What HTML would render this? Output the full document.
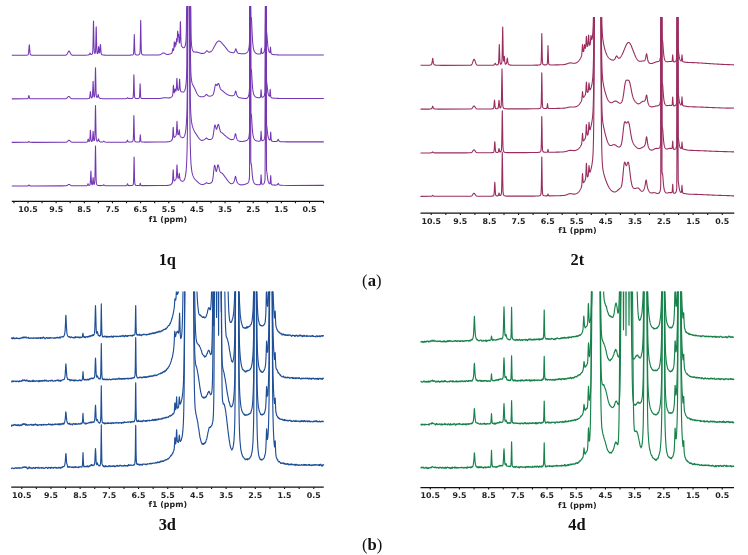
<!DOCTYPE html>
<html><head><meta charset="utf-8"><title>NMR spectra</title>
<style>html,body{margin:0;padding:0;background:#fff;}body{width:748px;height:555px;overflow:hidden;}svg{display:block;filter:blur(0.35px);}</style>
</head><body>
<svg width="748" height="555" viewBox="0 0 748 555">
<defs><clipPath id="c0"><rect x="10.80" y="6.00" width="313.90" height="194.00"/></clipPath><clipPath id="c1"><rect x="419.50" y="17.00" width="315.70" height="195.00"/></clipPath><clipPath id="c2"><rect x="10.30" y="291.50" width="314.40" height="194.50"/></clipPath><clipPath id="c3"><rect x="419.50" y="291.50" width="315.50" height="194.50"/></clipPath></defs>
<g clip-path="url(#c0)" fill="none" stroke="#7436b4" stroke-width="1.05" stroke-linejoin="round">
<path d="M11.80 55.29 24.80 55.24 26.30 55.18 27.05 55.10 27.30 55.05 27.55 54.99 27.80 54.89 28.05 54.71 28.30 54.29 28.55 53.17 28.80 50.67 29.05 46.93 29.30 44.68 29.55 46.93 29.80 50.67 30.05 53.17 30.30 54.29 30.55 54.71 30.80 54.88 31.05 54.98 31.30 55.05 31.80 55.13 32.55 55.19 34.30 55.24 65.55 55.18 65.80 55.13 66.05 55.04 66.30 54.91 66.55 54.73 66.80 54.47 67.05 54.13 67.30 53.71 67.55 53.22 67.80 52.70 68.05 52.18 68.30 51.70 68.55 51.33 68.80 51.10 69.00 51.04 69.05 51.05 69.30 51.17 69.55 51.46 69.80 51.88 70.05 52.38 70.30 52.91 70.55 53.42 70.80 53.88 71.05 54.27 71.30 54.57 71.55 54.80 71.80 54.96 72.05 55.07 72.30 55.14 72.80 55.21 85.80 55.16 87.30 55.09 88.05 55.02 88.30 54.97 88.55 54.91 88.80 54.81 89.05 54.66 89.30 54.41 89.55 53.96 89.80 53.32 90.00 53.03 90.05 53.04 90.30 53.52 90.55 54.05 90.80 54.35 91.05 54.48 91.55 54.47 91.80 54.36 92.05 54.16 92.30 53.81 92.55 53.07 92.80 50.77 93.05 43.27 93.30 28.52 93.50 20.94 93.55 21.50 93.80 34.82 94.05 47.03 94.30 51.77 94.55 53.03 94.80 53.36 95.05 53.31 95.30 52.75 95.55 50.43 95.80 43.05 96.05 30.59 96.20 26.81 96.30 28.62 96.55 40.81 96.80 49.59 97.05 52.68 97.30 53.50 97.55 53.70 97.80 53.41 98.05 52.09 98.30 49.31 98.55 46.71 98.60 46.61 98.80 48.00 99.05 51.07 99.30 52.82 99.55 52.88 99.80 51.30 100.05 48.07 100.30 44.82 100.40 44.42 100.55 45.36 100.80 49.02 101.05 52.13 101.30 53.75 101.55 54.38 101.80 54.64 102.05 54.77 102.30 54.86 102.55 54.92 103.05 55.00 103.80 55.07 105.05 55.13 108.80 55.18 130.05 55.13 131.30 55.07 132.05 55.00 132.30 54.96 132.55 54.89 132.80 54.80 133.05 54.65 133.30 54.39 133.55 53.73 133.80 51.06 134.05 42.73 134.30 34.64 134.55 42.72 134.80 51.04 135.05 53.71 135.30 54.36 135.55 54.62 135.80 54.76 136.05 54.84 136.30 54.90 136.80 54.95 138.30 54.88 138.55 54.82 138.80 54.74 139.05 54.63 139.30 54.44 139.55 54.14 139.80 53.53 140.05 51.65 140.30 43.91 140.55 26.51 140.70 20.34 140.80 23.32 141.05 41.05 141.30 50.81 141.55 53.34 141.80 54.06 142.05 54.41 142.30 54.61 142.55 54.74 142.80 54.83 143.05 54.89 143.55 54.97 144.30 55.04 145.80 55.09 157.80 55.03 158.55 54.97 159.05 54.92 159.55 54.83 159.80 54.78 160.05 54.71 160.30 54.62 160.55 54.52 160.80 54.40 161.05 54.26 161.30 54.11 161.55 53.94 161.80 53.75 162.05 53.57 162.30 53.38 162.55 53.22 162.80 53.08 163.05 52.97 163.30 52.90 163.80 52.91 164.05 52.98 164.30 53.09 164.55 53.22 164.80 53.38 165.05 53.55 165.30 53.71 165.55 53.87 165.80 54.01 166.05 54.13 166.30 54.23 166.55 54.31 166.80 54.37 167.30 54.42 168.30 54.36 168.80 54.27 169.05 54.22 169.30 54.16 169.55 54.10 169.80 54.03 170.05 53.96 170.30 53.88 170.55 53.79 170.80 53.69 171.00 53.61 171.05 53.58 171.30 53.45 171.55 53.29 171.80 53.06 172.05 52.60 172.30 51.57 172.55 49.84 172.80 48.57 173.05 49.30 173.30 50.42 173.55 50.53 173.80 48.92 174.05 45.05 174.30 41.85 174.55 44.21 174.80 47.03 175.05 46.87 175.30 44.25 175.50 42.62 175.55 42.62 175.80 44.26 176.05 44.85 176.30 42.31 176.55 38.84 176.60 38.60 176.80 39.80 177.05 41.68 177.30 39.33 177.55 33.16 177.70 31.04 177.80 31.66 178.05 36.17 178.30 36.79 178.50 34.58 178.55 34.25 178.60 34.18 178.80 36.58 179.05 40.89 179.30 42.88 179.55 42.90 179.80 40.56 180.05 33.28 180.30 23.06 180.40 21.62 180.55 25.01 180.80 35.96 181.05 42.58 181.30 44.91 181.55 45.77 181.80 46.29 182.05 46.69 182.30 47.00 182.40 47.11 182.55 47.26 182.80 47.47 183.05 47.63 183.30 47.74 183.80 47.77 184.05 47.67 184.30 47.48 184.55 47.17 184.80 46.73 185.05 46.11 185.30 45.28 185.55 44.12 185.80 42.42 186.05 39.34 186.30 32.14 186.55 12.55 186.80 3.00 190.55 3.00 190.80 8.13 191.05 32.36 191.20 38.68 191.30 41.27 191.55 45.01 191.80 47.04 192.05 48.40 192.30 49.40 192.55 50.17 192.80 50.75 193.05 51.19 193.20 51.39 193.30 51.51 193.55 51.74 193.80 51.91 194.05 52.02 194.30 52.09 197.05 52.14 197.30 52.19 197.55 52.24 197.80 52.30 198.05 52.38 198.30 52.46 198.55 52.55 198.80 52.65 199.05 52.74 199.30 52.84 199.55 52.94 199.80 53.03 200.05 53.12 200.30 53.20 200.55 53.27 200.80 53.33 201.05 53.39 201.55 53.47 203.30 53.39 203.55 53.33 203.80 53.26 204.05 53.17 204.30 53.05 204.55 52.92 204.80 52.76 205.05 52.57 205.30 52.34 205.55 52.08 205.80 51.78 206.05 51.47 206.30 51.18 206.55 50.95 206.80 50.84 207.05 50.87 207.30 51.01 207.55 51.22 207.80 51.44 208.05 51.65 208.30 51.83 208.55 51.97 208.80 52.06 209.05 52.12 209.80 52.11 210.05 52.05 210.30 51.95 210.55 51.83 210.80 51.67 211.05 51.48 211.30 51.27 211.55 51.02 211.80 50.74 212.05 50.43 212.30 50.09 212.55 49.72 212.80 49.33 213.05 48.92 213.30 48.48 213.55 48.03 213.80 47.57 214.05 47.10 214.30 46.62 214.55 46.15 214.80 45.67 215.05 45.20 215.30 44.74 215.50 44.38 215.55 44.30 215.80 43.87 216.05 43.46 216.30 43.07 216.55 42.71 216.80 42.38 217.05 42.08 217.30 41.81 217.55 41.57 217.80 41.38 218.05 41.22 218.30 41.10 218.55 41.02 219.30 41.02 219.55 41.10 219.80 41.21 220.05 41.36 220.30 41.54 220.50 41.70 220.55 41.74 220.80 41.96 221.05 42.21 221.30 42.47 221.55 42.74 221.80 43.03 222.05 43.31 222.30 43.60 222.55 43.89 222.80 44.18 223.05 44.47 223.30 44.75 223.55 45.04 223.80 45.32 224.05 45.61 224.30 45.89 224.55 46.19 224.80 46.48 225.05 46.79 225.30 47.10 225.55 47.42 225.70 47.62 225.80 47.75 226.05 48.08 226.30 48.42 226.55 48.76 226.80 49.10 227.05 49.43 227.30 49.75 227.55 50.06 227.80 50.36 228.05 50.63 228.30 50.89 228.55 51.13 228.80 51.34 229.05 51.53 229.30 51.70 229.55 51.85 229.80 51.97 230.05 52.09 230.30 52.18 230.55 52.27 230.80 52.35 231.00 52.40 231.05 52.42 231.30 52.48 231.55 52.53 231.80 52.58 232.30 52.67 233.55 52.65 233.80 52.56 234.05 52.41 234.30 52.19 234.55 51.85 234.80 51.36 235.05 50.69 235.30 49.85 235.55 49.06 235.80 48.73 236.05 49.11 236.30 49.95 236.55 50.83 236.80 51.56 237.05 52.10 237.30 52.49 237.55 52.77 237.80 52.97 238.05 53.12 238.30 53.24 238.55 53.32 238.80 53.39 239.05 53.44 239.55 53.52 240.05 53.57 240.80 53.65 241.55 53.72 242.30 53.79 244.30 53.73 244.55 53.68 244.80 53.62 245.05 53.55 245.30 53.46 245.55 53.37 245.80 53.26 246.05 53.13 246.30 52.98 246.55 52.82 246.80 52.63 247.05 52.41 247.30 52.15 247.55 51.84 247.80 51.47 248.05 51.02 248.30 50.44 248.55 49.70 248.80 48.72 249.05 47.35 249.30 45.32 249.55 41.04 249.80 3.00 250.55 3.00 250.80 18.05 251.05 18.59 251.30 17.42 251.55 20.03 251.80 25.40 252.05 31.35 252.30 36.52 252.55 40.56 252.80 43.60 253.05 45.86 253.30 47.56 253.55 48.85 253.80 49.85 254.05 50.62 254.30 51.24 254.55 51.74 254.80 52.14 255.05 52.47 255.30 52.74 255.55 52.97 255.80 53.16 256.05 53.32 256.30 53.46 256.55 53.58 256.80 53.68 257.05 53.76 257.30 53.84 257.55 53.90 257.80 53.95 258.30 54.03 259.05 54.08 260.05 54.00 260.30 53.92 260.55 53.74 260.80 53.06 261.05 50.63 261.30 47.99 261.55 50.53 261.80 52.85 262.05 53.42 262.30 53.48 262.55 53.42 262.80 53.30 263.05 53.14 263.30 52.92 263.55 52.63 263.80 52.26 264.05 51.78 264.30 51.12 264.55 50.19 264.80 48.81 265.05 46.49 265.30 3.00 266.30 3.00 266.55 32.34 266.70 32.81 266.80 33.40 267.05 36.00 267.30 39.45 267.55 42.75 267.80 45.44 268.05 47.50 268.30 49.03 268.55 50.17 268.80 51.01 269.05 51.65 269.30 52.12 269.55 52.44 269.80 52.55 270.05 51.85 270.30 49.04 270.50 47.13 270.55 47.33 270.80 50.84 271.05 53.10 271.30 53.72 271.55 53.96 271.80 54.10 272.05 54.21 272.30 54.30 272.55 54.37 272.80 54.43 273.05 54.48 273.55 54.56 274.05 54.63 274.55 54.69 275.30 54.75 276.30 54.81 277.55 54.87 279.30 54.93 282.05 54.98 287.30 55.03 315.05 55.08 323.80 55.08"/>
<path d="M11.80 98.89 26.05 98.84 27.30 98.76 27.55 98.72 27.80 98.63 28.05 98.39 28.30 97.81 28.55 96.75 28.80 95.70 28.90 95.57 29.05 95.85 29.30 96.99 29.55 97.96 29.80 98.46 30.05 98.65 30.30 98.73 30.80 98.79 32.30 98.84 65.30 98.78 65.80 98.71 66.05 98.64 66.30 98.54 66.55 98.40 66.80 98.22 67.05 97.99 67.30 97.72 67.55 97.42 67.80 97.12 68.05 96.84 68.30 96.61 68.55 96.46 68.80 96.41 69.05 96.46 69.30 96.61 69.55 96.84 69.80 97.11 70.05 97.41 70.30 97.71 70.55 97.98 70.80 98.21 71.05 98.39 71.30 98.53 71.55 98.63 71.80 98.70 72.30 98.77 86.30 98.71 87.55 98.66 88.30 98.59 88.55 98.56 88.80 98.50 89.05 98.42 89.30 98.28 89.55 97.91 89.80 96.85 90.05 94.56 90.30 91.94 90.40 91.58 90.55 92.30 90.80 95.01 91.05 96.98 91.30 97.75 91.55 97.93 91.80 97.88 92.05 97.66 92.30 96.98 92.55 94.56 92.80 88.40 93.05 81.68 93.10 81.39 93.30 85.11 93.55 92.39 93.80 96.01 94.05 96.95 94.30 96.99 94.55 96.50 94.80 94.53 95.05 87.83 95.30 74.57 95.50 67.77 95.55 68.28 95.80 80.35 96.05 91.41 96.30 95.74 96.55 96.93 96.80 97.31 97.05 97.40 97.30 97.26 97.55 96.84 97.80 95.97 98.05 94.80 98.20 94.50 98.30 94.67 98.55 95.87 98.80 96.94 99.05 97.58 99.30 97.94 99.55 98.16 99.80 98.30 100.05 98.39 100.30 98.46 100.80 98.55 101.30 98.60 102.30 98.66 104.55 98.71 125.30 98.66 126.05 98.59 126.30 98.55 126.55 98.48 126.80 98.36 127.05 98.14 127.30 97.83 127.50 97.69 127.55 97.70 127.80 97.95 128.05 98.23 128.30 98.40 128.55 98.49 128.80 98.54 129.55 98.60 131.30 98.54 131.80 98.47 132.05 98.41 132.30 98.32 132.55 98.18 132.80 97.94 133.05 97.44 133.30 95.69 133.55 88.96 133.80 76.74 133.90 74.68 134.05 78.94 134.30 90.93 134.55 96.27 134.80 97.57 135.05 97.98 135.30 98.19 135.55 98.32 135.80 98.40 136.05 98.45 136.55 98.51 138.30 98.46 138.55 98.40 138.80 98.31 139.05 98.14 139.30 97.77 139.55 96.33 139.80 91.25 140.05 84.19 140.10 83.86 140.30 88.06 140.55 94.89 140.80 97.44 141.05 98.05 141.30 98.27 141.55 98.39 141.80 98.46 142.30 98.54 143.05 98.59 158.80 98.54 159.80 98.47 160.30 98.42 160.80 98.35 161.30 98.27 161.80 98.18 162.05 98.12 162.30 98.07 162.55 98.02 162.80 97.96 163.05 97.91 163.30 97.86 163.80 97.77 164.30 97.70 166.80 97.78 167.30 97.85 167.80 97.91 169.55 97.89 169.80 97.84 170.05 97.77 170.30 97.69 170.55 97.59 170.80 97.46 171.05 97.32 171.30 97.15 171.55 96.95 171.80 96.71 172.05 96.42 172.30 96.06 172.55 95.48 172.80 94.09 173.05 90.65 173.30 85.98 173.40 85.20 173.55 86.35 173.80 90.43 174.05 92.63 174.30 92.76 174.55 91.67 174.80 89.85 175.00 88.90 175.05 88.89 175.30 89.87 175.55 90.92 175.80 91.20 176.05 90.77 176.30 89.18 176.55 84.93 176.80 79.11 176.90 78.21 177.05 79.89 177.30 85.56 177.50 88.48 177.55 88.91 177.80 89.94 178.05 90.19 178.30 90.24 178.55 90.16 178.80 89.77 179.05 88.16 179.30 83.93 179.55 79.32 179.60 79.14 179.80 81.89 180.05 87.20 180.30 89.95 180.55 90.87 180.80 91.24 181.05 91.47 181.30 91.64 181.55 91.78 181.80 91.89 182.05 91.98 182.30 92.04 182.80 92.10 183.05 92.08 183.30 92.03 183.55 91.93 183.80 91.78 184.05 91.55 184.30 91.25 184.55 90.84 184.80 90.29 185.05 89.58 185.30 88.66 185.55 87.45 185.80 85.87 186.05 83.78 186.30 80.89 186.55 76.32 186.80 66.28 187.05 35.46 187.30 3.00 190.05 3.00 190.30 20.39 190.55 59.14 190.80 71.03 191.05 75.80 191.30 78.55 191.55 80.44 191.80 81.83 192.05 82.88 192.30 83.69 192.55 84.35 192.80 84.90 192.90 85.10 193.05 85.39 193.30 85.85 193.55 86.30 193.80 86.75 194.05 87.22 194.30 87.71 194.55 88.22 194.70 88.54 194.80 88.76 195.05 89.31 195.30 89.87 195.55 90.44 195.80 91.01 196.05 91.58 196.30 92.13 196.55 92.66 196.80 93.16 197.05 93.64 197.30 94.08 197.55 94.48 197.80 94.84 198.05 95.17 198.30 95.45 198.55 95.70 198.80 95.92 199.05 96.10 199.30 96.25 199.55 96.38 199.80 96.48 200.05 96.56 200.30 96.63 200.55 96.68 201.00 96.75 201.80 96.80 203.05 96.72 203.30 96.67 203.55 96.60 203.80 96.51 204.05 96.40 204.30 96.27 204.55 96.11 204.80 95.91 205.05 95.68 205.30 95.41 205.55 95.12 205.80 94.83 206.05 94.59 206.30 94.46 206.55 94.45 206.80 94.57 207.05 94.78 207.30 95.04 207.55 95.29 207.80 95.51 208.05 95.70 208.30 95.85 208.55 95.97 208.80 96.06 209.05 96.12 209.55 96.19 210.55 96.09 210.80 96.03 211.05 95.95 211.30 95.86 211.55 95.76 211.80 95.65 212.05 95.52 212.30 95.36 212.55 95.18 212.80 94.95 213.05 94.63 213.30 94.20 213.55 93.59 213.80 92.78 214.05 91.73 214.30 90.45 214.55 89.02 214.80 87.54 215.05 86.19 215.30 85.11 215.55 84.44 215.60 84.36 215.80 84.22 216.05 84.37 216.30 84.76 216.55 85.20 216.80 85.51 217.00 85.57 217.05 85.56 217.30 85.32 217.55 84.85 217.80 84.28 218.05 83.76 218.30 83.45 218.55 83.43 218.80 83.74 219.05 84.34 219.30 85.15 219.55 86.06 219.80 86.96 220.05 87.78 220.30 88.47 220.55 89.01 220.80 89.42 221.05 89.72 221.30 89.94 221.50 90.09 221.55 90.12 221.80 90.28 222.00 90.40 222.05 90.43 222.30 90.59 222.55 90.77 222.80 90.95 223.05 91.15 223.30 91.36 223.55 91.58 223.80 91.81 224.05 92.04 224.30 92.27 224.55 92.49 224.80 92.71 225.05 92.93 225.30 93.14 225.55 93.34 225.80 93.53 226.05 93.71 226.30 93.89 226.50 94.02 226.55 94.05 226.80 94.21 227.05 94.36 227.30 94.50 227.55 94.63 227.80 94.75 228.05 94.87 228.30 94.98 228.55 95.08 228.80 95.18 229.05 95.27 229.30 95.35 229.55 95.42 229.80 95.49 230.05 95.55 230.30 95.61 230.80 95.69 231.30 95.76 233.05 95.70 233.30 95.64 233.55 95.53 233.80 95.38 234.05 95.17 234.30 94.85 234.55 94.39 234.80 93.74 235.05 92.87 235.30 91.87 235.55 91.12 235.70 91.01 235.80 91.11 236.05 91.91 236.30 93.05 236.55 94.11 236.80 94.96 237.05 95.60 237.30 96.08 237.55 96.45 237.80 96.74 238.05 96.98 238.30 97.17 238.55 97.33 238.80 97.46 239.05 97.57 239.30 97.67 239.55 97.75 239.80 97.82 240.05 97.88 240.30 97.94 240.80 98.02 241.30 98.08 241.80 98.14 242.30 98.19 242.80 98.24 243.30 98.31 243.80 98.38 244.30 98.45 244.80 98.52 245.55 98.58 246.30 98.50 246.55 98.43 246.80 98.32 247.05 98.18 247.30 97.98 247.50 97.79 247.55 97.74 247.80 97.42 248.05 97.01 248.30 96.49 248.55 95.81 248.80 94.91 249.05 93.67 249.30 91.82 249.55 87.80 249.80 3.00 250.55 3.00 250.80 68.68 251.05 70.26 251.30 69.46 251.55 71.52 251.80 75.69 252.05 80.29 252.30 84.28 252.55 87.39 252.80 89.72 253.05 91.46 253.30 92.76 253.55 93.74 253.80 94.50 254.05 95.09 254.30 95.56 254.55 95.94 254.80 96.25 255.05 96.50 255.30 96.71 255.55 96.89 255.80 97.03 256.05 97.16 256.30 97.27 256.55 97.36 256.80 97.43 257.05 97.50 257.30 97.56 257.80 97.64 258.30 97.70 259.80 97.65 260.05 97.57 260.30 97.39 260.55 96.74 260.80 94.10 261.05 89.94 261.10 89.73 261.30 92.23 261.55 95.92 261.80 97.06 262.05 97.26 262.55 97.25 262.80 97.17 263.05 97.05 263.30 96.88 263.55 96.67 263.80 96.38 264.05 96.01 264.30 95.48 264.55 94.74 264.80 93.59 265.05 91.58 265.30 48.05 265.55 3.00 266.05 3.00 266.30 40.73 266.55 81.67 266.70 82.28 266.80 82.80 267.05 84.80 267.30 87.31 267.55 89.68 267.80 91.61 268.05 93.06 268.30 94.15 268.55 94.94 268.80 95.52 269.05 95.93 269.30 96.18 269.55 96.12 269.80 94.77 270.05 90.81 270.20 89.31 270.30 90.15 270.55 94.60 270.80 96.78 271.05 97.34 271.30 97.56 271.55 97.70 271.80 97.80 272.05 97.88 272.30 97.94 272.55 97.99 273.05 98.07 273.55 98.14 274.30 98.21 275.05 98.26 276.05 98.31 277.55 98.36 280.05 98.41 285.55 98.46 323.80 98.48"/>
<path d="M11.80 142.39 27.05 142.34 27.80 142.29 28.05 142.22 28.30 142.04 28.55 141.72 28.80 141.41 28.90 141.37 29.05 141.45 29.30 141.80 29.55 142.09 29.80 142.24 30.05 142.30 31.55 142.35 64.80 142.30 65.80 142.24 66.05 142.20 66.30 142.14 66.55 142.05 66.80 141.92 67.05 141.76 67.30 141.56 67.55 141.33 67.80 141.08 68.05 140.83 68.30 140.61 68.55 140.43 68.80 140.32 69.05 140.29 69.30 140.35 69.55 140.49 69.80 140.69 70.05 140.93 70.30 141.18 70.55 141.42 70.80 141.64 71.05 141.82 71.30 141.97 71.55 142.08 71.80 142.15 72.05 142.21 72.55 142.26 84.55 142.21 86.05 142.15 86.80 142.07 87.05 142.01 87.30 141.87 87.55 141.49 87.80 140.61 88.05 139.40 88.20 139.06 88.30 139.20 88.55 140.27 88.80 141.17 89.05 141.52 89.30 141.50 89.55 141.17 89.80 139.88 90.05 136.21 90.30 131.10 90.40 130.35 90.55 131.92 90.80 137.13 91.05 140.21 91.30 141.18 91.55 141.41 91.80 141.44 92.05 141.34 92.30 140.93 92.55 139.43 92.80 135.58 93.05 131.38 93.10 131.19 93.30 133.49 93.55 137.98 93.80 140.17 94.05 140.65 94.30 140.50 94.55 139.82 94.80 137.43 95.05 129.45 95.30 113.71 95.50 105.64 95.55 106.25 95.80 120.56 96.05 133.70 96.30 138.86 96.55 140.33 96.80 140.86 97.05 141.11 97.30 141.21 97.55 141.17 97.80 140.98 98.05 140.54 98.30 139.74 98.55 139.02 98.60 138.99 98.80 139.43 99.05 140.39 99.30 141.05 99.55 141.43 99.80 141.65 100.05 141.78 100.30 141.87 100.55 141.92 101.05 141.99 102.55 141.92 102.80 141.84 103.05 141.69 103.30 141.47 103.55 141.22 103.70 141.17 103.80 141.19 104.05 141.43 104.30 141.68 104.55 141.85 104.80 141.95 105.05 142.02 105.55 142.09 106.55 142.15 126.05 142.10 126.30 142.07 126.55 142.00 126.80 141.80 127.05 141.30 127.30 140.51 127.50 140.15 127.55 140.18 127.80 140.83 128.05 141.54 128.30 141.89 128.55 142.01 129.05 142.07 131.30 142.00 131.80 141.92 132.05 141.85 132.30 141.75 132.55 141.59 132.80 141.32 133.05 140.77 133.30 138.83 133.55 131.34 133.80 117.74 133.90 115.45 134.05 120.19 134.30 133.53 134.55 139.47 134.80 140.92 135.05 141.38 135.30 141.62 135.55 141.76 135.80 141.85 136.05 141.91 136.55 141.98 137.55 142.03 138.80 141.98 139.05 141.93 139.30 141.83 139.55 141.60 139.80 140.66 140.05 137.69 140.30 134.82 140.55 137.69 140.80 140.66 141.05 141.61 141.30 141.85 141.55 141.94 141.80 141.99 142.30 142.05 144.30 142.10 157.30 142.05 162.05 142.00 165.05 141.94 166.80 141.88 167.80 141.81 168.30 141.76 168.80 141.69 169.05 141.64 169.30 141.58 169.55 141.52 169.80 141.45 170.05 141.36 170.30 141.26 170.55 141.15 170.80 141.01 171.05 140.86 171.30 140.68 171.55 140.46 171.80 140.20 172.05 139.86 172.30 139.34 172.55 138.07 172.80 134.63 173.05 129.01 173.20 127.22 173.30 127.88 173.55 132.81 173.80 136.28 174.05 137.31 174.30 137.38 174.55 137.22 174.80 136.99 175.05 136.71 175.30 136.41 175.55 136.07 175.80 135.69 176.05 135.17 176.30 134.03 176.55 130.77 176.80 124.56 177.00 121.36 177.05 121.57 177.30 126.98 177.50 131.24 177.55 131.97 177.80 133.91 178.05 134.46 178.30 134.62 178.55 134.51 178.80 133.63 179.05 131.40 179.30 129.70 179.55 131.80 179.80 134.42 180.05 135.70 180.30 136.22 180.55 136.53 180.80 136.79 181.05 137.00 181.30 137.19 181.55 137.36 181.80 137.49 182.05 137.59 182.30 137.66 182.80 137.66 183.05 137.60 183.30 137.47 183.55 137.29 183.80 137.03 184.05 136.69 184.30 136.26 184.55 135.70 184.80 135.00 185.05 134.13 185.30 133.03 185.55 131.65 185.80 129.88 186.05 127.60 186.30 124.60 186.55 120.58 186.80 114.96 187.05 106.19 187.30 85.59 187.55 6.02 187.80 3.00 189.80 3.00 190.05 72.72 190.30 98.24 190.55 107.54 190.80 113.02 191.05 116.81 191.30 119.58 191.55 121.66 191.80 123.28 192.05 124.59 192.30 125.67 192.55 126.60 192.80 127.41 193.05 128.14 193.30 128.81 193.55 129.42 193.80 130.00 194.05 130.54 194.30 131.05 194.55 131.53 194.80 131.99 195.05 132.42 195.30 132.83 195.55 133.23 195.80 133.62 196.05 134.00 196.30 134.37 196.40 134.52 196.55 134.74 196.80 135.11 197.05 135.48 197.30 135.85 197.55 136.23 197.80 136.60 198.05 136.98 198.30 137.34 198.55 137.70 198.80 138.05 199.05 138.39 199.30 138.70 199.55 139.00 199.80 139.27 200.05 139.51 200.30 139.72 200.55 139.91 200.80 140.06 201.05 140.19 201.30 140.28 201.55 140.35 202.55 140.35 202.80 140.29 203.05 140.21 203.30 140.12 203.55 140.01 203.80 139.89 204.05 139.75 204.30 139.60 204.55 139.42 204.80 139.23 205.05 139.02 205.30 138.79 205.50 138.59 205.55 138.55 205.80 138.32 206.05 138.13 206.30 138.04 206.55 138.05 206.80 138.17 207.05 138.37 207.30 138.59 207.55 138.82 207.80 139.02 208.05 139.19 208.30 139.33 208.55 139.43 208.80 139.51 209.05 139.56 210.05 139.54 210.30 139.49 210.55 139.42 210.80 139.33 211.05 139.23 211.30 139.11 211.55 138.97 211.80 138.78 212.05 138.54 212.30 138.20 212.55 137.70 212.80 137.00 213.05 136.02 213.30 134.72 213.55 133.12 213.80 131.27 214.05 129.34 214.30 127.55 214.55 126.12 214.80 125.25 214.90 125.09 215.05 125.04 215.30 125.46 215.55 126.33 215.80 127.40 216.05 128.39 216.30 129.07 216.50 129.27 216.55 129.27 216.80 128.97 217.00 128.40 217.05 128.23 217.30 127.20 217.55 126.10 217.80 125.15 218.05 124.50 218.20 124.32 218.30 124.29 218.55 124.54 218.80 125.21 219.05 126.17 219.30 127.30 219.55 128.45 219.80 129.50 220.05 130.39 220.30 131.09 220.55 131.62 220.80 131.99 221.05 132.25 221.30 132.45 221.50 132.58 221.55 132.61 221.80 132.76 222.00 132.88 222.05 132.91 222.30 133.07 222.55 133.25 222.80 133.44 223.05 133.65 223.30 133.87 223.55 134.10 223.80 134.33 224.05 134.57 224.30 134.80 224.55 135.04 224.80 135.27 225.05 135.50 225.30 135.73 225.55 135.95 225.80 136.17 226.05 136.38 226.30 136.58 226.50 136.75 226.55 136.79 226.80 136.99 227.05 137.19 227.30 137.39 227.55 137.58 227.80 137.77 228.05 137.96 228.20 138.07 228.30 138.14 228.55 138.32 228.80 138.49 229.05 138.65 229.30 138.81 229.55 138.95 229.80 139.08 230.05 139.20 230.30 139.31 230.55 139.40 230.80 139.47 231.05 139.54 231.55 139.61 232.55 139.56 232.80 139.49 233.05 139.39 233.30 139.26 233.55 139.07 233.80 138.80 234.05 138.43 234.30 137.90 234.55 137.16 234.80 136.16 235.05 134.97 235.30 133.96 235.50 133.68 235.55 133.71 235.80 134.45 236.05 135.72 236.30 136.97 236.55 137.99 236.80 138.75 237.05 139.32 237.30 139.75 237.55 140.08 237.80 140.34 238.05 140.55 238.30 140.72 238.55 140.87 238.80 140.98 239.05 141.08 239.30 141.17 239.55 141.23 239.80 141.29 240.30 141.38 240.80 141.43 243.05 141.37 243.55 141.31 244.05 141.23 244.30 141.18 244.55 141.13 244.80 141.08 245.05 141.02 245.30 140.95 245.55 140.88 245.80 140.80 246.05 140.70 246.30 140.60 246.40 140.55 246.55 140.48 246.80 140.34 247.05 140.18 247.30 139.99 247.55 139.76 247.80 139.48 248.05 139.12 248.30 138.67 248.55 138.09 248.80 137.30 249.05 136.19 249.30 134.49 249.55 130.65 249.80 3.00 250.55 3.00 250.80 113.09 251.05 115.03 251.30 114.43 251.55 116.43 251.80 120.38 252.05 124.71 252.30 128.47 252.55 131.40 252.80 133.61 253.05 135.25 253.30 136.48 253.55 137.42 253.80 138.14 254.05 138.70 254.30 139.15 254.55 139.51 254.80 139.80 255.05 140.04 255.30 140.23 255.55 140.40 255.80 140.54 256.05 140.66 256.30 140.76 256.55 140.84 256.80 140.91 257.05 140.97 257.30 141.02 257.80 141.10 258.55 141.16 259.55 141.11 259.80 141.05 260.05 140.95 260.30 140.73 260.55 139.91 260.80 136.62 261.05 131.43 261.10 131.17 261.30 134.30 261.55 138.92 261.80 140.35 262.05 140.62 262.30 140.67 262.55 140.65 262.80 140.57 263.05 140.46 263.30 140.30 263.55 140.08 263.80 139.80 264.05 139.42 264.30 138.90 264.55 138.16 264.80 137.01 265.05 135.00 265.30 91.47 265.55 3.00 266.05 3.00 266.30 84.15 266.55 125.09 266.70 125.70 266.80 126.22 267.05 128.22 267.30 130.74 267.55 133.11 267.80 135.03 268.05 136.49 268.30 137.58 268.55 138.39 268.80 138.99 269.05 139.43 269.30 139.76 269.55 139.98 269.80 140.07 270.05 139.87 270.30 138.24 270.55 133.70 270.70 131.97 270.80 132.89 271.05 137.84 271.30 140.25 271.55 140.84 271.80 141.06 272.05 141.19 272.30 141.28 272.55 141.34 272.80 141.40 273.30 141.47 273.80 141.53 274.80 141.58 276.30 141.51 276.55 141.45 276.80 141.37 277.05 141.23 277.30 141.00 277.55 140.63 277.80 140.05 278.05 139.44 278.20 139.29 278.30 139.36 278.55 139.94 278.80 140.56 279.05 140.98 279.30 141.24 279.55 141.41 279.80 141.52 280.05 141.59 280.30 141.64 280.80 141.71 281.55 141.77 283.05 141.82 287.30 141.87 323.80 141.88"/>
<path d="M11.80 185.99 27.05 185.94 27.80 185.89 28.05 185.82 28.30 185.64 28.55 185.32 28.80 185.00 28.90 184.96 29.05 185.05 29.30 185.39 29.55 185.68 29.80 185.83 30.05 185.89 31.55 185.94 61.55 185.89 65.80 185.84 66.30 185.76 66.55 185.69 66.80 185.60 67.05 185.48 67.30 185.33 67.55 185.16 67.80 184.97 68.05 184.78 68.30 184.61 68.55 184.48 68.80 184.40 69.30 184.42 69.55 184.52 69.80 184.67 70.05 184.85 70.30 185.04 70.55 185.22 70.80 185.38 71.05 185.52 71.30 185.63 71.55 185.71 71.80 185.77 72.30 185.83 85.05 185.78 86.30 185.72 86.80 185.66 87.05 185.59 87.30 185.38 87.55 184.87 87.80 184.06 88.00 183.69 88.05 183.71 88.30 184.34 88.55 185.02 88.80 185.34 89.05 185.41 89.30 185.37 89.55 185.27 89.80 185.07 90.05 184.59 90.30 182.94 90.55 178.30 90.80 171.88 90.90 170.93 91.05 172.90 91.30 179.43 91.55 183.28 91.80 184.47 92.05 184.72 92.30 184.55 92.55 183.52 92.80 180.76 93.05 177.72 93.10 177.59 93.30 179.25 93.55 182.49 93.80 184.04 94.05 184.32 94.30 184.07 94.55 183.30 94.80 180.68 95.05 171.97 95.30 154.80 95.50 146.01 95.55 146.67 95.80 162.29 96.05 176.63 96.30 182.29 96.55 183.92 96.80 184.55 97.05 184.90 97.30 185.12 97.55 185.26 97.80 185.37 98.05 185.44 98.30 185.50 98.80 185.58 99.55 185.64 102.30 185.59 102.55 185.54 102.80 185.45 103.05 185.30 103.30 185.07 103.55 184.82 103.70 184.76 103.80 184.79 104.05 185.02 104.30 185.27 104.55 185.44 104.80 185.54 105.05 185.61 105.55 185.68 106.55 185.73 126.05 185.66 126.30 185.63 126.55 185.57 126.80 185.37 127.05 184.86 127.30 184.07 127.50 183.72 127.55 183.74 127.80 184.39 128.05 185.10 128.30 185.46 128.55 185.58 129.05 185.64 131.30 185.58 131.80 185.51 132.05 185.45 132.30 185.37 132.55 185.26 132.80 185.07 133.05 184.75 133.30 184.02 133.55 181.23 133.80 171.41 134.05 157.77 134.10 157.12 134.30 165.24 134.55 178.44 134.80 183.36 135.05 184.53 135.30 184.96 135.55 185.18 135.80 185.32 136.05 185.41 136.30 185.47 136.80 185.55 137.55 185.60 139.30 185.57 139.55 185.49 139.80 185.17 140.05 184.16 140.30 183.17 140.55 184.16 140.80 185.18 141.05 185.50 141.30 185.58 141.80 185.63 159.55 185.58 163.30 185.53 165.80 185.47 167.05 185.42 167.80 185.36 168.30 185.31 168.80 185.24 169.05 185.19 169.30 185.13 169.55 185.07 169.80 184.99 170.05 184.91 170.30 184.81 170.55 184.69 170.80 184.55 171.05 184.40 171.30 184.21 171.55 183.99 171.80 183.72 172.05 183.38 172.30 182.82 172.55 181.46 172.80 177.76 173.05 171.69 173.20 169.77 173.30 170.49 173.55 175.86 173.80 179.65 174.05 180.79 174.30 180.89 174.55 180.74 174.80 180.52 175.05 180.25 175.30 179.95 175.55 179.61 175.80 179.23 176.05 178.72 176.30 177.58 176.55 174.32 176.80 168.11 177.00 164.90 177.05 165.12 177.30 170.53 177.50 174.79 177.55 175.51 177.80 177.46 178.05 178.00 178.30 178.17 178.55 178.06 178.80 177.18 179.05 174.95 179.30 173.25 179.55 175.35 179.80 177.96 180.05 179.24 180.30 179.77 180.55 180.08 180.80 180.33 181.05 180.55 181.30 180.74 181.55 180.91 181.80 181.04 182.05 181.14 182.30 181.21 182.80 181.22 183.05 181.15 183.30 181.03 183.55 180.85 183.80 180.60 184.05 180.27 184.30 179.85 184.55 179.31 184.80 178.63 185.05 177.78 185.30 176.71 185.55 175.37 185.80 173.65 186.05 171.43 186.30 168.50 186.55 164.56 186.80 159.10 187.05 151.26 187.30 139.46 187.55 118.22 187.80 41.27 188.05 3.00 189.55 3.00 189.80 108.89 190.05 134.01 190.30 146.61 190.55 154.75 190.80 160.32 191.05 164.28 191.30 167.18 191.55 169.38 191.80 171.08 192.05 172.44 192.30 173.54 192.55 174.46 192.80 175.25 193.05 175.92 193.30 176.51 193.55 177.04 193.80 177.51 194.05 177.94 194.30 178.33 194.55 178.69 194.80 179.02 195.05 179.33 195.30 179.61 195.55 179.89 195.80 180.15 196.05 180.40 196.30 180.64 196.40 180.74 196.55 180.88 196.80 181.12 197.05 181.35 197.30 181.59 197.55 181.82 197.80 182.05 198.05 182.28 198.30 182.51 198.55 182.73 198.80 182.94 199.05 183.15 199.30 183.34 199.55 183.52 199.80 183.69 200.05 183.84 200.30 183.98 200.55 184.10 200.80 184.20 201.05 184.29 201.30 184.36 201.55 184.41 202.05 184.47 203.30 184.38 203.55 184.32 203.80 184.25 204.05 184.17 204.30 184.07 204.55 183.95 204.80 183.82 205.05 183.66 205.30 183.49 205.50 183.34 205.55 183.30 205.80 183.11 206.05 182.95 206.30 182.85 206.55 182.82 206.80 182.88 207.05 182.98 207.30 183.10 207.55 183.21 207.80 183.31 208.05 183.38 208.55 183.45 209.55 183.36 209.80 183.30 210.05 183.22 210.30 183.14 210.55 183.05 210.80 182.95 211.05 182.83 211.30 182.69 211.55 182.50 211.80 182.23 212.05 181.82 212.30 181.20 212.55 180.28 212.80 178.98 213.05 177.25 213.30 175.11 213.55 172.69 213.80 170.21 214.05 167.97 214.30 166.27 214.50 165.48 214.55 165.37 214.60 165.29 214.80 165.35 215.05 166.13 215.30 167.47 215.55 169.00 215.80 170.36 216.00 171.12 216.05 171.25 216.30 171.49 216.55 171.06 216.80 170.07 217.00 169.01 217.05 168.73 217.30 167.31 217.55 166.07 217.70 165.50 217.80 165.22 217.90 165.02 218.05 164.89 218.30 165.11 218.55 165.79 218.80 166.81 219.05 167.98 219.30 169.15 219.55 170.19 219.80 171.04 220.05 171.67 220.30 172.10 220.55 172.38 220.80 172.55 221.00 172.65 221.05 172.67 221.30 172.78 221.55 172.89 221.80 173.03 222.05 173.20 222.30 173.41 222.55 173.65 222.80 173.92 223.05 174.22 223.30 174.54 223.55 174.87 223.80 175.22 224.05 175.57 224.30 175.92 224.55 176.28 224.80 176.63 225.05 176.98 225.30 177.34 225.55 177.68 225.80 178.03 226.00 178.31 226.05 178.38 226.30 178.72 226.55 179.06 226.80 179.40 227.05 179.74 227.30 180.07 227.55 180.41 227.80 180.73 228.05 181.05 228.30 181.37 228.55 181.67 228.80 181.96 229.05 182.23 229.30 182.49 229.55 182.73 229.80 182.94 230.05 183.13 230.30 183.29 230.55 183.43 230.80 183.54 231.05 183.61 231.55 183.67 231.80 183.65 232.05 183.60 232.30 183.51 232.55 183.39 232.80 183.24 233.05 183.04 233.30 182.79 233.55 182.49 233.80 182.11 234.05 181.61 234.30 180.97 234.55 180.12 234.80 179.02 235.05 177.74 235.30 176.65 235.50 176.32 235.55 176.34 235.80 177.04 236.05 178.28 236.30 179.52 236.55 180.54 236.80 181.32 237.05 181.92 237.30 182.39 237.55 182.78 237.80 183.10 238.05 183.37 238.30 183.61 238.55 183.82 238.80 184.00 239.05 184.17 239.30 184.31 239.55 184.44 239.80 184.55 240.05 184.64 240.30 184.72 240.55 184.78 241.05 184.86 242.80 184.80 243.30 184.71 243.55 184.66 243.80 184.60 244.05 184.54 244.30 184.47 244.55 184.40 244.80 184.33 245.05 184.25 245.30 184.18 245.55 184.10 245.80 184.02 246.05 183.93 246.30 183.85 246.40 183.81 246.55 183.75 246.80 183.65 247.05 183.53 247.30 183.39 247.55 183.22 247.80 183.02 248.05 182.76 248.30 182.42 248.55 181.97 248.80 181.34 249.05 180.42 249.30 178.96 249.55 175.43 249.80 3.00 250.55 3.00 250.80 161.32 251.05 164.12 251.30 163.88 251.55 165.55 251.80 168.66 252.05 172.04 252.30 174.97 252.55 177.25 252.80 178.97 253.05 180.24 253.30 181.20 253.55 181.93 253.80 182.49 254.05 182.93 254.30 183.28 254.55 183.56 254.80 183.79 255.05 183.97 255.30 184.12 255.55 184.25 255.80 184.36 256.05 184.45 256.30 184.53 256.55 184.59 256.80 184.65 257.30 184.73 257.80 184.79 259.55 184.76 259.80 184.70 260.05 184.59 260.30 184.37 260.55 183.56 260.80 180.26 261.05 175.08 261.10 174.81 261.30 177.94 261.55 182.57 261.80 184.01 262.05 184.28 262.30 184.34 262.55 184.32 262.80 184.26 263.05 184.16 263.30 184.02 263.55 183.83 263.80 183.57 264.05 183.23 264.30 182.75 264.55 182.07 264.80 181.00 265.05 179.09 265.30 135.70 265.55 3.00 266.05 3.00 266.30 129.42 266.55 170.59 266.70 171.24 266.80 171.75 267.05 173.55 267.30 175.75 267.55 177.81 267.80 179.48 268.05 180.74 268.30 181.68 268.55 182.38 268.80 182.90 269.05 183.28 269.30 183.55 269.55 183.73 269.80 183.80 270.05 183.57 270.30 181.92 270.55 177.36 270.70 175.63 270.80 176.54 271.05 181.48 271.30 183.88 271.55 184.46 271.80 184.67 272.05 184.79 272.30 184.87 272.55 184.94 273.05 185.02 273.55 185.08 274.30 185.13 276.55 185.06 276.80 184.99 277.05 184.88 277.30 184.70 277.55 184.40 277.80 183.94 278.05 183.45 278.20 183.33 278.30 183.39 278.55 183.85 278.80 184.34 279.05 184.68 279.30 184.89 279.55 185.03 279.80 185.11 280.05 185.17 280.55 185.24 281.30 185.30 282.80 185.35 289.05 185.40 323.80 185.38"/>
</g>
<line x1="11.80" y1="201.40" x2="323.75" y2="201.40" stroke="#111" stroke-width="1.3"/>
<path d="M13.93 201.40v1.90 M28.00 201.40v1.90 M42.07 201.40v1.90 M56.15 201.40v1.90 M70.23 201.40v1.90 M84.30 201.40v1.90 M98.38 201.40v1.90 M112.45 201.40v1.90 M126.53 201.40v1.90 M140.60 201.40v1.90 M154.68 201.40v1.90 M168.75 201.40v1.90 M182.82 201.40v1.90 M196.90 201.40v1.90 M210.98 201.40v1.90 M225.05 201.40v1.90 M239.12 201.40v1.90 M253.20 201.40v1.90 M267.27 201.40v1.90 M281.35 201.40v1.90 M295.43 201.40v1.90 M309.50 201.40v1.90 M323.57 201.40v1.90" stroke="#111" stroke-width="1.1"/>
<g font-family="DejaVu Sans, Verdana, sans-serif" font-weight="bold" font-size="7.90" fill="#222" text-anchor="middle"><text x="28.00" y="212.00">10.5</text><text x="56.15" y="212.00">9.5</text><text x="84.30" y="212.00">8.5</text><text x="112.45" y="212.00">7.5</text><text x="140.60" y="212.00">6.5</text><text x="168.75" y="212.00">5.5</text><text x="196.90" y="212.00">4.5</text><text x="225.05" y="212.00">3.5</text><text x="253.20" y="212.00">2.5</text><text x="281.35" y="212.00">1.5</text><text x="309.50" y="212.00">0.5</text></g>
<text x="167.90" y="221.60" font-family="DejaVu Sans, Verdana, sans-serif" font-weight="bold" font-size="7.90" fill="#222" text-anchor="middle">f1 (ppm)</text>
<g clip-path="url(#c1)" fill="none" stroke="#9a2c5e" stroke-width="1.10" stroke-linejoin="round">
<path d="M420.50 65.32 427.75 65.27 429.00 65.21 429.75 65.14 430.25 65.06 430.50 65.00 430.75 64.91 431.00 64.78 431.25 64.60 431.50 64.31 431.75 63.82 432.00 62.98 432.25 61.47 432.50 59.31 432.70 58.34 432.75 58.41 433.00 60.19 433.25 62.17 433.50 63.38 433.75 64.05 434.00 64.44 434.25 64.68 434.50 64.84 434.75 64.95 435.00 65.03 435.25 65.08 435.75 65.16 436.50 65.22 437.75 65.28 442.00 65.33 470.50 65.28 470.75 65.23 471.00 65.14 471.25 64.99 471.50 64.78 471.75 64.47 472.00 64.05 472.25 63.52 472.50 62.88 472.75 62.16 473.00 61.41 473.25 60.68 473.50 60.06 473.75 59.60 474.00 59.37 474.25 59.40 474.50 59.67 474.75 60.17 475.00 60.82 475.25 61.56 475.50 62.31 475.75 63.02 476.00 63.64 476.25 64.14 476.50 64.54 476.75 64.82 477.00 65.02 477.25 65.16 477.50 65.24 478.00 65.32 491.75 65.26 492.75 65.21 493.25 65.16 493.50 65.12 493.75 65.06 494.00 64.97 494.25 64.83 494.50 64.58 494.75 64.14 495.00 63.51 495.20 63.23 495.25 63.24 495.50 63.74 495.75 64.29 496.00 64.61 496.25 64.78 496.50 64.87 497.25 64.87 497.50 64.81 497.75 64.71 498.00 64.53 498.25 64.21 498.50 63.36 498.75 60.43 499.00 53.01 499.25 44.93 499.30 44.58 499.50 49.11 499.75 57.95 500.00 62.42 500.25 63.74 500.50 64.10 500.75 64.20 501.00 64.16 501.25 63.99 501.50 63.63 501.75 62.83 502.00 60.28 502.25 51.90 502.50 35.41 502.70 26.94 502.75 27.56 503.00 42.41 503.25 55.95 503.50 60.84 503.75 60.95 504.00 58.68 504.25 56.37 504.30 56.31 504.50 57.87 504.75 61.13 505.00 63.18 505.25 63.96 505.50 64.17 505.75 64.16 506.00 64.02 506.25 63.70 506.50 63.08 506.75 61.92 507.00 59.97 507.25 58.21 507.30 58.15 507.50 59.13 507.75 61.31 508.00 62.83 508.25 63.69 508.50 64.18 508.75 64.48 509.00 64.68 509.25 64.81 509.50 64.90 509.75 64.97 510.00 65.02 510.50 65.10 511.25 65.16 512.50 65.22 516.50 65.27 532.25 65.22 536.00 65.16 537.75 65.11 538.75 65.04 539.25 64.98 539.50 64.93 539.75 64.87 540.00 64.78 540.25 64.65 540.50 64.44 540.75 64.08 541.00 63.27 541.25 60.20 541.50 49.38 541.75 34.35 541.80 33.64 542.00 42.58 542.25 57.12 542.50 62.52 542.75 63.82 543.00 64.28 543.25 64.52 543.50 64.67 543.75 64.76 544.00 64.82 544.50 64.89 546.00 64.84 546.25 64.79 546.50 64.71 546.75 64.57 547.00 64.32 547.25 63.69 547.50 61.16 547.75 53.24 548.00 45.55 548.25 53.23 548.50 61.15 548.75 63.69 549.00 64.31 549.25 64.56 549.50 64.70 549.75 64.78 550.00 64.83 550.50 64.90 552.00 64.95 556.25 64.90 558.25 64.85 560.00 64.79 561.50 64.73 562.50 64.68 563.25 64.63 564.00 64.56 564.50 64.49 565.00 64.40 565.25 64.35 565.50 64.29 565.75 64.22 566.00 64.15 566.25 64.08 566.50 63.99 566.75 63.91 567.00 63.81 567.25 63.72 567.50 63.62 567.75 63.52 568.00 63.43 568.25 63.33 568.50 63.24 568.75 63.16 569.00 63.09 569.25 63.02 569.50 62.97 570.00 62.90 571.50 62.97 572.00 63.05 572.50 63.15 573.00 63.23 573.50 63.29 575.25 63.19 575.50 63.13 575.75 63.06 576.00 62.97 576.25 62.86 576.50 62.74 576.75 62.61 577.00 62.46 577.25 62.29 577.50 62.11 577.75 61.91 578.00 61.69 578.25 61.45 578.50 61.19 578.75 60.91 579.00 60.60 579.25 60.28 579.50 59.93 579.75 59.56 580.00 59.16 580.25 58.74 580.50 58.29 580.75 57.80 581.00 57.28 581.25 56.68 581.50 55.93 581.75 54.65 582.00 52.01 582.25 47.68 582.50 44.59 582.75 46.62 583.00 49.88 583.25 51.45 583.50 51.58 583.75 50.89 584.00 49.26 584.25 46.57 584.50 44.62 584.75 45.73 585.00 47.56 585.25 48.31 585.50 47.98 585.75 46.39 586.00 42.73 586.25 37.79 586.40 36.38 586.50 36.88 586.75 41.12 587.00 44.76 587.25 46.27 587.50 46.50 587.75 45.97 588.00 44.16 588.25 40.19 588.50 35.62 588.60 34.96 588.75 36.15 589.00 40.67 589.25 43.89 589.50 45.04 589.75 45.13 590.00 44.77 590.25 43.83 590.50 41.71 590.75 38.14 591.00 35.45 591.25 36.76 591.50 38.94 591.75 39.63 592.00 39.05 592.25 37.80 592.50 36.05 592.75 33.59 593.00 29.91 593.25 24.00 593.50 14.01 601.50 14.00 601.75 17.42 602.00 26.55 602.25 32.09 602.50 35.69 602.75 38.25 603.00 40.25 603.25 41.92 603.50 43.38 603.75 44.69 604.00 45.89 604.25 47.00 604.50 48.02 604.75 48.98 605.00 49.86 605.25 50.69 605.50 51.47 605.75 52.19 606.00 52.87 606.25 53.51 606.50 54.10 606.75 54.65 607.00 55.17 607.25 55.65 607.50 56.09 607.75 56.50 608.00 56.88 608.25 57.23 608.50 57.55 608.75 57.84 609.00 58.11 609.25 58.36 609.50 58.59 609.75 58.80 610.00 58.99 610.25 59.16 610.50 59.32 610.75 59.47 611.00 59.60 611.25 59.72 611.50 59.83 611.75 59.92 612.00 60.00 612.25 60.06 612.75 60.13 613.25 60.11 613.50 60.06 613.75 59.97 614.00 59.85 614.25 59.68 614.50 59.45 614.75 59.17 615.00 58.81 615.25 58.37 615.50 57.86 615.75 57.30 616.00 56.73 616.25 56.25 616.50 55.96 616.75 55.92 617.00 56.12 617.25 56.49 617.50 56.92 617.75 57.33 618.00 57.68 618.25 57.94 618.50 58.12 618.75 58.21 619.25 58.20 619.50 58.10 619.75 57.96 620.00 57.76 620.25 57.52 620.50 57.24 620.75 56.92 621.00 56.57 621.25 56.18 621.50 55.76 621.75 55.31 622.00 54.83 622.25 54.32 622.50 53.79 622.75 53.24 623.00 52.68 623.25 52.09 623.50 51.49 623.75 50.88 624.00 50.26 624.25 49.64 624.50 49.02 624.75 48.40 625.00 47.78 625.25 47.18 625.50 46.59 625.75 46.03 626.00 45.49 626.25 44.97 626.50 44.50 626.75 44.06 627.00 43.67 627.25 43.32 627.50 43.03 627.75 42.80 628.00 42.63 628.25 42.52 628.75 42.49 629.00 42.58 629.25 42.73 629.50 42.94 629.75 43.21 630.00 43.54 630.25 43.92 630.50 44.35 630.75 44.82 631.00 45.34 631.25 45.89 631.50 46.46 631.75 47.07 632.00 47.69 632.25 48.33 632.50 48.98 632.75 49.63 633.00 50.29 633.25 50.95 633.50 51.61 633.75 52.26 634.00 52.90 634.25 53.53 634.50 54.15 634.75 54.75 635.00 55.34 635.25 55.90 635.50 56.44 635.75 56.96 636.00 57.46 636.25 57.93 636.50 58.37 636.75 58.78 637.00 59.17 637.25 59.52 637.50 59.84 637.75 60.13 638.00 60.38 638.25 60.60 638.50 60.79 638.75 60.95 639.00 61.07 639.25 61.17 639.50 61.24 640.00 61.30 641.00 61.23 641.50 61.15 642.00 61.07 642.70 61.01 643.75 60.96 644.00 60.91 644.25 60.81 644.50 60.66 644.75 60.41 645.00 60.04 645.25 59.47 645.50 58.65 645.75 57.53 646.00 56.12 646.25 54.70 646.50 53.83 646.60 53.78 646.75 54.06 647.00 55.32 647.25 56.99 647.50 58.56 647.75 59.83 648.00 60.80 648.25 61.52 648.50 62.05 648.75 62.45 649.00 62.75 649.25 62.97 649.50 63.14 649.75 63.26 650.00 63.36 650.25 63.42 650.75 63.49 652.00 63.40 652.25 63.35 652.50 63.28 652.75 63.21 653.00 63.13 653.25 63.04 653.50 62.94 653.75 62.84 654.00 62.73 654.25 62.62 654.50 62.51 654.75 62.41 655.00 62.30 655.25 62.21 655.50 62.11 655.75 62.03 656.00 61.96 656.25 61.89 656.50 61.83 656.75 61.78 657.25 61.70 657.75 61.61 658.00 61.56 658.25 61.49 658.50 61.39 658.75 61.27 659.00 61.10 659.25 60.86 659.50 60.54 659.75 60.09 660.00 59.44 660.25 58.49 660.50 56.98 660.75 53.37 661.00 14.00 661.75 14.00 662.00 38.14 662.25 40.64 662.50 40.27 662.75 42.04 663.00 45.42 663.25 49.10 663.50 52.28 663.75 54.75 664.00 56.60 664.25 57.97 664.50 58.98 664.75 59.74 665.00 60.30 665.25 60.73 665.50 61.05 665.75 61.29 666.00 61.47 666.25 61.59 666.50 61.68 666.75 61.73 668.25 61.64 668.75 61.56 669.25 61.48 670.00 61.43 671.25 61.49 671.75 61.45 672.00 61.28 672.25 60.30 672.50 57.09 672.70 54.92 672.75 55.11 673.00 58.76 673.25 61.09 673.50 61.66 673.75 61.82 674.00 61.88 674.50 61.86 674.75 61.79 675.00 61.68 675.25 61.51 675.50 61.29 675.75 60.97 676.00 60.52 676.25 59.86 676.50 58.82 676.75 56.95 677.00 14.00 678.00 14.00 678.25 49.85 678.30 50.20 678.50 51.49 678.75 53.38 679.00 55.30 679.25 56.93 679.50 58.19 679.75 59.13 680.00 59.81 680.25 60.30 680.50 60.65 680.75 60.89 681.00 61.03 681.25 61.01 681.50 60.38 681.75 57.68 682.00 54.73 682.25 57.82 682.50 60.67 682.75 61.47 683.00 61.69 683.25 61.80 683.50 61.88 683.75 61.93 684.25 62.02 684.75 62.09 685.25 62.15 685.75 62.22 686.25 62.28 686.75 62.33 687.50 62.40 688.25 62.46 689.25 62.51 690.75 62.56 692.50 62.62 694.00 62.67 695.25 62.72 696.50 62.78 697.50 62.83 698.50 62.88 699.50 62.94 700.50 63.00 701.50 63.06 702.50 63.13 703.25 63.18 704.00 63.23 704.75 63.28 705.50 63.33 706.25 63.38 707.00 63.43 707.75 63.49 708.50 63.54 709.25 63.59 710.00 63.64 710.75 63.69 711.50 63.74 712.50 63.81 713.50 63.87 714.50 63.93 715.50 64.00 716.50 64.06 717.50 64.11 718.50 64.17 719.50 64.23 720.50 64.28 721.50 64.33 722.75 64.39 724.00 64.45 725.25 64.51 726.50 64.56 727.75 64.61 729.25 64.67 730.75 64.73 732.25 64.78 734.00 64.84"/>
<path d="M420.50 109.14 428.75 109.09 430.00 109.03 430.75 108.95 431.00 108.89 431.25 108.81 431.50 108.69 431.75 108.48 432.00 108.12 432.25 107.47 432.50 106.54 432.70 106.13 432.75 106.16 433.00 106.92 433.25 107.77 433.50 108.28 433.75 108.57 434.00 108.74 434.25 108.84 434.50 108.91 435.00 108.99 435.75 109.05 438.25 109.10 470.25 109.04 470.75 108.98 471.00 108.93 471.25 108.84 471.50 108.72 471.75 108.54 472.00 108.31 472.25 108.02 472.50 107.68 472.75 107.31 473.00 106.94 473.25 106.59 473.50 106.30 473.75 106.12 474.00 106.05 474.25 106.12 474.50 106.30 474.75 106.58 475.00 106.93 475.25 107.31 475.50 107.68 475.75 108.01 476.00 108.30 476.25 108.53 476.50 108.70 476.75 108.83 477.00 108.91 477.25 108.97 477.75 109.02 490.00 108.97 491.50 108.91 492.25 108.85 492.75 108.77 493.00 108.70 493.25 108.58 493.50 108.34 493.75 107.62 494.00 105.69 494.25 102.25 494.50 99.94 494.75 102.24 495.00 105.66 495.25 107.58 495.50 108.28 495.75 108.51 496.00 108.61 496.50 108.68 497.25 108.63 497.50 108.57 497.75 108.46 498.00 108.22 498.25 107.54 498.50 105.70 498.75 102.43 499.00 100.22 499.25 102.36 499.50 105.54 499.75 107.29 500.00 107.84 500.25 107.92 500.50 107.79 500.75 107.47 501.00 106.78 501.25 104.72 501.50 97.60 501.75 81.52 502.00 68.91 502.25 81.54 502.50 97.64 502.75 104.79 503.00 106.89 503.25 107.63 503.50 108.01 503.75 108.25 504.00 108.41 504.25 108.52 504.50 108.60 504.75 108.66 505.25 108.74 505.75 108.80 506.75 108.85 509.25 108.91 527.00 108.85 532.75 108.80 536.00 108.75 537.50 108.70 538.50 108.63 539.00 108.58 539.25 108.53 539.50 108.48 539.75 108.41 540.00 108.31 540.25 108.16 540.50 107.92 540.75 107.51 541.00 106.59 541.25 103.08 541.50 90.72 541.75 73.54 541.80 72.72 542.00 82.95 542.25 99.56 542.50 105.74 542.75 107.22 543.00 107.75 543.25 108.04 543.50 108.21 543.75 108.32 544.00 108.39 544.25 108.44 544.75 108.50 546.25 108.47 546.50 108.41 546.75 108.26 547.00 107.61 547.25 105.58 547.50 103.61 547.75 105.58 548.00 107.61 548.25 108.26 548.50 108.41 548.75 108.48 549.25 108.53 555.50 108.47 557.50 108.42 559.25 108.37 560.75 108.31 562.00 108.26 563.00 108.21 563.75 108.15 564.50 108.08 565.00 108.02 565.50 107.95 566.00 107.86 566.25 107.81 566.50 107.75 566.75 107.70 567.00 107.64 567.25 107.58 567.50 107.52 567.75 107.45 568.00 107.39 568.25 107.33 568.50 107.27 568.75 107.22 569.00 107.17 569.50 107.08 570.00 107.03 574.75 106.95 575.00 106.91 575.25 106.85 575.50 106.79 575.75 106.71 576.00 106.63 576.25 106.53 576.50 106.42 576.75 106.30 577.00 106.17 577.25 106.03 577.50 105.87 577.75 105.70 578.00 105.51 578.25 105.31 578.50 105.09 578.75 104.85 579.00 104.59 579.25 104.32 579.50 104.03 579.75 103.72 580.00 103.39 580.25 103.03 580.50 102.66 580.75 102.25 581.00 101.82 581.25 101.33 581.50 100.71 581.75 99.68 582.00 97.55 582.25 94.07 582.50 91.59 582.75 93.22 583.00 95.84 583.25 97.12 583.50 97.33 583.75 97.12 584.00 96.80 584.25 96.45 584.50 96.07 584.75 95.68 585.00 95.25 585.25 94.75 585.50 93.97 585.75 92.24 586.00 88.51 586.25 83.54 586.40 82.12 586.50 82.62 586.75 86.84 587.00 90.49 587.25 92.04 587.50 92.38 587.75 92.30 588.00 91.98 588.25 91.14 588.50 89.05 588.75 85.41 589.00 82.87 589.25 84.90 589.50 88.01 589.75 89.57 590.00 89.86 590.25 89.61 590.50 89.16 590.75 88.58 591.00 87.89 591.25 87.08 591.50 86.14 591.75 85.06 592.00 83.79 592.25 82.26 592.50 80.36 592.75 77.79 593.00 74.02 593.25 68.03 593.50 57.98 593.75 40.73 594.00 14.00 601.00 14.00 601.25 17.69 601.50 44.17 601.75 59.61 602.00 68.62 602.25 74.04 602.50 77.54 602.75 80.00 603.00 81.91 603.25 83.51 603.50 84.92 603.75 86.21 604.00 87.40 604.25 88.52 604.50 89.57 604.75 90.57 605.00 91.53 605.25 92.44 605.50 93.31 605.75 94.14 606.00 94.94 606.25 95.70 606.50 96.42 606.75 97.10 607.00 97.75 607.25 98.35 607.50 98.91 607.75 99.43 608.00 99.91 608.25 100.34 608.50 100.74 608.75 101.10 609.00 101.42 609.25 101.70 609.50 101.95 609.75 102.16 610.00 102.33 610.25 102.47 610.50 102.58 610.75 102.65 611.25 102.71 611.75 102.64 612.00 102.57 612.25 102.48 612.50 102.37 612.75 102.24 613.00 102.09 613.25 101.94 613.50 101.79 613.75 101.64 614.00 101.50 614.25 101.37 614.50 101.26 614.75 101.17 615.00 101.10 615.75 101.08 616.00 101.13 616.25 101.21 616.50 101.32 616.75 101.45 617.00 101.60 617.25 101.77 617.50 101.94 617.75 102.12 618.00 102.30 618.25 102.48 618.50 102.64 618.75 102.79 619.00 102.92 619.25 103.03 619.50 103.12 619.75 103.18 620.50 103.16 620.75 103.07 621.00 102.92 621.25 102.70 621.50 102.40 621.75 101.99 622.00 101.46 622.25 100.79 622.50 99.94 622.75 98.90 623.00 97.67 623.25 96.24 623.50 94.63 623.75 92.88 624.00 91.03 624.25 89.15 624.50 87.31 624.75 85.60 625.00 84.08 625.25 82.79 625.40 82.14 625.50 81.77 625.70 81.15 625.75 81.03 626.00 80.53 626.25 80.25 626.50 80.13 628.25 80.18 628.50 80.25 628.60 80.30 628.75 80.41 629.00 80.71 629.25 81.15 629.50 81.77 629.75 82.56 630.00 83.51 630.25 84.60 630.50 85.80 630.75 87.08 631.00 88.40 631.25 89.72 631.50 91.03 631.75 92.28 632.00 93.46 632.25 94.55 632.50 95.55 632.75 96.45 633.00 97.26 633.25 97.98 633.50 98.62 633.75 99.19 634.00 99.70 634.25 100.15 634.50 100.56 634.75 100.94 635.00 101.29 635.25 101.61 635.50 101.91 635.75 102.19 636.00 102.46 636.25 102.70 636.50 102.93 636.75 103.14 637.00 103.32 637.25 103.48 637.50 103.62 637.75 103.72 638.00 103.80 638.50 103.85 638.75 103.83 639.00 103.78 639.25 103.69 639.50 103.58 639.75 103.43 640.00 103.27 640.25 103.09 640.50 102.89 640.75 102.68 641.00 102.48 641.25 102.28 641.50 102.09 641.75 101.91 642.00 101.75 642.25 101.62 642.50 101.51 642.70 101.44 642.75 101.43 643.00 101.37 643.50 101.29 644.00 101.24 644.25 101.18 644.50 101.07 644.75 100.88 645.00 100.57 645.25 100.09 645.50 99.36 645.75 98.33 646.00 97.03 646.25 95.72 646.50 94.97 646.60 94.97 646.75 95.32 647.00 96.70 647.25 98.51 647.50 100.21 647.75 101.62 648.00 102.72 648.25 103.58 648.50 104.25 648.75 104.79 649.00 105.22 649.25 105.57 649.50 105.85 649.75 106.09 650.00 106.29 650.25 106.45 650.50 106.59 650.75 106.69 651.00 106.77 651.25 106.83 651.75 106.90 652.75 106.83 653.00 106.79 653.25 106.73 653.50 106.67 653.75 106.60 654.00 106.53 654.25 106.46 654.50 106.39 654.75 106.32 655.00 106.25 655.25 106.19 655.50 106.13 655.75 106.08 656.25 106.00 656.75 105.93 657.25 105.86 657.75 105.78 658.00 105.71 658.25 105.63 658.50 105.52 658.75 105.38 659.00 105.19 659.25 104.93 659.50 104.58 659.75 104.10 660.00 103.44 660.25 102.46 660.50 100.93 660.75 97.30 661.00 14.00 661.75 14.00 662.00 82.00 662.25 84.49 662.50 84.12 662.75 85.88 663.00 89.26 663.25 92.94 663.50 96.12 663.75 98.59 664.00 100.44 664.25 101.81 664.50 102.83 664.75 103.59 665.00 104.16 665.25 104.59 665.50 104.92 665.75 105.17 666.00 105.35 666.25 105.48 666.50 105.57 666.75 105.63 668.50 105.55 669.00 105.48 669.75 105.42 671.50 105.46 671.75 105.40 672.00 105.16 672.25 103.88 672.50 99.74 672.70 96.94 672.75 97.18 673.00 101.87 673.25 104.85 673.50 105.59 673.75 105.79 674.00 105.87 674.50 105.87 674.75 105.81 675.00 105.70 675.25 105.55 675.50 105.33 675.75 105.01 676.00 104.57 676.25 103.91 676.50 102.88 676.75 101.01 677.00 57.66 677.25 14.00 677.75 14.00 678.00 52.17 678.25 93.92 678.30 94.27 678.50 95.56 678.75 97.44 679.00 99.36 679.25 100.99 679.50 102.25 679.75 103.18 680.00 103.85 680.25 104.33 680.50 104.67 680.75 104.89 681.00 104.99 681.25 104.92 681.50 104.05 681.75 100.55 682.00 96.73 682.25 100.68 682.50 104.32 682.75 105.34 683.00 105.61 683.25 105.74 683.50 105.83 683.75 105.89 684.00 105.95 684.50 106.05 685.00 106.14 685.50 106.23 686.00 106.32 686.50 106.40 687.00 106.48 687.50 106.54 688.00 106.60 688.75 106.67 689.75 106.72 691.25 106.77 693.50 106.83 695.50 106.88 697.25 106.94 698.75 107.00 700.25 107.05 701.50 107.11 702.75 107.16 704.00 107.22 705.25 107.27 706.50 107.33 707.75 107.39 709.00 107.44 710.25 107.50 711.50 107.55 712.75 107.61 714.00 107.66 715.25 107.71 716.75 107.77 718.25 107.82 719.75 107.88 721.25 107.93 723.00 107.98 724.75 108.03 726.75 108.08 734.00 108.07"/>
<path d="M420.50 152.94 430.00 152.89 431.25 152.82 431.50 152.78 431.75 152.71 432.00 152.58 432.25 152.37 432.50 152.06 432.70 151.92 432.75 151.93 433.00 152.18 433.25 152.47 433.50 152.64 433.75 152.73 434.00 152.79 434.50 152.85 436.50 152.90 465.00 152.85 470.50 152.79 470.75 152.75 471.00 152.70 471.25 152.61 471.50 152.48 471.75 152.31 472.00 152.08 472.25 151.79 472.50 151.45 472.75 151.08 473.00 150.70 473.25 150.35 473.50 150.07 473.75 149.88 474.00 149.82 474.25 149.88 474.50 150.07 474.75 150.35 475.00 150.70 475.25 151.07 475.50 151.44 475.75 151.78 476.00 152.06 476.25 152.29 476.50 152.47 476.75 152.59 477.00 152.68 477.25 152.73 477.75 152.78 489.50 152.73 491.50 152.67 492.25 152.62 492.75 152.55 493.00 152.50 493.25 152.42 493.50 152.29 493.75 152.04 494.00 151.35 494.25 149.37 494.50 145.44 494.75 141.84 494.80 141.70 495.00 143.65 495.25 147.99 495.50 150.74 495.75 151.81 496.00 152.16 496.25 152.30 496.50 152.38 497.00 152.44 497.75 152.38 498.00 152.27 498.25 151.95 498.50 151.08 498.75 149.54 499.00 148.49 499.25 149.48 499.50 150.97 499.75 151.77 500.00 152.01 500.25 152.01 500.50 151.91 500.75 151.71 501.00 151.37 501.25 150.73 501.50 149.01 501.75 143.05 502.00 127.90 502.25 111.39 502.30 110.69 502.50 120.02 502.75 138.21 503.00 147.47 503.25 150.30 503.50 151.21 503.75 151.66 504.00 151.93 504.25 152.11 504.50 152.24 504.75 152.33 505.00 152.39 505.50 152.48 506.00 152.53 507.00 152.60 509.50 152.65 525.50 152.60 531.25 152.55 535.00 152.50 537.00 152.44 538.25 152.38 539.00 152.30 539.25 152.26 539.50 152.21 539.75 152.14 540.00 152.03 540.25 151.88 540.50 151.65 540.75 151.24 541.00 150.32 541.25 146.81 541.50 134.44 541.75 117.26 541.80 116.45 542.00 126.67 542.25 143.29 542.50 149.47 542.75 150.95 543.00 151.48 543.25 151.76 543.50 151.93 543.75 152.04 544.00 152.12 544.25 152.17 544.75 152.23 547.00 152.21 547.25 152.12 547.50 151.73 547.75 150.51 548.00 149.32 548.25 150.50 548.50 151.72 548.75 152.11 549.00 152.20 549.50 152.26 554.75 152.21 556.75 152.15 558.50 152.10 560.00 152.05 561.50 151.99 562.50 151.94 563.25 151.89 564.00 151.82 564.50 151.75 565.00 151.67 565.25 151.63 565.50 151.58 565.75 151.52 566.00 151.46 566.25 151.39 566.50 151.31 566.75 151.24 567.00 151.16 567.25 151.07 567.50 150.99 567.75 150.90 568.00 150.81 568.25 150.73 568.50 150.65 568.75 150.58 569.00 150.51 569.25 150.46 569.75 150.37 570.50 150.32 571.50 150.38 572.00 150.44 572.50 150.51 573.00 150.57 573.75 150.63 575.00 150.55 575.25 150.50 575.50 150.45 575.75 150.38 576.00 150.30 576.25 150.21 576.50 150.11 576.75 149.99 577.00 149.86 577.25 149.72 577.50 149.56 577.75 149.39 578.00 149.20 578.25 148.99 578.50 148.77 578.75 148.53 579.00 148.28 579.25 148.00 579.50 147.71 579.75 147.39 580.00 147.06 580.25 146.70 580.50 146.32 580.75 145.90 581.00 145.45 581.25 144.94 581.50 144.27 581.75 143.07 582.00 140.51 582.25 136.27 582.50 133.28 582.75 135.42 583.00 138.79 583.25 140.51 583.50 140.86 583.75 140.70 584.00 140.40 584.25 140.05 584.50 139.68 584.75 139.27 585.00 138.82 585.25 138.29 585.50 137.45 585.75 135.56 586.00 131.50 586.25 126.08 586.40 124.51 586.50 125.03 586.75 129.54 587.00 133.41 587.25 134.97 587.50 135.20 587.75 134.95 588.00 134.39 588.25 133.18 588.50 130.41 588.75 125.74 589.00 122.37 589.25 124.59 589.50 128.11 589.75 129.72 590.00 129.77 590.25 129.19 590.50 128.37 590.75 127.43 591.00 126.39 591.25 125.25 591.50 124.02 591.75 122.68 592.00 121.21 592.25 119.54 592.50 117.55 592.70 115.55 592.75 114.96 593.00 111.24 593.25 105.36 593.50 95.48 593.75 78.45 594.00 49.22 594.25 14.00 600.75 14.00 601.00 15.59 601.25 60.05 601.50 86.40 601.75 101.70 602.00 110.57 602.25 115.87 602.50 119.24 602.75 121.59 603.00 123.41 603.25 124.93 603.50 126.28 603.75 127.53 604.00 128.71 604.25 129.84 604.50 130.93 604.75 131.98 605.00 133.02 605.25 134.02 605.50 135.01 605.75 135.96 606.00 136.89 606.25 137.78 606.50 138.64 606.75 139.46 607.00 140.23 607.25 140.96 607.50 141.63 607.75 142.25 608.00 142.82 608.25 143.33 608.50 143.78 608.75 144.18 609.00 144.53 609.25 144.82 609.50 145.06 609.75 145.25 610.00 145.39 610.25 145.49 610.50 145.55 611.25 145.51 611.50 145.45 611.75 145.36 612.00 145.26 612.25 145.15 612.50 145.04 612.75 144.94 613.00 144.84 613.25 144.76 613.50 144.69 614.00 144.63 614.50 144.69 614.75 144.76 615.00 144.85 615.25 144.98 615.50 145.12 615.75 145.29 616.00 145.47 616.25 145.65 616.50 145.85 616.75 146.04 617.00 146.23 617.25 146.40 617.50 146.57 617.75 146.71 618.00 146.84 618.25 146.94 618.50 147.01 619.00 147.07 619.25 147.05 619.50 146.99 619.75 146.89 620.00 146.73 620.25 146.51 620.50 146.21 620.75 145.79 621.00 145.25 621.25 144.53 621.50 143.62 621.75 142.46 622.00 141.05 622.25 139.37 622.50 137.43 622.75 135.28 623.00 132.99 623.25 130.66 623.50 128.40 623.75 126.33 624.00 124.57 624.25 123.21 624.40 122.59 624.50 122.27 624.75 121.76 625.00 121.63 625.25 121.79 625.50 122.13 625.75 122.52 626.00 122.86 626.25 123.08 626.50 123.13 626.75 123.01 627.00 122.75 627.25 122.41 627.50 122.06 627.75 121.78 628.00 121.64 628.25 121.70 628.30 121.75 628.50 122.01 628.75 122.58 629.00 123.41 629.25 124.47 629.50 125.75 629.75 127.18 630.00 128.72 630.25 130.31 630.50 131.91 630.75 133.47 631.00 134.96 631.25 136.35 631.50 137.62 631.75 138.77 632.00 139.79 632.25 140.68 632.50 141.47 632.75 142.16 633.00 142.76 633.25 143.29 633.50 143.76 633.75 144.19 634.00 144.58 634.25 144.93 634.50 145.27 634.75 145.59 635.00 145.89 635.25 146.17 635.50 146.45 635.75 146.71 636.00 146.96 636.25 147.19 636.50 147.42 636.75 147.62 637.00 147.81 637.25 147.98 637.50 148.13 637.75 148.26 638.00 148.37 638.25 148.46 638.50 148.53 639.00 148.59 639.75 148.51 640.00 148.45 640.25 148.37 640.50 148.28 640.75 148.18 641.00 148.06 641.25 147.94 641.50 147.82 641.75 147.70 642.00 147.57 642.25 147.45 642.50 147.32 642.70 147.22 642.75 147.19 643.00 147.06 643.25 146.93 643.50 146.77 643.75 146.60 644.00 146.39 644.25 146.13 644.50 145.80 644.75 145.36 645.00 144.77 645.25 143.97 645.50 142.87 645.75 141.43 646.00 139.67 646.25 137.92 646.50 136.84 646.60 136.77 646.75 137.11 647.00 138.63 647.25 140.67 647.50 142.62 647.75 144.22 648.00 145.48 648.25 146.45 648.50 147.21 648.75 147.82 649.00 148.30 649.25 148.70 649.50 149.03 649.75 149.31 650.00 149.53 650.25 149.72 650.50 149.86 650.75 149.97 651.00 150.05 651.50 150.12 652.00 150.09 652.25 150.04 652.50 149.96 652.75 149.87 653.00 149.76 653.25 149.64 653.50 149.51 653.75 149.37 654.00 149.23 654.25 149.09 654.50 148.96 654.75 148.83 655.00 148.72 655.25 148.62 655.50 148.53 655.75 148.46 656.00 148.41 656.75 148.36 657.75 148.43 658.50 148.40 658.75 148.33 659.00 148.21 659.25 148.03 659.50 147.75 659.75 147.33 660.00 146.72 660.25 145.80 660.50 144.32 660.75 140.73 661.00 14.00 661.75 14.00 662.00 125.56 662.25 128.07 662.50 127.71 662.75 129.48 663.00 132.86 663.25 136.54 663.50 139.72 663.75 142.19 664.00 144.03 664.25 145.40 664.50 146.40 664.75 147.15 665.00 147.70 665.25 148.11 665.50 148.41 665.75 148.63 666.00 148.79 666.25 148.88 666.50 148.94 667.50 148.87 667.75 148.80 668.00 148.73 668.25 148.66 668.50 148.59 668.75 148.52 669.00 148.45 669.25 148.40 669.75 148.34 670.75 148.39 671.25 148.48 671.75 148.50 672.00 148.34 672.25 147.25 672.50 143.62 672.70 141.17 672.75 141.40 673.00 145.61 673.25 148.31 673.50 149.00 673.75 149.22 674.00 149.32 674.75 149.33 675.00 149.25 675.25 149.11 675.50 148.90 675.75 148.60 676.00 148.17 676.25 147.52 676.50 146.49 676.75 144.62 677.00 101.28 677.25 14.00 677.75 14.00 678.00 95.78 678.25 137.52 678.30 137.87 678.50 139.15 678.75 141.03 679.00 142.94 679.25 144.56 679.50 145.80 679.75 146.72 680.00 147.37 680.25 147.84 680.50 148.17 680.75 148.38 681.00 148.49 681.25 148.44 681.50 147.77 681.75 145.05 682.00 142.07 682.25 145.14 682.50 147.97 682.75 148.76 683.00 148.96 683.25 149.07 683.50 149.14 683.75 149.20 684.00 149.25 684.25 149.30 684.50 149.36 684.75 149.41 685.00 149.47 685.25 149.54 685.50 149.60 685.75 149.66 686.00 149.73 686.25 149.79 686.50 149.85 686.75 149.91 687.00 149.97 687.25 150.02 687.75 150.12 688.25 150.19 688.75 150.25 689.50 150.32 690.50 150.37 692.25 150.42 694.50 150.48 696.25 150.53 697.75 150.58 699.25 150.64 700.75 150.70 702.00 150.75 703.25 150.80 704.50 150.86 705.75 150.91 707.00 150.97 708.25 151.03 709.50 151.08 710.75 151.14 712.00 151.19 713.25 151.24 714.50 151.29 716.00 151.35 717.50 151.41 719.00 151.46 720.50 151.51 722.25 151.57 724.00 151.62 726.00 151.67 728.00 151.73 730.25 151.78 732.75 151.83 734.00 151.86"/>
<path d="M420.50 196.34 430.50 196.29 431.25 196.23 431.50 196.19 431.75 196.12 432.00 196.00 432.25 195.79 432.50 195.48 432.70 195.34 432.75 195.35 433.00 195.60 433.25 195.89 433.50 196.06 433.75 196.15 434.00 196.21 434.50 196.27 436.25 196.32 470.50 196.27 470.75 196.23 471.00 196.18 471.25 196.09 471.50 195.97 471.75 195.79 472.00 195.56 472.25 195.27 472.50 194.93 472.75 194.56 473.00 194.19 473.25 193.84 473.50 193.55 473.75 193.37 474.00 193.30 474.25 193.37 474.50 193.55 474.75 193.84 475.00 194.18 475.25 194.56 475.50 194.93 475.75 195.27 476.00 195.55 476.25 195.78 476.50 195.96 476.75 196.08 477.00 196.17 477.25 196.22 477.75 196.27 490.25 196.22 491.50 196.17 492.25 196.10 492.75 196.02 493.00 195.95 493.25 195.85 493.50 195.69 493.75 195.38 494.00 194.49 494.25 191.97 494.50 186.98 494.75 182.40 494.80 182.22 495.00 184.70 495.25 190.23 495.50 193.73 495.75 195.10 496.00 195.55 496.25 195.73 496.50 195.84 496.75 195.90 497.75 195.91 498.00 195.84 498.25 195.60 498.50 194.94 498.75 193.78 499.00 192.99 499.25 193.73 499.50 194.83 499.75 195.42 500.00 195.57 500.25 195.54 500.50 195.42 500.75 195.21 501.00 194.85 501.25 194.17 501.50 192.37 501.75 186.12 502.00 170.25 502.25 152.96 502.30 152.22 502.50 161.99 502.75 181.06 503.00 190.75 503.25 193.72 503.50 194.67 503.75 195.14 504.00 195.43 504.25 195.62 504.50 195.75 504.75 195.84 505.00 195.91 505.25 195.96 505.75 196.04 506.50 196.10 507.75 196.16 533.00 196.10 536.25 196.05 537.75 195.99 538.50 195.93 539.00 195.87 539.25 195.83 539.50 195.78 539.75 195.70 540.00 195.59 540.25 195.43 540.50 195.17 540.75 194.73 541.00 193.73 541.25 189.93 541.50 176.54 541.75 157.93 541.80 157.04 542.00 168.12 542.25 186.12 542.50 192.82 542.75 194.42 543.00 195.00 543.25 195.30 543.50 195.49 543.75 195.61 544.00 195.69 544.25 195.75 544.75 195.82 545.75 195.88 547.00 195.85 547.25 195.78 547.50 195.52 547.75 194.71 548.00 193.92 548.25 194.71 548.50 195.52 548.75 195.78 549.00 195.84 556.00 195.79 558.00 195.74 559.75 195.68 561.25 195.62 562.50 195.56 563.25 195.51 564.00 195.43 564.50 195.35 564.75 195.31 565.00 195.26 565.25 195.20 565.50 195.14 565.75 195.07 566.00 194.99 566.25 194.91 566.50 194.82 566.75 194.73 567.00 194.63 567.25 194.52 567.50 194.42 567.75 194.31 568.00 194.21 568.25 194.10 568.50 194.01 568.75 193.92 569.00 193.84 569.25 193.77 569.50 193.71 570.00 193.64 571.50 193.73 571.75 193.78 572.00 193.83 572.25 193.89 572.50 193.94 572.75 193.99 573.25 194.08 573.75 194.14 575.25 194.06 575.50 194.00 575.75 193.92 576.00 193.84 576.25 193.74 576.50 193.62 576.75 193.49 577.00 193.34 577.25 193.17 577.50 192.99 577.75 192.79 578.00 192.57 578.25 192.33 578.50 192.07 578.75 191.79 579.00 191.48 579.25 191.16 579.50 190.81 579.75 190.43 580.00 190.04 580.25 189.61 580.50 189.15 580.75 188.66 581.00 188.13 581.25 187.51 581.50 186.72 581.75 185.29 582.00 182.22 582.25 177.15 582.50 173.56 582.75 176.14 583.00 180.20 583.25 182.27 583.50 182.72 583.75 182.54 584.00 182.21 584.25 181.81 584.50 181.38 584.75 180.93 585.00 180.43 585.25 179.82 585.50 178.84 585.75 176.58 586.00 171.66 586.25 165.07 586.40 163.19 586.50 163.86 586.75 169.51 587.00 174.38 587.25 176.43 587.50 176.86 587.75 176.73 588.00 176.28 588.25 175.23 588.50 172.75 588.75 168.53 589.00 165.50 589.25 167.54 589.50 170.76 589.75 172.23 590.00 172.29 590.25 171.75 590.50 171.01 590.75 170.13 591.00 169.16 591.25 168.09 591.50 166.93 591.75 165.65 592.00 164.24 592.25 162.64 592.50 160.70 592.70 158.75 592.75 158.17 593.00 154.50 593.25 148.66 593.50 138.83 593.75 121.84 594.00 92.64 594.25 43.59 594.50 14.00 600.75 14.00 601.00 61.09 601.25 105.72 601.50 132.22 601.75 147.66 602.00 156.65 602.25 162.04 602.50 165.47 602.75 167.84 603.00 169.65 603.25 171.12 603.50 172.38 603.75 173.50 604.00 174.52 604.25 175.45 604.50 176.31 604.75 177.13 605.00 177.90 605.20 178.49 605.25 178.64 605.50 179.36 605.75 180.05 606.00 180.73 606.25 181.39 606.50 182.04 606.75 182.68 607.00 183.29 607.25 183.89 607.50 184.47 607.75 185.03 608.00 185.56 608.25 186.07 608.50 186.55 608.75 187.01 609.00 187.44 609.25 187.85 609.50 188.23 609.75 188.59 609.80 188.66 610.00 188.92 610.25 189.24 610.50 189.53 610.75 189.81 611.00 190.07 611.25 190.31 611.50 190.53 611.75 190.75 612.00 190.94 612.25 191.12 612.50 191.29 612.75 191.44 613.00 191.57 613.25 191.69 613.50 191.79 613.75 191.87 614.00 191.93 614.50 191.99 615.25 191.91 615.50 191.84 615.75 191.74 616.00 191.62 616.25 191.48 616.50 191.31 616.75 191.13 617.00 190.92 617.25 190.71 617.50 190.48 617.75 190.24 618.00 190.00 618.25 189.77 618.50 189.53 618.75 189.31 619.00 189.09 619.25 188.89 619.50 188.70 619.75 188.52 620.00 188.35 620.25 188.16 620.50 187.95 620.75 187.67 621.00 187.30 621.25 186.78 621.50 186.05 621.75 185.05 622.00 183.73 622.25 182.03 622.50 179.95 622.75 177.54 623.00 174.86 623.25 172.06 623.50 169.31 623.75 166.81 624.00 164.75 624.25 163.25 624.40 162.66 624.50 162.39 624.75 162.16 625.00 162.46 625.25 163.13 625.50 163.97 625.75 164.77 626.00 165.37 626.25 165.66 626.40 165.66 626.50 165.59 626.75 165.19 627.00 164.54 627.25 163.78 627.50 163.04 627.75 162.47 628.00 162.18 628.25 162.26 628.50 162.76 628.75 163.68 629.00 165.00 629.25 166.65 629.50 168.56 629.75 170.63 630.00 172.76 630.25 174.88 630.50 176.90 630.75 178.78 631.00 180.48 631.25 181.97 631.50 183.26 631.75 184.35 632.00 185.25 632.25 186.00 632.50 186.60 632.75 187.09 633.00 187.48 633.25 187.79 633.50 188.03 633.75 188.22 634.00 188.35 634.25 188.45 634.50 188.51 635.25 188.48 635.50 188.42 635.75 188.35 636.00 188.26 636.25 188.17 636.50 188.09 636.75 188.01 637.00 187.95 637.75 187.93 638.00 188.00 638.20 188.08 638.25 188.10 638.50 188.25 638.75 188.43 639.00 188.65 639.25 188.90 639.50 189.17 639.75 189.46 640.00 189.76 640.25 190.05 640.50 190.34 640.75 190.60 641.00 190.83 641.25 191.03 641.50 191.18 641.75 191.28 642.25 191.30 642.50 191.22 642.75 191.07 643.00 190.85 643.25 190.57 643.50 190.22 643.75 189.79 644.00 189.27 644.25 188.65 644.50 187.89 644.75 186.96 645.00 185.80 645.25 184.37 645.50 182.71 645.75 181.08 646.00 180.05 646.10 179.96 646.25 180.19 646.50 181.41 646.75 183.11 647.00 184.77 647.25 186.17 647.50 187.32 647.75 188.26 648.00 189.03 648.25 189.70 648.50 190.27 648.75 190.77 649.00 191.21 649.25 191.59 649.50 191.93 649.75 192.21 650.00 192.45 650.25 192.64 650.50 192.78 650.75 192.89 651.00 192.96 652.25 192.92 652.50 192.86 652.75 192.81 653.00 192.76 653.50 192.67 654.75 192.71 655.00 192.76 655.25 192.83 655.50 192.90 655.75 192.98 656.00 193.07 656.25 193.15 656.50 193.24 656.75 193.31 657.00 193.38 657.25 193.43 658.25 193.41 658.50 193.33 658.75 193.20 659.00 193.02 659.25 192.78 659.50 192.44 659.75 191.98 660.00 191.34 660.25 190.39 660.50 188.91 660.75 185.35 661.00 14.00 661.75 14.00 662.00 171.08 662.25 173.85 662.50 173.58 662.75 175.22 663.00 178.30 663.25 181.66 663.50 184.55 663.75 186.80 664.00 188.48 664.25 189.72 664.50 190.64 664.75 191.32 665.00 191.82 665.25 192.20 665.50 192.48 665.75 192.69 666.00 192.83 666.25 192.93 666.50 192.99 667.75 192.91 668.00 192.86 668.25 192.80 668.50 192.74 668.75 192.68 669.00 192.63 669.50 192.56 671.25 192.61 671.75 192.58 672.00 192.36 672.25 191.10 672.50 186.98 672.70 184.20 672.75 184.44 673.00 189.15 673.25 192.15 673.50 192.91 673.75 193.13 674.00 193.22 674.75 193.21 675.00 193.11 675.25 192.96 675.50 192.75 675.75 192.45 676.00 192.01 676.25 191.36 676.50 190.32 676.75 188.45 677.00 145.11 677.25 14.00 677.75 14.00 678.00 139.63 678.25 181.38 678.30 181.73 678.50 183.02 678.75 184.91 679.00 186.82 679.25 188.46 679.50 189.71 679.75 190.64 680.00 191.32 680.25 191.81 680.50 192.15 680.75 192.38 681.00 192.49 681.25 192.44 681.50 191.69 681.75 188.59 682.00 185.20 682.25 188.72 682.50 191.96 682.75 192.88 683.00 193.12 683.25 193.24 683.50 193.32 683.75 193.39 684.00 193.44 684.50 193.53 685.00 193.62 685.50 193.71 686.00 193.79 686.50 193.87 687.00 193.95 687.50 194.01 688.00 194.07 688.75 194.13 689.75 194.18 691.25 194.23 693.25 194.29 695.25 194.34 697.00 194.40 698.50 194.45 700.00 194.51 701.25 194.57 702.50 194.62 703.75 194.68 705.00 194.73 706.25 194.79 707.50 194.85 708.75 194.91 710.00 194.97 711.25 195.02 712.50 195.08 713.75 195.13 715.00 195.18 716.25 195.23 717.75 195.29 719.25 195.35 720.75 195.40 722.25 195.45 724.00 195.50 725.75 195.56 727.50 195.61 729.00 195.66 730.25 195.72 731.25 195.77 732.50 195.83 734.00 195.87"/>
</g>
<line x1="420.50" y1="213.20" x2="734.25" y2="213.20" stroke="#111" stroke-width="1.3"/>
<path d="M431.25 213.20v1.90 M445.80 213.20v1.90 M460.35 213.20v1.90 M474.90 213.20v1.90 M489.45 213.20v1.90 M504.00 213.20v1.90 M518.55 213.20v1.90 M533.10 213.20v1.90 M547.65 213.20v1.90 M562.20 213.20v1.90 M576.75 213.20v1.90 M591.30 213.20v1.90 M605.85 213.20v1.90 M620.40 213.20v1.90 M634.95 213.20v1.90 M649.50 213.20v1.90 M664.05 213.20v1.90 M678.60 213.20v1.90 M693.15 213.20v1.90 M707.70 213.20v1.90 M722.25 213.20v1.90" stroke="#111" stroke-width="1.1"/>
<g font-family="DejaVu Sans, Verdana, sans-serif" font-weight="bold" font-size="7.90" fill="#222" text-anchor="middle"><text x="431.25" y="223.70">10.5</text><text x="460.35" y="223.70">9.5</text><text x="489.45" y="223.70">8.5</text><text x="518.55" y="223.70">7.5</text><text x="547.65" y="223.70">6.5</text><text x="576.75" y="223.70">5.5</text><text x="605.85" y="223.70">4.5</text><text x="634.95" y="223.70">3.5</text><text x="664.05" y="223.70">2.5</text><text x="693.15" y="223.70">1.5</text><text x="722.25" y="223.70">0.5</text></g>
<text x="577.40" y="233.40" font-family="DejaVu Sans, Verdana, sans-serif" font-weight="bold" font-size="7.90" fill="#222" text-anchor="middle">f1 (ppm)</text>
<g clip-path="url(#c2)" fill="none" stroke="#1f4f97" stroke-width="1.15" stroke-linejoin="round">
<path d="M11.30 338.69 11.55 338.11 11.80 338.31 12.05 337.59 12.30 338.07 12.55 338.67 12.80 338.91 13.05 338.06 13.30 338.04 13.55 338.12 13.80 337.36 14.05 338.57 14.30 338.56 14.55 338.50 14.80 338.64 15.05 338.24 15.30 338.31 15.55 338.53 15.80 338.55 16.05 338.16 16.30 337.81 16.55 338.33 16.80 338.38 17.05 337.92 17.30 338.51 17.55 338.50 17.80 338.43 18.05 338.30 18.30 338.42 18.55 338.72 18.80 338.23 19.05 338.69 19.30 338.40 19.55 338.38 19.80 338.72 20.05 338.38 20.30 338.34 20.55 338.00 20.80 338.06 21.05 338.09 21.30 337.84 21.55 337.67 21.80 338.08 22.05 338.16 22.30 337.47 22.55 337.30 22.80 337.65 23.05 337.78 23.30 337.06 23.55 337.04 23.80 337.51 24.00 337.88 24.05 337.66 24.30 336.93 24.55 337.58 24.80 337.37 25.05 337.30 25.30 337.58 25.55 337.29 25.80 337.35 26.05 336.75 26.30 337.97 26.55 338.02 26.80 337.85 27.05 337.99 27.30 338.02 27.55 337.90 27.80 337.81 28.05 337.93 28.30 337.28 28.55 337.37 28.80 337.82 29.05 338.48 29.30 338.36 29.55 338.43 29.80 338.42 30.05 338.12 30.30 338.21 30.55 338.12 30.80 337.96 31.05 338.05 31.30 338.21 31.55 337.97 31.80 337.82 32.05 338.09 32.30 338.10 32.55 338.15 32.80 338.46 33.05 338.24 33.30 338.11 33.55 337.88 33.80 337.67 34.05 338.14 34.30 338.28 34.55 338.29 34.80 338.29 35.05 337.94 35.30 338.16 35.55 338.14 35.80 338.28 36.05 337.97 36.30 338.40 36.55 338.47 36.80 337.83 37.05 337.95 37.30 338.01 37.55 338.19 37.80 338.48 38.05 337.61 38.30 338.26 38.55 338.29 38.80 337.93 39.05 337.80 39.30 338.15 39.55 337.97 39.80 337.85 40.05 337.85 40.30 338.60 40.55 337.54 40.80 338.47 41.05 337.62 41.30 338.25 41.55 337.90 41.80 337.98 42.05 337.77 42.30 337.81 42.55 338.35 42.80 337.81 43.05 337.20 43.30 337.63 43.55 337.07 43.80 337.48 44.05 337.78 44.30 337.70 44.55 337.70 44.80 338.47 45.05 338.79 45.30 338.67 45.55 338.62 45.80 338.23 46.05 337.75 46.30 337.65 46.55 337.50 46.80 337.55 47.05 337.64 47.30 338.03 47.55 338.37 47.80 338.15 48.05 338.18 48.30 337.74 48.55 338.04 48.80 337.66 49.05 337.80 49.30 338.42 49.55 338.13 49.80 337.86 50.05 338.05 50.30 337.69 50.55 337.85 50.80 337.58 51.05 338.06 51.30 337.87 51.55 337.87 51.80 337.93 52.05 337.94 52.30 337.95 52.55 337.87 52.80 337.76 53.05 337.96 53.30 338.00 53.55 338.19 53.80 338.31 54.05 338.39 54.30 337.95 54.55 337.71 54.80 337.89 55.05 337.84 55.30 338.16 55.55 337.85 55.80 338.08 56.05 337.51 56.30 337.93 56.55 337.69 56.80 337.45 57.05 337.24 57.30 337.26 57.55 337.42 57.80 338.13 58.05 338.10 58.30 337.95 58.55 337.61 58.80 337.75 59.05 337.31 59.30 337.00 59.55 337.13 59.80 337.48 60.05 338.33 60.30 337.17 60.55 337.13 60.80 337.08 61.05 337.03 61.30 336.92 61.55 337.08 61.80 336.89 62.05 337.16 62.30 336.64 62.55 336.74 62.80 336.61 63.05 336.64 63.30 336.83 63.55 336.27 63.80 336.17 64.05 335.64 64.30 335.28 64.55 334.61 64.80 333.11 65.05 331.31 65.30 327.18 65.55 322.15 65.80 315.65 65.90 315.22 66.05 316.95 66.30 323.46 66.55 328.38 66.80 331.77 67.05 333.63 67.30 334.89 67.55 335.60 67.80 336.02 68.05 336.31 68.30 336.85 68.55 336.87 68.80 336.78 69.05 336.55 69.30 336.70 69.55 336.60 69.80 337.35 70.05 337.62 70.30 337.00 70.55 337.20 70.80 337.61 71.05 337.30 71.30 337.10 71.55 336.77 71.80 337.03 72.05 337.30 72.30 337.45 72.55 337.64 72.80 337.57 73.05 337.73 73.30 337.98 73.55 337.77 73.80 337.54 74.05 336.98 74.30 337.46 74.55 337.56 74.80 337.96 75.05 337.15 75.30 337.24 75.55 336.71 75.80 337.29 76.05 337.61 76.30 337.10 76.55 337.45 76.80 337.23 77.05 337.51 77.30 337.48 77.55 337.20 77.80 336.78 78.05 336.95 78.30 337.41 78.55 337.59 78.80 337.20 79.05 337.47 79.30 337.92 79.55 337.13 79.80 337.33 80.05 337.38 80.30 336.98 80.55 336.98 80.80 337.80 81.05 337.51 81.30 337.57 81.55 336.98 81.80 337.26 82.05 337.21 82.30 337.18 82.55 335.85 82.80 333.54 83.00 333.25 83.05 333.76 83.30 335.42 83.55 336.89 83.80 336.47 84.05 337.30 84.30 337.38 84.55 336.70 84.80 336.77 85.05 337.40 85.30 337.79 85.55 337.34 85.80 337.02 86.05 336.58 86.30 336.70 86.55 336.56 86.80 336.87 87.05 336.87 87.30 337.31 87.55 336.52 87.80 336.62 88.05 336.36 88.30 336.51 88.55 336.95 88.80 336.24 89.05 336.31 89.30 336.57 89.55 335.85 89.80 335.95 90.05 336.59 90.30 335.65 90.55 336.37 90.80 336.13 91.05 336.17 91.30 335.74 91.55 335.57 91.80 335.26 92.00 335.37 92.05 335.51 92.30 334.82 92.55 335.42 92.80 335.87 93.05 335.43 93.30 334.71 93.55 335.51 93.80 334.78 94.05 334.57 94.30 334.04 94.55 333.38 94.80 328.70 95.05 321.11 95.30 310.12 95.50 305.49 95.55 306.17 95.80 314.61 96.05 324.77 96.30 331.02 96.55 332.99 96.80 333.30 97.05 332.42 97.30 332.10 97.50 331.67 97.55 331.83 97.80 333.25 98.05 334.59 98.30 335.67 98.55 334.97 98.80 335.29 99.05 335.46 99.30 335.75 99.55 336.17 99.80 336.01 100.05 335.37 100.30 335.77 100.55 335.17 100.80 331.21 101.05 317.89 101.30 303.94 101.55 318.22 101.80 330.60 102.05 334.69 102.30 335.82 102.55 336.93 102.80 336.33 103.05 336.51 103.30 337.01 103.55 336.56 103.80 336.60 104.05 336.39 104.30 336.81 104.55 336.60 104.80 335.99 105.05 336.61 105.30 336.69 105.55 336.71 105.80 336.38 106.05 336.33 106.30 337.38 106.55 336.57 106.80 336.28 107.05 336.96 107.30 337.23 107.55 336.87 107.80 336.44 108.05 336.69 108.30 336.57 108.55 336.97 108.80 336.45 109.05 336.66 109.30 336.71 109.55 336.65 109.80 337.24 110.05 336.84 110.30 336.35 110.55 336.70 110.80 336.73 111.05 336.55 111.30 336.84 111.55 336.02 111.80 335.97 112.05 336.62 112.30 336.88 112.55 336.67 112.80 337.08 113.05 336.71 113.30 337.28 113.55 336.56 113.80 335.93 114.05 336.25 114.30 336.41 114.55 336.43 114.80 336.39 115.05 336.58 115.30 336.22 115.55 336.50 115.80 336.49 116.05 336.44 116.30 336.72 116.55 336.76 116.80 336.72 117.05 336.08 117.30 336.46 117.55 336.22 117.80 336.32 118.05 336.64 118.30 336.76 118.55 336.59 118.80 336.47 119.05 336.42 119.30 336.45 119.55 336.11 119.80 335.89 120.05 336.27 120.30 336.34 120.55 336.28 120.80 336.70 121.05 335.80 121.30 336.11 121.55 335.81 121.80 336.16 122.05 336.33 122.30 335.97 122.55 336.06 122.80 335.40 123.05 335.25 123.30 336.11 123.55 336.01 123.80 336.06 124.05 336.15 124.30 336.82 124.55 335.85 124.80 336.23 125.05 335.62 125.30 335.31 125.55 335.41 125.80 335.68 126.05 336.23 126.30 336.39 126.55 335.83 126.80 335.75 127.05 336.02 127.30 335.78 127.55 336.47 127.80 335.59 128.05 335.48 128.30 336.02 128.55 335.43 128.80 335.59 129.05 335.70 129.30 335.79 129.55 335.52 129.80 335.70 130.05 335.77 130.30 335.25 130.55 335.55 130.80 335.73 131.05 335.74 131.30 335.26 131.55 335.59 131.80 335.66 132.05 336.24 132.30 335.45 132.55 335.55 132.80 335.62 133.05 334.91 133.30 335.11 133.55 335.49 133.80 335.15 134.05 335.13 134.30 335.11 134.55 334.59 134.80 334.29 135.05 333.40 135.30 326.59 135.55 311.35 135.70 305.62 135.80 308.70 136.05 325.39 136.30 332.22 136.55 334.11 136.80 334.51 137.05 334.78 137.30 335.25 137.55 334.63 137.80 334.84 138.05 334.93 138.30 335.12 138.55 334.79 138.80 334.98 139.05 334.51 139.30 334.08 139.55 335.18 139.80 335.50 140.05 335.34 140.30 334.87 140.55 335.16 140.80 334.98 141.05 334.85 141.30 335.33 141.55 335.73 141.80 334.89 142.05 334.83 142.30 334.97 142.55 334.55 142.80 334.76 143.05 334.42 143.30 334.21 143.55 334.73 143.80 334.62 144.05 334.25 144.30 334.57 144.55 334.50 144.80 334.34 145.05 334.68 145.30 334.64 145.55 334.51 145.80 334.53 146.05 334.84 146.30 334.33 146.55 334.78 146.80 334.50 147.05 334.82 147.30 334.83 147.55 334.37 147.80 334.43 148.05 334.37 148.30 334.17 148.55 334.36 148.80 334.44 149.05 334.19 149.30 333.90 149.55 333.84 149.80 334.42 150.05 333.36 150.30 333.40 150.55 333.56 150.80 333.73 151.05 333.32 151.30 333.62 151.55 333.86 151.80 333.89 152.05 333.51 152.30 333.00 152.55 333.06 152.80 332.75 153.05 333.47 153.30 332.90 153.55 332.83 153.80 333.64 154.05 333.66 154.30 332.75 154.55 332.93 154.80 332.89 155.05 333.27 155.30 332.45 155.55 332.56 155.80 332.81 156.05 332.81 156.30 332.00 156.55 332.28 156.80 332.45 157.05 332.55 157.30 332.59 157.55 332.03 157.80 331.66 158.05 332.09 158.30 332.12 158.55 331.76 158.80 331.59 159.05 331.03 159.30 331.52 159.55 332.08 159.80 331.73 160.05 331.24 160.30 331.63 160.55 331.53 160.80 331.86 161.05 330.99 161.30 331.22 161.55 330.74 161.80 330.56 162.05 330.91 162.30 330.95 162.55 330.83 162.80 330.74 163.05 330.08 163.30 329.48 163.55 329.45 163.80 329.69 164.05 329.28 164.30 329.35 164.55 329.37 164.80 329.56 165.05 329.29 165.30 329.03 165.55 328.81 165.80 328.40 166.05 329.15 166.30 328.56 166.55 328.14 166.80 327.87 167.05 327.76 167.30 327.55 167.55 326.80 167.80 326.55 168.05 326.45 168.30 325.54 168.55 325.41 168.80 325.35 169.05 325.45 169.30 325.24 169.55 324.62 169.80 324.54 170.05 322.99 170.30 323.39 170.55 322.18 170.80 322.14 171.05 321.48 171.30 320.63 171.55 319.82 171.80 318.34 172.05 318.60 172.30 316.98 172.55 316.81 172.80 315.41 173.05 314.21 173.30 313.31 173.55 311.73 173.80 310.29 174.05 309.00 174.30 307.16 174.55 303.69 174.80 299.66 174.90 298.81 175.05 299.06 175.30 300.28 175.55 300.23 175.80 299.76 176.05 297.41 176.30 292.57 176.55 288.65 176.60 288.69 176.80 290.31 177.00 292.74 177.05 292.61 177.30 294.44 177.55 293.81 177.80 293.61 178.05 293.13 178.30 291.77 178.55 291.47 178.80 290.64 179.05 288.50 196.80 288.50 197.05 293.15 197.30 298.78 197.55 302.66 197.80 305.46 198.05 307.50 198.30 309.99 198.55 312.09 198.80 313.39 199.05 313.94 199.30 314.44 199.55 314.91 199.80 314.58 200.05 315.13 200.30 315.54 200.55 315.32 200.80 315.80 201.05 315.66 201.30 316.19 201.55 316.30 201.80 316.41 202.05 316.67 202.30 317.29 202.55 317.08 202.80 317.58 203.05 317.28 203.30 316.90 203.50 317.30 203.55 316.86 203.80 317.39 204.05 316.98 204.30 317.25 204.55 317.82 204.80 317.65 205.05 317.83 205.30 317.44 205.55 317.15 205.80 316.77 206.05 316.72 206.30 316.09 206.55 315.28 206.80 314.24 207.05 313.75 207.30 312.83 207.55 311.57 207.80 310.13 208.05 309.33 208.30 308.59 208.55 307.78 208.80 307.91 209.05 308.54 209.30 307.83 209.55 308.35 209.80 309.22 210.05 309.75 210.30 309.77 210.55 309.25 210.80 307.27 211.05 303.95 211.30 299.48 211.55 291.80 211.80 288.50 216.30 288.50 216.40 294.13 216.50 311.38 216.55 316.25 216.60 317.44 216.70 310.21 216.80 290.06 216.90 288.50 221.10 288.50 221.20 293.47 221.30 311.76 221.40 299.78 221.50 288.50 228.05 288.50 228.30 297.61 228.55 305.40 228.80 311.20 229.05 314.79 229.30 317.69 229.55 319.94 229.80 320.76 230.05 321.90 230.30 322.32 230.55 322.27 230.80 322.41 231.05 322.49 231.30 321.95 231.55 321.78 231.80 320.96 232.05 320.59 232.30 319.51 232.55 318.73 232.80 318.32 233.00 316.83 233.05 316.88 233.30 315.45 233.55 312.99 233.80 310.95 234.05 307.14 234.30 303.56 234.55 297.38 234.80 289.40 235.05 288.50 239.05 288.50 239.30 295.73 239.55 302.98 239.80 307.35 240.05 311.83 240.30 315.21 240.55 317.02 240.80 319.03 241.05 320.83 241.30 322.06 241.55 323.20 241.80 323.91 242.05 324.89 242.30 325.33 242.55 326.14 242.80 327.10 243.05 327.00 243.30 327.57 243.55 327.51 243.80 327.62 244.05 328.09 244.30 328.23 244.55 327.78 244.80 328.10 245.05 328.15 245.30 327.93 245.55 327.71 245.80 328.15 246.05 328.43 246.30 327.82 246.55 326.70 246.80 327.53 247.05 327.96 247.30 327.19 247.55 327.50 247.80 326.66 248.05 326.95 248.30 327.25 248.50 326.67 248.55 326.88 248.80 326.76 249.05 326.60 249.30 326.50 249.55 326.40 249.80 326.49 250.05 325.50 250.30 325.25 250.55 324.86 250.80 324.68 251.05 324.46 251.30 324.29 251.55 322.86 251.80 322.12 252.05 321.03 252.30 318.96 252.55 316.80 252.80 313.36 253.05 309.83 253.30 303.56 253.55 294.71 253.80 288.50 256.80 288.50 257.05 295.55 257.30 304.18 257.55 309.60 257.80 313.70 258.05 316.51 258.30 318.66 258.55 320.31 258.80 321.27 259.05 322.44 259.30 323.58 259.55 323.84 259.80 324.82 260.05 325.36 260.30 325.51 260.55 325.13 260.80 325.55 261.05 325.40 261.30 325.55 261.55 325.50 261.80 325.58 262.00 326.09 262.05 325.75 262.30 325.95 262.55 325.74 262.80 325.78 263.05 325.71 263.30 325.35 263.55 325.35 263.80 324.79 264.05 324.64 264.30 324.40 264.55 324.38 264.80 323.21 265.05 322.67 265.30 320.92 265.55 317.63 265.80 313.92 266.05 306.21 266.30 293.48 266.55 288.50 266.80 288.50 267.05 297.21 267.30 304.15 267.55 306.31 267.80 306.25 268.05 303.89 268.30 300.18 268.55 293.47 268.80 288.50 272.80 288.50 273.05 289.42 273.30 298.19 273.55 304.08 273.80 309.37 274.05 313.04 274.30 316.15 274.55 317.82 274.80 317.11 275.05 312.74 275.20 311.18 275.30 313.31 275.55 320.30 275.80 324.82 276.05 326.50 276.30 327.50 276.55 327.93 276.80 328.83 277.05 329.97 277.30 329.94 277.55 330.09 277.80 330.83 278.05 331.49 278.30 331.27 278.55 331.83 278.80 332.05 279.05 331.85 279.30 332.80 279.55 332.73 279.80 333.02 280.05 333.17 280.30 333.07 280.55 333.18 280.80 333.92 281.05 333.30 281.30 333.64 281.55 333.77 281.80 333.92 282.05 335.07 282.30 334.36 282.55 334.32 282.80 334.06 283.05 334.56 283.30 333.83 283.55 334.54 283.80 334.66 284.05 334.97 284.30 334.64 284.55 335.08 284.80 334.41 285.05 335.08 285.30 335.35 285.55 334.77 285.80 334.98 286.05 335.15 286.30 334.90 286.55 335.03 286.80 335.40 287.05 334.97 287.30 335.45 287.55 334.92 287.80 335.51 288.05 335.00 288.30 335.20 288.55 334.82 288.80 334.89 289.05 335.56 289.30 335.16 289.55 335.07 289.80 334.89 290.05 334.95 290.30 335.18 290.55 335.02 290.80 335.61 291.05 335.80 291.30 336.05 291.55 336.27 291.80 335.56 292.05 336.05 292.30 335.40 292.55 335.42 292.80 335.06 293.05 335.39 293.30 335.47 293.55 335.51 293.80 335.41 294.05 335.82 294.30 336.17 294.55 335.52 294.80 335.77 295.05 336.64 295.30 335.71 295.55 335.47 295.80 335.66 296.05 335.51 296.30 335.43 296.55 335.59 296.80 335.12 297.05 335.57 297.30 335.81 297.55 335.85 297.80 336.54 298.05 335.75 298.30 335.79 298.55 335.99 298.80 335.34 299.05 335.98 299.30 335.34 299.55 335.91 299.80 335.62 300.05 334.84 300.30 335.27 300.55 335.76 300.80 335.86 301.05 336.06 301.30 335.99 301.55 335.38 301.80 336.14 302.05 335.69 302.30 336.23 302.55 336.74 302.80 336.15 303.05 336.01 303.30 335.37 303.55 335.63 303.80 336.05 304.05 336.51 304.30 336.17 304.55 335.36 304.80 336.00 305.05 335.95 305.30 336.26 305.55 336.10 305.80 335.75 306.05 335.74 306.30 336.05 306.55 336.50 306.80 335.87 307.05 335.35 307.30 335.90 307.55 336.08 307.80 336.50 308.05 336.24 308.30 336.22 308.55 336.13 308.80 336.17 309.05 336.11 309.30 336.19 309.55 336.20 309.80 335.80 310.05 335.84 310.30 336.09 310.55 336.43 310.80 336.42 311.05 335.91 311.30 335.78 311.55 335.73 311.80 336.06 312.05 336.33 312.30 336.01 312.55 335.46 312.80 336.24 313.05 335.63 313.30 336.40 313.55 336.30 313.80 336.38 314.05 336.36 314.30 336.33 314.55 336.54 314.80 336.50 315.05 336.44 315.30 336.43 315.55 336.71 315.80 337.00 316.05 336.40 316.30 336.31 316.55 335.77 316.80 336.23 317.05 335.96 317.30 336.67 317.55 336.05 317.80 336.10 318.05 336.40 318.30 336.04 318.55 336.36 318.80 336.30 319.05 336.71 319.30 336.28 319.55 335.78 319.80 336.03 320.05 336.25 320.30 336.64 320.55 336.61 320.80 335.83 321.05 335.72 321.30 335.95 321.55 336.06 321.80 335.53 322.05 336.24 322.30 336.18 322.55 335.50 322.80 336.28 323.05 335.98 323.30 335.63 323.55 335.83 323.80 336.07"/>
<path d="M11.30 381.53 11.55 381.76 11.80 381.15 12.05 380.96 12.30 381.31 12.55 381.83 12.80 381.54 13.05 380.97 13.30 380.95 13.55 381.17 13.80 381.54 14.05 381.32 14.30 381.16 14.55 381.16 14.80 381.28 15.05 381.02 15.30 381.19 15.55 381.31 15.80 381.77 16.05 381.35 16.30 381.57 16.55 380.99 16.80 381.44 17.05 381.33 17.30 381.08 17.55 381.18 17.80 381.49 18.05 381.18 18.30 381.53 18.55 381.76 18.80 381.85 19.05 381.87 19.30 380.96 19.55 381.24 19.80 380.97 20.05 381.41 20.30 381.23 20.55 381.21 20.80 381.25 21.05 380.89 21.30 380.98 21.55 380.69 21.80 381.43 22.05 380.75 22.30 380.65 22.55 379.99 22.80 379.83 23.05 379.93 23.30 380.41 23.55 380.48 23.80 380.32 24.00 379.99 24.05 380.69 24.30 379.98 24.55 379.89 24.80 380.35 25.05 380.06 25.30 380.46 25.55 380.85 25.80 380.70 26.05 380.87 26.30 380.86 26.55 380.68 26.80 379.89 27.05 380.34 27.30 380.86 27.55 380.49 27.80 380.75 28.05 381.06 28.30 381.50 28.55 380.76 28.80 380.84 29.05 381.09 29.30 381.25 29.55 380.69 29.80 381.56 30.05 380.94 30.30 381.38 30.55 381.08 30.80 381.20 31.05 381.62 31.30 381.42 31.55 381.19 31.80 380.77 32.05 380.77 32.30 380.53 32.55 381.55 32.80 380.68 33.05 380.13 33.30 381.33 33.55 381.51 33.80 381.03 34.05 381.29 34.30 380.83 34.55 380.79 34.80 381.12 35.05 381.16 35.30 380.90 35.55 381.49 35.80 381.36 36.05 381.13 36.30 380.65 36.55 380.95 36.80 380.88 37.05 380.93 37.30 381.22 37.55 380.86 37.80 381.03 38.05 381.24 38.30 381.15 38.55 381.74 38.80 380.60 39.05 380.85 39.30 380.55 39.55 380.83 39.80 381.71 40.05 380.61 40.30 380.76 40.55 381.10 40.80 381.00 41.05 381.24 41.30 380.51 41.55 381.13 41.80 380.66 42.05 380.46 42.30 380.98 42.55 381.07 42.80 380.71 43.05 380.59 43.30 380.75 43.55 380.85 43.80 380.82 44.05 380.55 44.30 380.06 44.55 381.09 44.80 380.98 45.05 380.50 45.30 380.27 45.55 380.49 45.80 380.63 46.05 380.12 46.30 381.11 46.55 381.04 46.80 380.79 47.05 380.93 47.30 380.93 47.55 381.19 47.80 380.96 48.05 381.26 48.30 381.42 48.55 380.86 48.80 380.68 49.05 380.49 49.30 380.65 49.55 380.52 49.80 380.73 50.05 380.87 50.30 380.97 50.55 380.46 50.80 381.04 51.05 380.73 51.30 380.72 51.55 380.58 51.80 380.07 52.05 380.66 52.30 380.16 52.55 380.94 52.80 380.80 53.05 381.24 53.30 381.06 53.55 381.03 53.80 381.24 54.05 380.82 54.30 381.22 54.55 380.79 54.80 380.80 55.05 380.50 55.30 380.80 55.55 380.92 55.80 380.57 56.05 380.23 56.30 380.53 56.55 380.75 56.80 380.61 57.05 380.32 57.30 380.31 57.55 380.45 57.80 379.73 58.05 380.19 58.30 380.94 58.55 380.26 58.80 380.42 59.05 381.06 59.30 380.90 59.55 380.91 59.80 380.57 60.05 380.09 60.30 381.30 60.55 380.76 60.80 380.59 61.05 380.98 61.30 380.79 61.55 380.48 61.80 380.00 62.05 380.15 62.30 380.15 62.55 379.93 62.80 379.76 63.05 379.60 63.30 379.74 63.55 379.50 63.80 379.59 64.05 379.58 64.30 379.01 64.55 378.27 64.80 377.77 65.05 376.02 65.30 372.63 65.55 368.48 65.80 364.55 65.90 363.76 66.05 365.35 66.30 369.23 66.55 372.91 66.80 376.16 67.05 377.66 67.30 377.85 67.55 378.77 67.80 379.63 68.05 379.23 68.30 379.23 68.55 379.31 68.80 379.47 69.05 379.33 69.30 379.73 69.55 379.56 69.80 380.02 70.05 380.86 70.30 380.03 70.55 380.47 70.80 380.67 71.05 379.62 71.30 380.14 71.55 380.24 71.80 380.16 72.05 380.51 72.30 380.20 72.55 380.38 72.80 380.19 73.05 380.22 73.30 380.03 73.55 380.95 73.80 380.44 74.05 379.97 74.30 380.83 74.55 380.92 74.80 380.38 75.05 380.10 75.30 380.00 75.55 380.60 75.80 380.25 76.05 380.03 76.30 380.47 76.55 380.22 76.80 380.22 77.05 380.85 77.30 380.66 77.55 380.73 77.80 380.48 78.05 380.69 78.30 380.27 78.55 380.52 78.80 380.60 79.05 380.15 79.30 379.75 79.55 380.23 79.80 380.12 80.05 380.32 80.30 379.97 80.55 380.23 80.80 380.42 81.05 380.89 81.30 380.79 81.55 380.28 81.80 380.42 82.05 379.68 82.30 379.74 82.55 378.04 82.80 374.43 83.00 371.77 83.05 371.72 83.30 375.55 83.55 379.03 83.80 379.60 84.05 379.95 84.30 379.99 84.55 379.22 84.80 379.87 85.05 379.73 85.30 379.93 85.55 380.00 85.80 379.27 86.05 379.55 86.30 379.68 86.55 379.84 86.80 380.03 87.05 379.53 87.30 379.53 87.55 379.76 87.80 379.01 88.05 379.95 88.30 379.26 88.55 379.76 88.80 379.46 89.05 379.89 89.30 379.66 89.55 379.20 89.80 378.49 90.05 378.83 90.30 378.90 90.55 378.92 90.80 378.28 91.05 378.19 91.30 378.13 91.55 378.40 91.80 378.07 92.00 378.21 92.05 378.58 92.30 378.22 92.55 378.69 92.80 378.48 93.05 378.25 93.30 378.61 93.55 378.48 93.80 378.13 94.05 377.81 94.30 377.60 94.55 376.82 94.80 374.55 95.05 368.92 95.30 361.32 95.50 358.04 95.55 358.67 95.80 364.40 96.05 371.57 96.30 375.20 96.55 376.39 96.80 377.24 97.05 376.72 97.30 375.74 97.50 376.35 97.55 376.36 97.80 376.76 98.05 377.61 98.30 377.89 98.55 378.73 98.80 378.61 99.05 378.65 99.30 378.73 99.55 378.46 99.80 379.00 100.05 379.18 100.30 378.61 100.55 376.76 100.80 373.18 101.05 358.80 101.30 343.55 101.55 358.42 101.80 372.62 102.05 377.04 102.30 378.57 102.55 378.76 102.80 379.69 103.05 379.04 103.30 379.22 103.55 379.24 103.80 379.06 104.05 379.66 104.30 379.05 104.55 378.99 104.80 379.21 105.05 379.23 105.30 379.76 105.55 379.36 105.80 379.59 106.05 379.35 106.30 379.84 106.55 379.55 106.80 379.56 107.05 378.96 107.30 379.55 107.55 379.27 107.80 379.68 108.05 379.66 108.30 379.67 108.55 379.85 108.80 379.65 109.05 379.20 109.30 379.41 109.55 379.46 109.80 379.04 110.05 379.50 110.30 379.88 110.55 379.58 110.80 379.46 111.05 379.54 111.30 379.75 111.55 379.28 111.80 379.63 112.05 379.17 112.30 379.46 112.55 379.52 112.80 378.95 113.05 379.42 113.30 379.39 113.55 378.78 113.80 379.01 114.05 379.00 114.30 378.91 114.55 379.29 114.80 379.00 115.05 379.18 115.30 378.86 115.55 379.04 115.80 379.74 116.05 379.45 116.30 378.75 116.55 378.76 116.80 379.01 117.05 378.59 117.30 379.31 117.55 379.16 117.80 379.10 118.05 379.12 118.30 378.88 118.55 378.67 118.80 377.98 119.05 378.27 119.30 378.93 119.55 379.22 119.80 379.01 120.05 378.43 120.30 378.75 120.55 378.94 120.80 378.55 121.05 379.29 121.30 378.68 121.55 378.87 121.80 378.56 122.05 379.11 122.30 378.55 122.55 378.51 122.80 379.13 123.05 378.52 123.30 378.59 123.55 378.94 123.80 378.96 124.05 378.28 124.30 378.85 124.55 378.70 124.80 379.13 125.05 378.29 125.30 378.86 125.55 378.88 125.80 378.62 126.05 378.53 126.30 378.76 126.55 378.46 126.80 378.48 127.05 378.34 127.30 378.58 127.55 378.80 127.80 378.12 128.05 378.45 128.30 378.61 128.55 379.02 128.80 378.39 129.05 378.86 129.30 378.42 129.55 378.59 129.80 378.53 130.05 378.52 130.30 378.31 130.55 378.03 130.80 378.73 131.05 378.88 131.30 378.40 131.55 378.24 131.80 378.16 132.05 377.76 132.30 377.71 132.55 378.15 132.80 378.39 133.05 378.04 133.30 377.68 133.55 377.48 133.80 377.49 134.05 377.79 134.30 377.49 134.55 376.65 134.80 375.98 135.05 374.64 135.30 366.59 135.55 345.80 135.70 337.63 135.80 341.22 136.05 362.99 136.30 373.76 136.55 375.76 136.80 376.51 137.05 377.40 137.30 377.60 137.55 377.81 137.80 378.11 138.05 377.58 138.30 377.85 138.55 377.69 138.80 377.73 139.05 377.71 139.30 377.79 139.55 377.20 139.80 377.04 140.05 377.46 140.30 377.67 140.55 377.40 140.80 377.44 141.05 377.02 141.30 377.65 141.55 377.63 141.80 377.94 142.05 377.39 142.30 377.34 142.55 377.35 142.80 377.75 143.05 377.58 143.30 377.46 143.55 376.76 143.80 376.82 144.05 376.61 144.30 376.95 144.55 377.34 144.80 377.16 145.05 376.78 145.30 377.60 145.55 376.79 145.80 377.35 146.05 377.40 146.30 377.10 146.55 377.34 146.80 376.61 147.05 376.56 147.30 376.61 147.55 376.81 147.80 376.65 148.05 377.19 148.30 376.63 148.55 376.51 148.80 376.14 149.05 376.55 149.30 376.73 149.55 376.25 149.80 375.94 150.05 375.79 150.30 376.53 150.55 376.56 150.80 376.38 151.05 376.45 151.30 376.35 151.55 376.28 151.80 375.57 152.05 376.03 152.30 376.17 152.55 376.31 152.80 376.25 153.05 375.67 153.30 375.79 153.55 375.25 153.80 375.98 154.05 375.23 154.30 375.66 154.55 375.25 154.80 375.09 155.05 374.98 155.30 375.09 155.55 375.29 155.80 375.53 156.05 375.09 156.30 375.30 156.55 375.31 156.80 375.63 157.05 374.82 157.30 374.85 157.55 374.92 157.80 374.71 158.05 374.75 158.30 374.29 158.55 374.21 158.80 374.04 159.05 373.93 159.30 373.76 159.55 373.89 159.80 373.50 160.05 373.54 160.30 373.84 160.55 373.15 160.80 373.06 161.05 373.17 161.30 372.90 161.55 372.77 161.80 373.56 162.05 373.17 162.30 372.72 162.55 372.42 162.80 371.99 163.05 371.89 163.30 371.39 163.55 372.06 163.80 371.77 164.05 372.02 164.30 371.67 164.55 370.81 164.80 371.69 165.05 371.32 165.30 371.20 165.55 370.54 165.80 370.21 166.05 370.07 166.30 370.48 166.55 369.41 166.80 369.00 167.05 369.19 167.30 368.22 167.55 368.83 167.80 367.89 168.05 368.13 168.30 367.48 168.55 366.96 168.80 366.26 169.05 366.57 169.30 365.73 169.55 364.80 169.80 364.79 170.05 364.11 170.30 363.68 170.55 362.78 170.80 362.26 171.05 361.59 171.30 360.67 171.55 359.26 171.80 358.88 172.05 358.31 172.30 357.06 172.55 356.02 172.80 354.78 173.05 353.10 173.30 352.01 173.55 350.08 173.80 347.80 174.05 344.63 174.30 340.26 174.55 333.97 174.70 331.69 174.80 331.24 175.05 333.54 175.30 336.50 175.55 336.61 175.80 335.56 176.05 334.42 176.30 333.40 176.55 332.14 176.80 332.19 177.00 332.04 177.05 332.08 177.30 331.54 177.55 331.22 177.80 331.32 178.05 331.99 178.30 333.13 178.55 333.29 178.80 332.27 179.05 328.72 179.30 320.79 179.55 313.21 179.60 313.04 179.80 318.02 180.05 328.20 180.30 334.63 180.55 337.38 180.80 338.68 181.05 337.87 181.30 337.35 181.55 335.99 181.80 333.77 182.05 329.92 182.30 324.58 182.55 315.76 182.80 303.34 183.05 288.50 194.55 288.50 194.80 299.63 195.05 313.64 195.30 324.38 195.55 330.95 195.80 335.28 196.05 338.32 196.30 339.94 196.55 341.50 196.80 341.99 197.05 343.05 197.30 343.57 197.55 343.88 197.80 344.01 198.00 344.10 198.05 344.15 198.30 344.58 198.55 344.55 198.80 345.18 199.05 345.67 199.30 345.51 199.55 345.73 199.60 346.40 199.80 346.79 200.05 347.24 200.30 347.72 200.55 348.39 200.80 348.92 201.05 349.99 201.30 350.40 201.55 350.96 201.80 352.09 202.05 353.34 202.30 354.00 202.55 354.10 202.80 354.66 203.05 354.91 203.10 354.98 203.30 355.07 203.50 355.54 203.55 355.31 203.80 355.61 204.05 356.03 204.30 356.28 204.55 357.10 204.80 356.43 205.05 356.20 205.30 356.65 205.55 356.64 205.80 356.52 206.05 356.00 206.30 355.12 206.55 354.87 206.80 354.05 207.05 353.69 207.30 353.61 207.55 352.38 207.80 351.69 208.05 351.40 208.30 350.28 208.55 350.53 208.80 350.30 209.05 350.38 209.30 350.90 209.55 351.36 209.80 352.64 210.05 353.32 210.30 353.85 210.55 354.66 210.80 354.39 211.05 353.72 211.30 354.08 211.55 351.96 211.80 348.81 212.05 342.11 212.30 331.02 212.55 313.91 212.80 289.52 213.05 288.50 218.40 288.50 218.50 298.34 218.55 325.78 218.60 335.19 218.70 294.96 218.75 288.50 224.80 288.50 225.05 305.70 225.30 319.95 225.55 327.32 225.80 331.68 226.05 334.82 226.30 336.73 226.50 337.27 226.55 337.12 226.80 337.57 227.05 338.15 227.30 339.12 227.55 340.02 227.80 340.54 228.05 341.94 228.30 342.34 228.55 344.18 228.80 345.33 229.05 346.60 229.30 349.12 229.55 350.43 229.80 351.62 230.05 352.80 230.30 354.99 230.55 356.15 230.80 357.13 231.05 357.74 231.30 359.69 231.55 360.76 231.80 361.44 232.05 361.45 232.30 361.35 232.55 362.20 232.80 361.65 233.05 361.27 233.10 360.11 233.30 359.70 233.55 358.58 233.80 356.29 234.05 353.93 234.30 349.83 234.55 344.35 234.80 335.62 235.05 317.67 235.30 288.50 238.55 288.50 238.80 294.86 239.05 325.89 239.30 338.81 239.55 345.79 239.80 350.65 240.05 354.15 240.30 357.16 240.55 359.77 240.80 361.39 241.05 363.55 241.30 364.67 241.55 366.20 241.80 367.11 242.05 367.55 242.30 369.20 242.55 369.50 242.80 369.25 243.05 369.83 243.30 369.89 243.55 370.01 243.80 370.55 244.05 370.61 244.30 371.17 244.55 370.67 244.80 371.13 245.05 371.62 245.30 371.43 245.55 371.91 245.80 372.05 246.05 371.05 246.30 371.04 246.55 370.94 246.80 371.53 247.05 370.99 247.30 370.30 247.50 370.54 247.55 370.70 247.80 370.71 248.05 370.65 248.30 370.62 248.50 370.29 248.55 370.45 248.80 370.24 249.05 370.09 249.30 369.99 249.55 370.18 249.80 369.87 250.05 369.72 250.30 369.00 250.55 368.23 250.80 368.15 251.05 368.01 251.30 367.14 251.55 366.07 251.80 364.59 252.05 363.71 252.30 361.69 252.55 359.05 252.80 356.54 253.05 352.44 253.30 347.03 253.55 337.71 253.80 320.94 254.05 288.50 256.55 288.50 256.80 321.83 257.05 338.61 257.30 347.11 257.55 353.00 257.80 357.34 258.05 360.13 258.30 362.36 258.55 364.67 258.80 366.85 259.05 367.34 259.30 368.11 259.55 369.58 259.80 369.57 260.05 369.91 260.30 371.12 260.55 371.28 260.80 371.52 261.05 370.82 261.30 371.85 261.55 371.70 261.80 372.11 261.90 372.07 262.05 372.49 262.30 372.27 262.55 372.49 262.80 371.70 263.05 371.95 263.30 371.72 263.55 371.13 263.80 370.48 264.05 370.41 264.30 369.82 264.55 369.35 264.80 368.63 265.05 367.62 265.30 366.52 265.55 364.66 265.80 361.31 266.05 356.36 266.30 348.92 266.55 341.50 266.60 340.98 266.80 343.01 267.05 348.45 267.30 351.99 267.55 352.24 267.80 351.01 268.05 348.00 268.30 343.42 268.55 337.36 268.80 327.74 269.05 314.26 269.30 288.50 272.30 288.50 272.55 294.70 272.80 318.43 273.05 331.70 273.30 339.72 273.55 346.62 273.80 350.81 274.05 354.99 274.30 356.97 274.55 359.32 274.80 359.01 275.05 354.05 275.20 352.64 275.30 354.61 275.55 361.83 275.80 366.32 276.05 368.39 276.30 368.63 276.55 369.64 276.80 369.63 277.05 369.66 277.30 370.67 277.55 370.68 277.80 372.01 278.05 372.73 278.30 373.05 278.55 372.68 278.80 373.10 279.05 373.12 279.30 373.81 279.55 373.92 279.80 374.81 280.05 375.00 280.30 374.67 280.55 375.62 280.80 375.60 281.05 375.94 281.30 375.88 281.55 376.39 281.80 376.57 282.05 376.60 282.30 376.90 282.55 376.80 282.80 376.75 283.05 376.47 283.30 376.02 283.55 377.05 283.80 377.16 284.05 376.68 284.30 377.24 284.55 377.20 284.80 377.21 285.05 377.81 285.30 377.72 285.55 376.97 285.80 377.28 286.05 377.69 286.30 377.86 286.55 377.74 286.80 377.44 287.05 377.63 287.30 376.97 287.55 377.85 287.80 377.66 288.05 377.47 288.30 377.39 288.55 377.68 288.80 377.44 289.05 377.35 289.30 377.35 289.55 378.25 289.80 377.89 290.05 378.02 290.30 378.01 290.55 377.71 290.80 378.10 291.05 377.91 291.30 377.68 291.55 377.56 291.80 377.74 292.05 377.76 292.30 378.37 292.55 377.28 292.80 378.20 293.05 378.55 293.30 378.68 293.55 377.99 293.80 377.79 294.05 378.43 294.30 378.40 294.55 378.29 294.80 377.89 295.05 377.99 295.30 377.73 295.55 378.59 295.80 378.62 296.05 378.16 296.30 378.52 296.55 378.33 296.80 377.59 297.05 378.25 297.30 377.99 297.55 378.29 297.80 378.11 298.05 377.90 298.30 378.07 298.55 378.57 298.80 377.97 299.05 377.90 299.30 377.71 299.55 377.96 299.80 378.51 300.05 378.61 300.30 378.58 300.55 378.56 300.80 378.89 301.05 378.97 301.30 379.03 301.55 378.25 301.80 378.13 302.05 378.57 302.30 378.66 302.55 378.29 302.80 378.30 303.05 378.67 303.30 378.42 303.55 378.17 303.80 378.46 304.05 378.25 304.30 378.56 304.55 378.54 304.80 378.36 305.05 378.13 305.30 378.69 305.55 378.23 305.80 378.43 306.05 378.33 306.30 378.44 306.55 378.34 306.80 378.76 307.05 378.58 307.30 378.16 307.55 378.00 307.80 378.60 308.05 378.45 308.30 378.88 308.55 378.74 308.80 378.98 309.05 378.17 309.30 378.31 309.55 378.86 309.80 378.20 310.05 378.67 310.30 378.54 310.55 378.86 310.80 378.51 311.05 378.29 311.30 378.73 311.55 379.28 311.80 378.35 312.05 378.58 312.30 378.30 312.55 378.64 312.80 378.72 313.05 378.36 313.30 378.06 313.55 378.46 313.80 378.54 314.05 378.85 314.30 378.62 314.55 378.93 314.80 378.75 315.05 379.10 315.30 379.04 315.55 378.26 315.80 378.42 316.05 378.69 316.30 378.53 316.55 378.69 316.80 379.16 317.05 378.46 317.30 378.34 317.55 378.25 317.80 378.86 318.05 379.39 318.30 378.53 318.55 379.35 318.80 378.35 319.05 378.59 319.30 378.66 319.55 378.73 319.80 378.43 320.05 378.21 320.30 378.46 320.55 378.91 320.80 378.63 321.05 378.76 321.30 378.81 321.55 379.15 321.80 378.42 322.05 379.09 322.30 379.37 322.55 378.45 322.80 378.95 323.05 378.13 323.30 378.25 323.55 378.45 323.80 378.59"/>
<path d="M11.30 425.37 11.55 425.19 11.80 426.34 12.05 425.65 12.30 425.36 12.55 425.37 12.80 425.05 13.05 424.90 13.30 425.28 13.55 425.04 13.80 425.40 14.05 425.15 14.30 424.55 14.55 424.56 14.80 424.71 15.05 424.37 15.30 424.92 15.55 424.98 15.80 425.41 16.05 424.91 16.30 424.99 16.55 425.28 16.80 425.41 17.05 424.84 17.30 425.55 17.55 425.01 17.80 425.48 18.05 425.09 18.30 424.95 18.55 424.64 18.80 424.93 19.05 425.84 19.30 425.05 19.55 425.58 19.80 425.63 20.05 425.05 20.30 425.40 20.55 425.55 20.80 425.00 21.05 424.74 21.30 425.19 21.55 424.99 21.80 425.47 22.05 424.95 22.30 424.21 22.55 424.32 22.80 423.88 23.05 424.36 23.30 424.40 23.55 423.99 23.80 423.71 24.00 424.23 24.05 423.94 24.30 424.42 24.55 423.84 24.80 423.98 25.05 423.99 25.30 423.90 25.55 425.22 25.80 425.27 26.05 424.57 26.30 424.93 26.55 424.20 26.80 425.08 27.05 425.28 27.30 424.87 27.55 424.78 27.80 424.97 28.05 425.09 28.30 424.85 28.55 424.63 28.80 424.77 29.05 424.75 29.30 425.15 29.55 425.01 29.80 425.03 30.05 424.39 30.30 424.66 30.55 424.72 30.80 424.69 31.05 424.81 31.30 424.78 31.55 424.36 31.80 425.08 32.05 425.25 32.30 424.80 32.55 425.07 32.80 424.62 33.05 424.39 33.30 424.68 33.55 425.35 33.80 424.95 34.05 424.37 34.30 424.82 34.55 424.65 34.80 424.56 35.05 424.90 35.30 424.27 35.55 424.10 35.80 424.16 36.05 425.03 36.30 424.92 36.55 424.65 36.80 424.55 37.05 424.98 37.30 425.28 37.55 424.69 37.80 424.87 38.05 425.62 38.30 425.21 38.55 424.79 38.80 424.91 39.05 424.86 39.30 425.03 39.55 424.97 39.80 424.66 40.05 424.71 40.30 424.88 40.55 424.57 40.80 424.74 41.05 424.45 41.30 425.10 41.55 425.36 41.80 424.61 42.05 425.00 42.30 424.86 42.55 424.80 42.80 424.67 43.05 424.80 43.30 425.08 43.55 424.40 43.80 424.98 44.05 424.69 44.30 424.33 44.55 424.59 44.80 424.89 45.05 424.71 45.30 424.79 45.55 424.60 45.80 424.48 46.05 424.96 46.30 424.43 46.55 424.94 46.80 424.85 47.05 424.61 47.30 424.57 47.55 424.53 47.80 424.61 48.05 424.62 48.30 424.58 48.55 423.97 48.80 423.76 49.05 424.52 49.30 424.38 49.55 424.36 49.80 424.49 50.05 424.21 50.30 425.02 50.55 424.70 50.80 424.56 51.05 424.22 51.30 424.78 51.55 424.87 51.80 425.14 52.05 425.00 52.30 424.40 52.55 424.09 52.80 424.89 53.05 424.40 53.30 424.47 53.55 424.46 53.80 424.68 54.05 424.74 54.30 424.23 54.55 424.22 54.80 423.86 55.05 424.52 55.30 424.44 55.55 423.91 55.80 424.68 56.05 424.53 56.30 424.14 56.55 424.24 56.80 424.20 57.05 424.42 57.30 424.50 57.55 424.25 57.80 424.52 58.05 423.58 58.30 424.08 58.55 424.53 58.80 424.73 59.05 424.72 59.30 424.10 59.55 423.73 59.80 424.07 60.05 425.01 60.30 424.56 60.55 424.11 60.80 423.67 61.05 424.15 61.30 424.05 61.55 424.32 61.80 424.26 62.05 423.38 62.30 423.86 62.55 424.24 62.80 423.84 63.05 423.47 63.30 423.32 63.55 423.13 63.80 424.10 64.05 423.91 64.30 422.92 64.55 422.93 64.80 421.49 65.05 420.25 65.30 418.08 65.55 414.93 65.80 411.91 65.90 412.02 66.05 412.63 66.30 415.87 66.55 418.94 66.80 420.70 67.05 421.97 67.30 422.28 67.55 422.99 67.80 423.42 68.05 423.81 68.30 423.42 68.55 423.81 68.80 423.91 69.05 423.62 69.30 423.19 69.55 423.58 69.80 424.16 70.05 423.95 70.30 424.74 70.55 424.39 70.80 423.89 71.05 423.97 71.30 424.18 71.55 424.25 71.80 424.03 72.05 424.20 72.30 425.07 72.55 424.61 72.80 424.25 73.05 423.96 73.30 423.45 73.55 423.96 73.80 423.90 74.05 424.00 74.30 423.86 74.55 424.25 74.80 424.44 75.05 423.91 75.30 423.55 75.55 424.01 75.80 424.47 76.05 424.26 76.30 424.23 76.55 423.60 76.80 423.71 77.05 424.11 77.30 424.13 77.55 424.01 77.80 424.16 78.05 424.28 78.30 424.06 78.55 423.73 78.80 423.42 79.05 423.86 79.30 423.83 79.55 423.82 79.80 424.22 80.05 423.73 80.30 423.72 80.55 424.01 80.80 423.55 81.05 423.00 81.30 423.35 81.55 423.84 81.80 423.42 82.05 423.29 82.30 422.35 82.55 421.49 82.80 416.12 83.00 413.43 83.05 413.86 83.30 419.35 83.55 422.36 83.80 422.95 84.05 422.84 84.30 423.23 84.55 423.06 84.80 423.22 85.05 423.48 85.30 423.92 85.55 423.27 85.80 423.89 86.05 422.96 86.30 423.97 86.55 423.36 86.80 423.28 87.05 423.20 87.30 423.38 87.55 423.30 87.80 423.15 88.05 422.96 88.30 422.92 88.55 423.06 88.80 422.85 89.05 422.70 89.30 422.35 89.55 422.68 89.80 422.85 90.05 422.33 90.30 422.78 90.55 422.49 90.80 422.39 91.05 421.72 91.30 422.25 91.55 422.54 91.80 422.80 92.00 422.03 92.05 422.01 92.30 422.25 92.55 422.24 92.80 421.87 93.05 422.01 93.30 422.34 93.55 422.26 93.80 421.99 94.05 422.17 94.30 421.13 94.55 420.75 94.80 418.26 95.05 413.54 95.30 407.55 95.50 405.35 95.55 405.21 95.80 409.93 96.05 416.43 96.30 419.85 96.55 420.21 96.80 420.71 97.05 420.46 97.30 419.93 97.50 419.49 97.55 420.15 97.80 420.75 98.05 422.00 98.30 422.00 98.55 422.32 98.80 422.23 99.05 422.83 99.30 423.07 99.55 423.23 99.80 422.97 100.05 422.22 100.30 422.26 100.55 420.72 100.80 416.55 101.05 401.52 101.30 385.85 101.55 401.60 101.80 416.51 102.05 420.99 102.30 422.37 102.55 422.70 102.80 422.92 103.05 422.61 103.30 422.74 103.55 423.35 103.80 423.16 104.05 422.90 104.30 422.94 104.55 423.51 104.80 423.78 105.05 423.44 105.30 422.96 105.55 423.64 105.80 423.08 106.05 423.17 106.30 423.30 106.55 423.19 106.80 423.11 107.05 423.66 107.30 423.38 107.55 422.75 107.80 422.86 108.05 423.49 108.30 423.17 108.55 422.82 108.80 423.34 109.05 423.33 109.30 423.19 109.55 423.31 109.80 423.04 110.05 423.14 110.30 423.29 110.55 422.96 110.80 423.45 111.05 422.83 111.30 423.67 111.55 423.23 111.80 423.21 112.05 422.70 112.30 423.20 112.55 422.80 112.80 423.12 113.05 423.04 113.30 422.75 113.55 423.49 113.80 423.16 114.05 422.85 114.30 422.82 114.55 423.02 114.80 422.98 115.05 423.22 115.30 422.82 115.55 422.96 115.80 422.76 116.05 422.64 116.30 423.08 116.55 422.67 116.80 422.30 117.05 422.93 117.30 422.70 117.55 422.98 117.80 423.03 118.05 423.03 118.30 422.89 118.55 423.31 118.80 422.58 119.05 423.10 119.30 422.80 119.55 422.86 119.80 422.63 120.05 422.98 120.30 422.94 120.55 422.62 120.80 422.69 121.05 422.84 121.30 422.67 121.55 423.45 121.80 423.03 122.05 422.61 122.30 422.94 122.55 422.78 122.80 422.48 123.05 422.45 123.30 422.04 123.55 422.67 123.80 423.06 124.05 422.64 124.30 422.30 124.55 421.91 124.80 421.97 125.05 422.35 125.30 422.24 125.55 422.35 125.80 422.16 126.05 422.31 126.30 422.32 126.55 422.44 126.80 422.43 127.05 422.45 127.30 422.12 127.55 422.20 127.80 421.91 128.05 422.05 128.30 422.22 128.55 422.40 128.80 421.87 129.05 421.85 129.30 421.96 129.55 421.76 129.80 421.99 130.05 422.06 130.30 421.90 130.55 422.59 130.80 422.09 131.05 422.17 131.30 421.53 131.55 422.17 131.80 422.15 132.05 422.09 132.30 421.31 132.55 421.74 132.80 421.63 133.05 421.90 133.30 421.78 133.55 421.54 133.80 421.42 134.05 421.81 134.30 421.70 134.55 420.51 134.80 420.10 135.05 418.77 135.30 410.78 135.55 390.71 135.70 382.76 135.80 387.13 136.05 408.05 136.30 417.80 136.55 420.48 136.80 421.02 137.05 421.64 137.30 421.22 137.55 420.84 137.80 421.52 138.05 421.47 138.30 420.91 138.55 420.12 138.80 421.17 139.05 421.42 139.30 421.20 139.55 421.25 139.80 421.43 140.05 421.00 140.30 421.71 140.55 421.07 140.80 421.32 141.05 421.36 141.30 421.20 141.55 421.06 141.80 421.53 142.05 420.85 142.30 421.17 142.55 421.75 142.80 421.12 143.05 420.71 143.30 420.92 143.55 420.18 143.80 420.67 144.05 420.64 144.30 420.73 144.55 420.71 144.80 421.16 145.05 421.08 145.30 420.70 145.55 421.32 145.80 420.74 146.05 421.35 146.30 420.87 146.55 420.59 146.80 420.65 147.05 421.24 147.30 420.96 147.55 420.82 147.80 420.24 148.05 420.60 148.30 420.58 148.55 420.53 148.80 420.37 149.05 420.05 149.30 420.86 149.55 420.33 149.80 420.67 150.05 420.73 150.30 420.59 150.55 420.52 150.80 420.65 151.05 420.34 151.30 420.32 151.55 420.43 151.80 420.39 152.05 420.19 152.30 419.36 152.55 419.98 152.80 419.72 153.05 420.40 153.30 420.57 153.55 420.27 153.80 420.17 154.05 419.39 154.30 419.76 154.55 419.63 154.80 420.41 155.05 419.57 155.30 420.47 155.55 419.89 155.80 419.13 156.05 420.13 156.30 419.71 156.55 419.76 156.80 419.98 157.05 419.15 157.30 419.26 157.55 419.46 157.80 419.84 158.05 419.44 158.30 419.55 158.55 418.80 158.80 419.31 159.05 418.94 159.30 418.99 159.55 419.12 159.80 419.37 160.05 418.89 160.30 419.09 160.55 418.87 160.80 419.08 161.05 418.74 161.30 419.22 161.55 418.52 161.80 418.30 162.05 418.95 162.30 418.43 162.55 418.70 162.80 418.73 163.05 417.94 163.30 418.14 163.55 418.09 163.80 418.14 164.05 417.67 164.30 418.04 164.55 418.09 164.80 417.63 165.05 417.82 165.30 417.88 165.55 417.23 165.80 417.53 166.05 417.86 166.30 417.84 166.55 417.18 166.80 417.06 167.05 417.22 167.30 417.32 167.55 417.41 167.80 417.13 168.05 417.21 168.30 416.70 168.55 417.29 168.80 416.71 169.05 416.24 169.30 416.16 169.55 415.66 169.80 415.78 170.05 415.85 170.30 416.03 170.55 416.17 170.80 415.47 171.05 415.22 171.30 415.49 171.55 415.55 171.80 415.34 172.05 414.99 172.30 414.31 172.55 414.18 172.80 413.65 173.05 413.61 173.30 414.01 173.55 413.98 173.80 413.09 174.05 412.69 174.30 411.69 174.55 407.86 174.80 403.36 174.90 402.80 175.05 403.39 175.30 407.79 175.55 409.64 175.80 409.52 176.05 407.70 176.30 402.98 176.55 397.50 176.60 396.82 176.80 399.98 177.00 404.19 177.05 405.28 177.30 407.58 177.55 408.29 177.80 407.76 178.05 407.93 178.30 407.48 178.55 407.10 178.80 404.51 179.05 399.98 179.30 396.89 179.55 398.86 179.80 403.04 180.05 404.22 180.30 404.01 180.55 403.67 180.80 402.94 181.05 401.95 181.30 401.53 181.55 400.12 181.80 399.18 182.05 397.80 182.30 396.05 182.55 394.16 182.80 392.15 183.05 389.11 183.30 385.75 183.55 380.35 183.80 372.08 184.05 360.50 184.30 340.98 184.55 313.64 184.80 288.50 193.80 288.50 194.05 307.98 194.30 331.76 194.55 344.81 194.80 353.38 195.05 358.46 195.30 361.02 195.55 363.23 195.80 365.04 196.05 366.02 196.30 366.78 196.40 366.54 196.55 366.94 196.80 368.03 197.05 369.56 197.30 370.10 197.40 370.89 197.55 371.90 197.80 373.25 198.05 374.52 198.30 375.89 198.50 377.63 198.55 377.75 198.80 379.70 199.05 381.28 199.30 383.02 199.55 384.79 199.80 386.33 200.05 388.52 200.30 389.43 200.55 391.22 200.80 392.29 201.05 393.63 201.20 393.59 201.30 394.32 201.55 395.21 201.80 396.31 202.05 396.82 202.30 397.00 202.55 397.10 202.80 397.29 203.05 397.72 203.20 397.94 203.30 397.78 203.50 397.95 203.55 397.13 203.80 397.70 204.05 398.16 204.30 397.65 204.55 397.27 204.80 397.77 205.05 396.82 205.30 397.49 205.55 396.81 205.80 397.04 206.05 396.38 206.30 396.80 206.55 396.11 206.80 395.32 207.05 394.83 207.30 394.64 207.55 394.12 207.80 393.08 208.05 392.26 208.30 392.30 208.55 391.71 208.80 391.33 209.05 392.18 209.30 391.56 209.55 392.40 209.80 393.46 210.05 393.77 210.30 394.16 210.55 394.71 210.80 394.32 211.05 394.39 211.30 393.99 211.55 393.49 211.80 391.98 212.05 389.48 212.30 385.72 212.55 378.14 212.80 361.89 213.00 340.60 213.05 333.04 213.10 325.10 213.20 310.43 213.30 296.77 213.40 291.59 213.50 296.93 213.55 302.60 213.60 309.50 213.70 322.69 213.80 325.48 213.90 309.22 214.00 288.50 221.05 288.50 221.30 300.01 221.55 335.29 221.80 352.32 222.00 358.88 222.05 360.16 222.30 364.56 222.55 366.19 222.80 368.29 223.05 369.41 223.30 370.49 223.55 371.51 223.80 372.04 224.05 372.78 224.30 374.71 224.40 375.03 224.55 375.90 224.80 377.44 225.05 378.21 225.30 379.93 225.55 381.54 225.80 382.85 226.05 384.43 226.30 386.32 226.55 388.13 226.80 390.06 227.05 391.61 227.30 393.31 227.55 394.25 227.70 395.20 227.80 395.69 228.05 396.96 228.30 398.17 228.55 399.95 228.80 401.28 229.05 401.94 229.30 401.95 229.55 403.06 229.80 404.00 230.05 405.50 230.30 406.10 230.55 406.16 230.80 406.72 231.05 406.88 231.30 406.85 231.55 406.80 231.80 406.38 232.05 405.99 232.30 405.77 232.55 404.88 232.70 404.78 232.80 404.29 233.05 402.95 233.30 401.81 233.55 399.67 233.80 397.35 234.05 394.10 234.30 390.53 234.55 384.98 234.80 376.29 235.05 358.70 235.30 311.92 235.55 288.50 238.55 288.50 238.80 337.58 239.05 368.65 239.30 381.43 239.55 389.06 239.80 394.47 240.05 398.06 240.30 401.07 240.55 403.27 240.80 405.67 241.05 407.05 241.30 408.38 241.55 409.05 241.80 410.59 242.05 411.38 242.30 411.70 242.55 412.14 242.80 412.95 243.05 412.94 243.30 413.62 243.55 413.74 243.80 413.88 244.05 414.73 244.30 414.41 244.55 414.20 244.80 415.25 245.05 414.92 245.30 415.41 245.55 415.23 245.80 414.90 246.05 414.62 246.30 414.98 246.55 415.20 246.80 414.94 247.05 414.93 247.30 414.77 247.55 414.89 247.80 414.96 248.00 414.82 248.05 414.23 248.30 414.39 248.55 414.48 248.80 414.40 249.05 413.85 249.30 413.99 249.55 413.59 249.80 413.28 250.05 413.63 250.30 413.05 250.55 413.23 250.80 412.89 251.05 411.40 251.30 411.10 251.55 409.74 251.80 409.14 252.05 408.00 252.30 406.33 252.55 403.96 252.80 400.02 253.05 396.12 253.30 389.81 253.55 381.61 253.80 365.26 254.05 311.71 254.30 288.50 256.30 288.50 256.55 311.06 256.80 364.99 257.05 381.70 257.30 390.06 257.55 395.86 257.80 400.04 258.05 403.02 258.30 405.75 258.55 407.87 258.80 408.46 259.05 410.30 259.30 410.86 259.55 411.70 259.80 412.01 260.05 412.72 260.30 413.32 260.50 413.60 260.55 414.55 260.80 414.13 261.05 414.23 261.30 414.36 261.55 414.73 261.80 414.97 262.05 415.07 262.30 414.87 262.55 414.87 262.80 414.03 263.05 414.49 263.30 414.15 263.55 414.29 263.80 413.86 264.05 413.84 264.30 413.23 264.55 412.93 264.80 411.47 265.05 411.31 265.30 409.50 265.55 408.48 265.80 404.92 266.05 400.61 266.30 393.17 266.55 386.70 266.60 386.58 266.80 387.98 267.05 393.38 267.30 396.28 267.55 395.90 267.80 394.72 268.05 391.31 268.30 386.98 268.55 380.03 268.80 372.02 269.05 357.30 269.30 329.32 269.55 288.50 272.30 288.50 272.55 338.50 272.80 362.17 273.05 375.18 273.30 383.99 273.55 390.82 273.80 394.84 274.05 399.25 274.30 401.40 274.55 403.46 274.80 402.84 275.05 399.00 275.20 398.17 275.30 399.20 275.55 406.03 275.80 411.18 276.05 412.80 276.30 413.39 276.55 415.20 276.80 415.56 277.00 415.88 277.05 415.94 277.30 416.26 277.55 416.92 277.80 417.19 278.05 417.82 278.30 417.32 278.55 417.84 278.80 418.46 279.05 418.05 279.30 418.65 279.55 418.43 279.80 419.02 280.05 419.35 280.30 419.30 280.55 419.16 280.80 418.96 281.05 419.00 281.30 419.35 281.55 419.41 281.80 419.18 282.05 419.52 282.30 419.25 282.55 419.98 282.80 420.07 283.05 419.89 283.30 420.23 283.55 419.93 283.80 420.42 284.05 420.17 284.30 419.70 284.55 419.41 284.80 420.57 285.05 419.79 285.30 420.12 285.55 420.54 285.80 420.30 286.05 420.08 286.30 420.27 286.55 420.47 286.80 420.53 287.05 420.68 287.30 420.23 287.55 420.84 287.80 420.75 288.05 420.90 288.30 421.00 288.55 420.92 288.80 420.38 289.05 420.41 289.30 420.42 289.55 420.36 289.80 420.49 290.05 420.18 290.30 420.67 290.55 420.79 290.80 421.17 291.05 420.80 291.30 421.41 291.55 421.01 291.80 420.85 292.05 420.94 292.30 421.40 292.55 421.39 292.80 421.19 293.05 421.05 293.30 420.88 293.55 420.57 293.80 420.86 294.05 420.89 294.30 421.53 294.55 421.04 294.80 421.48 295.05 421.22 295.30 421.02 295.55 421.29 295.80 420.47 296.05 420.36 296.30 421.51 296.55 421.35 296.80 421.32 297.05 421.14 297.30 421.20 297.55 421.15 297.80 421.14 298.05 421.24 298.30 421.29 298.55 421.40 298.80 420.94 299.05 421.02 299.30 421.70 299.55 421.24 299.80 421.35 300.05 421.32 300.30 421.16 300.55 421.81 300.80 421.59 301.05 420.77 301.30 421.49 301.55 420.94 301.80 420.63 302.05 420.90 302.30 421.46 302.55 420.81 302.80 421.46 303.05 421.07 303.30 421.63 303.55 421.63 303.80 421.16 304.05 420.54 304.30 421.12 304.55 420.60 304.80 421.39 305.05 421.20 305.30 421.68 305.55 421.24 305.80 421.00 306.05 421.41 306.30 421.04 306.55 421.29 306.80 421.30 307.05 421.11 307.30 420.88 307.55 421.43 307.80 421.90 308.05 421.41 308.30 421.09 308.55 421.20 308.80 420.95 309.05 420.66 309.30 421.52 309.55 421.46 309.80 421.29 310.05 421.91 310.30 421.51 310.55 421.41 310.80 421.67 311.05 421.27 311.30 421.47 311.55 421.53 311.80 421.66 312.05 421.58 312.30 421.89 312.55 421.78 312.80 421.73 313.05 421.76 313.30 421.31 313.55 421.11 313.80 421.25 314.05 421.72 314.30 421.09 314.55 421.45 314.80 421.20 315.05 421.22 315.30 421.12 315.55 420.78 315.80 421.71 316.05 421.41 316.30 421.43 316.55 421.45 316.80 420.56 317.05 421.63 317.30 421.99 317.55 421.55 317.80 421.54 318.05 421.67 318.30 421.69 318.55 421.79 318.80 421.74 319.05 421.45 319.30 421.61 319.55 421.12 319.80 421.33 320.05 421.77 320.30 421.96 320.55 421.73 320.80 421.75 321.05 421.37 321.30 421.69 321.55 421.46 321.80 421.16 322.05 421.77 322.30 421.55 322.55 421.56 322.80 421.11 323.05 421.37 323.30 421.54 323.55 421.64 323.80 421.66"/>
<path d="M11.30 468.99 11.55 468.11 11.80 468.34 12.05 468.21 12.30 467.98 12.55 468.02 12.80 468.04 13.05 468.18 13.30 468.37 13.55 468.61 13.80 468.41 14.05 468.64 14.30 468.48 14.55 468.33 14.80 468.18 15.05 467.90 15.30 467.64 15.55 468.05 15.80 468.12 16.05 468.29 16.30 468.33 16.55 467.83 16.80 467.88 17.05 467.76 17.30 468.40 17.55 468.20 17.80 468.23 18.05 467.90 18.30 467.70 18.55 467.87 18.80 468.06 19.05 468.28 19.30 467.70 19.55 468.14 19.80 467.86 20.05 467.89 20.30 467.94 20.55 467.90 20.80 468.14 21.05 468.30 21.30 468.12 21.55 467.74 21.80 467.89 22.05 467.84 22.30 467.90 22.55 467.65 22.80 466.92 23.05 466.94 23.30 467.00 23.55 467.39 23.80 467.13 24.00 467.39 24.05 467.26 24.30 466.78 24.55 467.09 24.80 467.38 25.05 467.47 25.30 466.97 25.55 467.52 25.80 467.41 26.05 466.97 26.30 467.40 26.55 467.12 26.80 467.31 27.05 468.24 27.30 468.82 27.55 468.54 27.80 468.28 28.05 468.69 28.30 468.30 28.55 467.79 28.80 467.19 29.05 468.11 29.30 467.33 29.55 466.95 29.80 467.55 30.05 467.92 30.30 467.72 30.55 468.27 30.80 468.04 31.05 468.08 31.30 468.16 31.55 467.85 31.80 468.03 32.05 468.74 32.30 467.88 32.55 468.01 32.80 468.16 33.05 467.85 33.30 467.93 33.55 467.42 33.80 467.69 34.05 467.91 34.30 468.30 34.55 468.35 34.80 467.87 35.05 467.58 35.30 468.44 35.55 468.35 35.80 467.44 36.05 467.71 36.30 467.59 36.55 467.65 36.80 467.31 37.05 467.64 37.30 467.69 37.55 467.78 37.80 468.21 38.05 468.06 38.30 467.56 38.55 467.26 38.80 467.57 39.05 468.18 39.30 468.27 39.55 467.80 39.80 468.24 40.05 468.11 40.30 467.74 40.55 467.98 40.80 467.88 41.05 467.52 41.30 467.64 41.55 467.86 41.80 468.28 42.05 467.63 42.30 467.87 42.55 467.86 42.80 467.83 43.05 467.45 43.30 468.14 43.55 468.33 43.80 468.47 44.05 468.14 44.30 468.38 44.55 468.13 44.80 468.21 45.05 467.81 45.30 467.88 45.55 467.72 45.80 467.44 46.05 467.57 46.30 467.38 46.55 467.33 46.80 467.55 47.05 467.53 47.30 468.38 47.55 468.49 47.80 468.30 48.05 468.15 48.30 467.58 48.55 467.80 48.80 467.30 49.05 467.43 49.30 467.51 49.55 467.56 49.80 467.97 50.05 467.54 50.30 468.45 50.55 467.74 50.80 468.00 51.05 467.28 51.30 467.89 51.55 467.36 51.80 467.68 52.05 467.69 52.30 467.95 52.55 467.95 52.80 467.87 53.05 467.68 53.30 468.30 53.55 467.68 53.80 467.67 54.05 467.51 54.30 467.66 54.55 467.34 54.80 467.43 55.05 467.74 55.30 467.47 55.55 467.73 55.80 467.45 56.05 468.03 56.30 467.66 56.55 468.18 56.80 467.89 57.05 467.62 57.30 467.89 57.55 468.02 57.80 468.16 58.05 468.15 58.30 467.98 58.55 467.26 58.80 467.75 59.05 467.54 59.30 467.64 59.55 467.93 59.80 467.35 60.05 467.86 60.30 468.32 60.55 467.82 60.80 467.41 61.05 467.83 61.30 467.53 61.55 467.72 61.80 467.80 62.05 466.90 62.30 467.24 62.55 466.68 62.80 466.76 63.05 467.13 63.30 466.56 63.55 466.47 63.80 466.39 64.05 466.41 64.30 466.15 64.55 465.68 64.80 464.57 65.05 463.08 65.30 461.15 65.55 457.25 65.80 453.59 65.90 453.61 66.05 454.21 66.30 457.96 66.55 461.89 66.80 463.70 67.05 464.13 67.30 465.15 67.55 466.56 67.80 467.39 68.05 466.73 68.30 466.99 68.55 467.14 68.80 467.10 69.05 466.45 69.30 467.23 69.55 467.22 69.80 467.07 70.05 466.61 70.30 466.82 70.55 467.05 70.80 467.08 71.05 467.24 71.30 467.09 71.55 467.51 71.80 467.49 72.05 466.92 72.30 466.95 72.55 467.29 72.80 467.06 73.05 467.63 73.30 467.15 73.55 467.28 73.80 467.43 74.05 466.91 74.30 467.54 74.55 467.22 74.80 466.98 75.05 466.92 75.30 466.58 75.55 466.60 75.80 467.52 76.05 467.22 76.30 467.10 76.55 467.21 76.80 467.36 77.05 466.95 77.30 467.03 77.55 467.20 77.80 467.47 78.05 467.29 78.30 467.69 78.55 467.18 78.80 467.01 79.05 466.62 79.30 466.94 79.55 467.23 79.80 467.01 80.05 466.96 80.30 466.67 80.55 466.71 80.80 466.74 81.05 466.83 81.30 467.18 81.55 467.02 81.80 467.01 82.05 466.90 82.30 465.81 82.55 463.85 82.80 457.07 83.00 452.57 83.05 452.99 83.30 459.84 83.55 464.22 83.80 466.69 84.05 466.56 84.30 466.87 84.55 466.33 84.80 466.63 85.05 466.77 85.30 466.47 85.55 466.72 85.80 466.69 86.05 466.79 86.30 466.29 86.55 466.70 86.80 466.53 87.05 466.28 87.30 465.76 87.55 466.24 87.80 466.27 88.05 467.12 88.30 466.14 88.55 466.72 88.80 466.73 89.05 466.42 89.30 466.23 89.55 466.20 89.80 465.49 90.05 466.17 90.30 465.72 90.55 465.40 90.80 465.48 91.05 464.56 91.30 464.73 91.55 464.78 91.80 464.63 92.00 465.27 92.05 465.76 92.30 465.36 92.55 465.15 92.80 465.31 93.05 465.10 93.30 465.24 93.55 465.35 93.80 465.13 94.05 464.92 94.30 464.77 94.55 464.03 94.80 462.12 95.05 456.98 95.30 450.93 95.50 448.66 95.55 449.19 95.80 453.35 96.05 459.75 96.30 463.39 96.55 464.04 96.80 464.70 97.05 463.49 97.30 463.39 97.50 462.84 97.55 463.64 97.80 464.32 98.05 464.94 98.30 465.07 98.55 465.10 98.80 465.70 99.05 465.60 99.30 465.96 99.55 465.28 99.80 465.66 100.05 465.58 100.30 464.30 100.55 463.36 100.80 459.11 101.05 442.85 101.30 424.77 101.55 443.00 101.80 459.13 102.05 463.88 102.30 464.46 102.55 465.01 102.80 465.90 103.05 465.44 103.30 465.93 103.55 466.58 103.80 466.57 104.05 465.91 104.30 466.89 104.55 466.27 104.80 466.60 105.05 466.69 105.30 466.32 105.55 466.53 105.80 465.50 106.05 466.16 106.30 466.34 106.55 466.23 106.80 466.35 107.05 466.68 107.30 466.72 107.55 466.23 107.80 466.55 108.05 466.75 108.30 466.46 108.55 466.47 108.80 465.56 109.05 465.61 109.30 466.24 109.55 465.80 109.80 466.43 110.05 466.69 110.30 466.06 110.55 465.84 110.80 466.09 111.05 466.28 111.30 466.51 111.55 466.23 111.80 466.23 112.05 465.90 112.30 466.22 112.55 465.96 112.80 466.45 113.05 466.47 113.30 465.72 113.55 466.16 113.80 465.80 114.05 466.37 114.30 465.86 114.55 466.46 114.80 466.55 115.05 466.84 115.30 466.39 115.55 466.18 115.80 466.49 116.05 465.78 116.30 465.98 116.55 465.93 116.80 465.99 117.05 465.51 117.30 465.35 117.55 465.30 117.80 466.29 118.05 465.95 118.30 466.17 118.55 465.98 118.80 465.88 119.05 466.34 119.30 465.29 119.55 465.69 119.80 465.60 120.05 465.53 120.30 465.28 120.55 465.23 120.80 465.32 121.05 466.07 121.30 465.68 121.55 465.64 121.80 465.72 122.05 465.98 122.30 466.17 122.55 465.94 122.80 465.81 123.05 465.93 123.30 465.53 123.55 465.75 123.80 466.26 124.05 465.63 124.30 465.40 124.55 465.12 124.80 465.54 125.05 465.82 125.30 465.55 125.55 465.50 125.80 465.96 126.05 465.69 126.30 465.83 126.55 465.51 126.80 465.96 127.05 465.93 127.30 465.58 127.55 465.33 127.80 466.26 128.05 465.33 128.30 465.12 128.55 464.57 128.80 465.43 129.05 465.43 129.30 465.38 129.55 464.89 129.80 465.24 130.05 465.06 130.30 464.88 130.55 465.12 130.80 465.34 131.05 465.23 131.30 465.07 131.55 465.41 131.80 465.31 132.05 465.07 132.30 465.29 132.55 465.23 132.80 465.37 133.05 465.34 133.30 465.26 133.55 464.76 133.80 465.16 134.05 465.04 134.30 464.35 134.55 464.47 134.80 463.60 135.05 461.43 135.30 453.68 135.55 432.57 135.70 425.26 135.80 428.56 136.05 450.88 136.30 460.65 136.55 463.06 136.80 464.22 137.05 464.38 137.30 463.89 137.55 464.31 137.80 463.92 138.05 464.64 138.30 464.30 138.55 464.52 138.80 464.56 139.05 464.13 139.30 464.61 139.55 465.18 139.80 464.46 140.05 464.38 140.30 464.65 140.55 464.97 140.80 464.37 141.05 464.55 141.30 464.63 141.55 464.86 141.80 464.31 142.05 465.20 142.30 465.27 142.55 464.19 142.80 464.09 143.05 464.41 143.30 464.16 143.55 464.12 143.80 464.25 144.05 464.04 144.30 464.00 144.55 464.24 144.80 464.09 145.05 464.27 145.30 464.51 145.55 464.58 145.80 464.25 146.05 464.77 146.30 464.10 146.55 464.32 146.80 464.65 147.05 464.20 147.30 464.26 147.55 463.85 147.80 463.69 148.05 463.88 148.30 463.99 148.55 463.96 148.80 464.02 149.05 463.91 149.30 463.73 149.55 463.49 149.80 463.57 150.05 463.61 150.30 463.58 150.55 463.21 150.80 463.83 151.05 463.91 151.30 463.63 151.55 463.31 151.80 463.70 152.05 463.36 152.30 463.24 152.55 463.44 152.80 463.11 153.05 463.21 153.30 463.01 153.55 463.28 153.80 463.26 154.05 463.31 154.30 463.21 154.55 463.12 154.80 463.08 155.05 463.17 155.30 462.61 155.55 462.37 155.80 462.67 156.05 462.73 156.30 462.59 156.55 463.06 156.80 462.82 157.05 462.97 157.30 462.61 157.55 462.03 157.80 461.84 158.05 462.52 158.30 462.33 158.55 462.07 158.80 462.52 159.05 462.73 159.30 462.32 159.55 462.45 159.80 461.94 160.05 461.57 160.30 461.21 160.55 461.93 160.80 461.24 161.05 461.37 161.30 461.50 161.55 461.64 161.80 460.85 162.05 461.11 162.30 460.94 162.55 461.54 162.80 461.12 163.05 460.81 163.30 461.40 163.55 461.00 163.80 461.03 164.05 460.82 164.30 460.55 164.55 460.69 164.80 460.19 165.05 459.78 165.30 459.82 165.55 460.15 165.80 459.82 166.05 460.10 166.30 459.97 166.55 459.68 166.80 459.78 167.05 459.47 167.30 459.26 167.55 458.91 167.80 458.75 168.05 458.59 168.30 458.77 168.55 458.83 168.80 458.55 169.05 458.06 169.30 457.66 169.55 457.50 169.80 457.02 170.05 456.88 170.30 456.54 170.55 456.33 170.80 455.32 171.05 455.56 171.30 455.56 171.55 454.74 171.80 455.12 172.05 454.39 172.30 453.65 172.55 453.71 172.80 452.61 173.05 453.04 173.30 451.63 173.55 451.28 173.80 450.76 174.05 449.62 174.30 447.62 174.55 443.47 174.80 438.48 174.90 437.68 175.05 438.84 175.30 441.59 175.55 444.02 175.80 443.30 176.05 441.05 176.30 435.75 176.55 429.72 176.60 429.76 176.80 431.98 177.00 437.27 177.05 437.90 177.30 440.86 177.55 441.73 177.80 441.51 178.05 442.00 178.30 442.57 178.55 441.52 178.80 439.90 179.05 437.38 179.30 435.07 179.55 436.45 179.80 439.81 180.05 440.99 180.30 441.44 180.55 441.24 180.80 440.60 181.05 440.21 181.30 440.08 181.55 438.79 181.80 438.06 182.05 437.06 182.30 435.99 182.55 433.88 182.80 431.43 183.05 427.96 183.30 424.00 183.55 418.30 183.80 408.90 184.05 394.58 184.30 370.89 184.55 334.70 184.80 288.50 193.55 288.50 193.80 331.52 194.05 363.19 194.30 383.20 194.55 394.77 194.80 401.78 195.05 406.90 195.30 409.63 195.55 411.03 195.80 413.03 196.05 414.42 196.30 415.18 196.40 415.82 196.55 416.70 196.80 417.82 197.05 418.84 197.30 420.13 197.40 420.94 197.55 421.42 197.80 422.68 198.05 424.22 198.30 426.95 198.50 427.27 198.55 427.68 198.80 428.84 199.05 430.98 199.30 432.72 199.55 434.38 199.80 436.18 200.05 437.88 200.10 437.83 200.30 438.44 200.55 439.58 200.80 440.73 201.05 441.38 201.30 442.23 201.55 443.02 201.80 443.40 202.00 444.21 202.05 443.26 202.30 443.77 202.55 444.26 202.80 443.73 203.05 443.38 203.30 444.42 203.50 444.27 203.55 444.10 203.80 444.15 204.05 443.38 204.30 443.03 204.55 443.65 204.80 443.21 205.05 442.38 205.30 442.42 205.55 442.69 205.80 441.59 206.05 440.71 206.30 439.71 206.55 439.48 206.80 438.66 207.05 437.40 207.30 436.14 207.55 434.88 207.80 433.43 208.05 432.08 208.30 431.32 208.55 430.04 208.80 429.22 209.05 427.79 209.30 427.39 209.55 427.68 209.80 427.36 210.05 427.49 210.30 426.70 210.40 427.15 210.55 426.84 210.80 426.82 211.05 426.43 211.30 426.01 211.55 425.54 211.80 425.30 212.00 425.24 212.05 424.55 212.30 423.76 212.55 422.63 212.80 421.28 213.05 419.79 213.30 416.38 213.55 410.25 213.80 398.15 214.05 369.45 214.30 307.25 214.55 288.50 221.30 288.50 221.55 310.29 221.80 363.81 221.90 375.03 222.00 383.40 222.05 386.88 222.10 389.87 222.20 393.65 222.30 396.48 222.40 398.32 222.50 399.70 222.55 400.19 222.60 400.77 222.70 401.17 222.80 401.98 222.90 402.75 223.00 402.83 223.05 402.81 223.10 403.16 223.20 402.90 223.30 403.14 223.40 404.07 223.55 403.99 223.60 403.97 223.80 403.93 224.05 404.06 224.30 404.39 224.55 405.40 224.80 406.76 225.05 407.56 225.30 409.06 225.55 410.26 225.80 411.98 226.00 413.54 226.05 414.74 226.30 416.05 226.55 417.65 226.80 420.27 227.05 422.32 227.30 424.70 227.55 426.59 227.80 429.22 228.05 431.00 228.30 433.34 228.55 435.16 228.80 436.92 229.05 439.08 229.30 440.79 229.55 441.58 229.80 443.64 230.05 445.10 230.30 446.07 230.55 447.06 230.80 447.86 231.05 448.54 231.30 448.85 231.55 449.59 231.80 449.92 232.05 449.31 232.30 449.24 232.55 448.53 232.70 448.23 232.80 448.38 233.05 447.22 233.30 445.90 233.55 443.95 233.80 442.43 234.05 439.22 234.30 434.93 234.55 429.29 234.80 421.14 235.05 403.49 235.30 356.15 235.55 288.50 238.30 288.50 238.55 292.24 238.80 381.36 239.05 412.28 239.30 425.16 239.55 432.42 239.80 438.12 240.05 441.72 240.30 444.24 240.55 446.96 240.80 449.26 241.05 450.41 241.30 451.91 241.55 453.18 241.80 453.42 242.05 454.54 242.30 455.23 242.55 456.13 242.80 456.89 243.05 456.85 243.30 456.81 243.55 457.36 243.80 457.87 244.05 457.99 244.30 458.46 244.55 458.28 244.80 458.88 245.05 459.20 245.30 459.75 245.55 459.30 245.80 459.59 246.05 459.18 246.30 459.11 246.55 459.07 246.80 459.27 247.05 458.95 247.30 458.70 247.55 459.84 247.80 459.30 248.05 459.20 248.30 459.16 248.50 458.90 248.55 458.90 248.80 459.19 249.05 458.87 249.30 458.91 249.55 458.03 249.80 458.12 250.05 457.47 250.30 456.90 250.55 457.03 250.80 456.49 251.05 455.99 251.30 455.23 251.55 453.49 251.80 452.89 252.05 451.99 252.30 449.75 252.55 447.52 252.80 444.58 253.05 440.54 253.30 433.45 253.55 425.14 253.80 408.73 254.05 355.47 254.30 288.50 256.30 288.50 256.55 356.39 256.80 410.04 257.05 426.44 257.30 436.16 257.55 441.71 257.80 446.31 258.05 449.46 258.30 452.00 258.55 454.02 258.80 455.58 259.00 456.46 259.05 456.45 259.30 457.53 259.55 457.49 259.80 458.18 260.05 459.38 260.30 459.63 260.55 459.25 260.80 459.29 261.05 459.38 261.30 459.66 261.55 460.09 261.80 459.88 262.05 459.99 262.30 459.28 262.55 459.34 262.80 459.28 263.05 459.17 263.30 459.02 263.55 458.56 263.80 458.38 264.05 458.12 264.30 457.44 264.55 456.27 264.80 455.52 265.05 454.49 265.30 453.88 265.55 451.92 265.80 448.76 266.05 443.72 266.30 436.17 266.55 429.76 266.60 428.93 266.80 430.75 267.05 436.08 267.30 439.39 267.55 438.99 267.80 437.66 268.05 435.02 268.30 430.60 268.55 424.09 268.80 414.63 269.05 400.90 269.30 374.01 269.55 296.84 269.80 288.50 272.05 288.50 272.30 320.55 272.55 381.48 272.80 405.16 273.05 418.24 273.30 426.99 273.55 433.76 273.80 438.48 274.05 442.26 274.30 444.89 274.55 447.02 274.80 446.75 275.05 442.21 275.20 440.93 275.30 442.81 275.55 449.78 275.80 454.02 276.05 455.96 276.30 457.50 276.55 457.80 276.80 458.43 277.00 458.99 277.05 458.89 277.30 459.35 277.55 460.26 277.80 459.85 278.05 460.65 278.30 461.20 278.55 461.61 278.80 461.58 279.05 461.80 279.30 461.67 279.55 461.41 279.80 462.05 280.05 462.30 280.30 462.53 280.55 462.95 280.80 463.51 281.05 463.11 281.30 463.45 281.55 463.14 281.80 463.17 282.05 462.84 282.30 463.19 282.55 463.07 282.80 463.34 283.05 462.97 283.30 463.68 283.55 463.11 283.80 463.61 284.05 463.01 284.30 463.52 284.55 463.76 284.80 464.03 285.05 464.35 285.30 463.62 285.55 463.80 285.80 463.84 286.05 463.97 286.30 464.38 286.55 463.96 286.80 463.74 287.05 463.84 287.30 464.35 287.55 463.99 287.80 463.60 288.05 463.94 288.30 464.54 288.55 464.84 288.80 464.24 289.05 464.11 289.30 464.53 289.55 464.73 289.80 464.48 290.05 464.46 290.30 464.69 290.55 464.05 290.80 464.81 291.05 464.26 291.30 463.86 291.55 464.76 291.80 464.62 292.05 464.82 292.30 464.17 292.55 464.58 292.80 464.69 293.05 464.70 293.30 464.70 293.55 464.64 293.80 464.64 294.05 464.30 294.30 465.20 294.55 464.66 294.80 464.30 295.05 464.70 295.30 464.64 295.55 464.48 295.80 465.66 296.05 465.10 296.30 464.30 296.55 464.50 296.80 464.59 297.05 464.71 297.30 464.97 297.55 464.99 297.80 465.44 298.05 464.85 298.30 464.75 298.55 465.16 298.80 465.30 299.05 464.89 299.30 464.71 299.55 465.19 299.80 465.16 300.05 465.32 300.30 465.35 300.55 465.18 300.80 465.04 301.05 465.00 301.30 464.95 301.55 464.55 301.80 465.01 302.05 465.22 302.30 465.24 302.55 464.82 302.80 464.86 303.05 465.29 303.30 465.39 303.55 464.80 303.80 464.48 304.05 464.93 304.30 464.52 304.55 465.46 304.80 465.07 305.05 465.23 305.30 464.48 305.55 464.92 305.80 465.05 306.05 464.55 306.30 465.47 306.55 465.14 306.80 465.19 307.05 464.98 307.30 465.09 307.55 465.26 307.80 465.21 308.05 465.21 308.30 464.59 308.55 464.92 308.80 464.63 309.05 465.03 309.30 464.82 309.55 464.44 309.80 465.40 310.05 465.06 310.30 464.95 310.55 465.04 310.80 465.00 311.05 465.25 311.30 465.62 311.55 465.08 311.80 465.28 312.05 465.34 312.30 464.75 312.55 465.21 312.80 465.40 313.05 465.12 313.30 464.99 313.55 464.76 313.80 465.32 314.05 464.94 314.30 465.10 314.55 464.68 314.80 464.90 315.05 464.53 315.30 464.69 315.55 465.23 315.80 464.77 316.05 464.68 316.30 464.75 316.55 464.86 316.80 464.67 317.05 465.03 317.30 464.89 317.55 465.25 317.80 465.26 318.05 465.21 318.30 465.22 318.55 465.26 318.80 464.57 319.05 465.60 319.30 464.67 319.55 465.43 319.80 464.93 320.05 464.40 320.30 464.48 320.55 464.32 320.80 464.98 321.05 464.97 321.30 465.91 321.55 465.35 321.80 464.94 322.05 465.48 322.30 466.13 322.55 465.12 322.80 464.86 323.05 465.03 323.30 464.70 323.55 464.77 323.80 465.53"/>
</g>
<line x1="11.25" y1="487.20" x2="323.75" y2="487.20" stroke="#111" stroke-width="1.3"/>
<path d="M21.75 487.20v1.90 M36.35 487.20v1.90 M50.95 487.20v1.90 M65.55 487.20v1.90 M80.15 487.20v1.90 M94.75 487.20v1.90 M109.35 487.20v1.90 M123.95 487.20v1.90 M138.55 487.20v1.90 M153.15 487.20v1.90 M167.75 487.20v1.90 M182.35 487.20v1.90 M196.95 487.20v1.90 M211.55 487.20v1.90 M226.15 487.20v1.90 M240.75 487.20v1.90 M255.35 487.20v1.90 M269.95 487.20v1.90 M284.55 487.20v1.90 M299.15 487.20v1.90 M313.75 487.20v1.90" stroke="#111" stroke-width="1.1"/>
<g font-family="DejaVu Sans, Verdana, sans-serif" font-weight="bold" font-size="7.90" fill="#222" text-anchor="middle"><text x="21.75" y="497.60">10.5</text><text x="50.95" y="497.60">9.5</text><text x="80.15" y="497.60">8.5</text><text x="109.35" y="497.60">7.5</text><text x="138.55" y="497.60">6.5</text><text x="167.75" y="497.60">5.5</text><text x="196.95" y="497.60">4.5</text><text x="226.15" y="497.60">3.5</text><text x="255.35" y="497.60">2.5</text><text x="284.55" y="497.60">1.5</text><text x="313.75" y="497.60">0.5</text></g>
<text x="167.80" y="507.20" font-family="DejaVu Sans, Verdana, sans-serif" font-weight="bold" font-size="7.90" fill="#222" text-anchor="middle">f1 (ppm)</text>
<g clip-path="url(#c3)" fill="none" stroke="#17824a" stroke-width="1.15" stroke-linejoin="round">
<path d="M420.50 341.43 420.75 341.55 421.00 342.10 421.25 341.87 421.50 341.78 421.75 341.93 422.00 341.36 422.25 341.86 422.50 342.06 422.75 341.73 423.00 342.67 423.25 341.86 423.50 341.70 423.75 341.77 424.00 342.00 424.25 342.24 424.50 341.20 424.75 341.10 425.00 341.95 425.25 341.61 425.50 341.49 425.75 341.55 426.00 342.16 426.25 341.82 426.50 341.40 426.75 341.06 427.00 341.02 427.25 341.25 427.50 341.06 427.75 340.92 428.00 341.68 428.25 341.82 428.50 341.39 428.75 342.04 429.00 341.80 429.25 341.36 429.50 341.60 429.75 341.52 430.00 341.12 430.25 341.67 430.50 340.79 430.75 341.23 431.00 340.85 431.25 341.17 431.50 340.99 431.75 341.13 432.00 340.05 432.25 340.34 432.50 340.83 432.75 340.47 433.00 341.23 433.25 341.09 433.50 341.15 433.75 340.77 434.00 340.13 434.25 340.85 434.50 341.03 434.75 341.38 435.00 341.12 435.25 340.80 435.50 340.97 435.75 340.72 436.00 340.89 436.25 341.26 436.50 341.41 436.75 341.64 437.00 341.25 437.25 341.63 437.50 341.45 437.75 340.98 438.00 341.00 438.25 341.29 438.50 341.16 438.75 341.12 439.00 341.47 439.25 340.98 439.50 341.19 439.75 341.05 440.00 340.80 440.25 341.18 440.50 341.71 440.75 341.36 441.00 341.16 441.25 341.76 441.50 341.68 441.75 341.64 442.00 341.83 442.25 341.55 442.50 341.39 442.75 341.68 443.00 341.53 443.25 340.94 443.50 341.57 443.75 341.47 444.00 341.96 444.25 341.51 444.50 340.74 444.75 341.19 445.00 341.22 445.25 341.88 445.50 341.86 445.75 341.93 446.00 341.36 446.25 341.39 446.50 341.84 446.75 341.11 447.00 341.38 447.25 341.70 447.50 341.20 447.75 341.28 448.00 340.50 448.25 341.46 448.50 340.91 448.75 341.53 449.00 341.35 449.25 340.72 449.50 340.58 449.75 340.62 450.00 340.88 450.25 341.44 450.50 341.14 450.75 341.24 451.00 340.68 451.25 341.11 451.50 341.00 451.75 341.06 452.00 341.18 452.25 341.56 452.50 341.45 452.75 341.38 453.00 341.22 453.25 341.03 453.50 341.28 453.75 341.32 454.00 341.13 454.25 341.14 454.50 340.99 454.75 340.73 455.00 341.07 455.25 340.57 455.50 340.93 455.75 340.70 456.00 340.87 456.25 341.46 456.50 341.34 456.75 341.35 457.00 341.03 457.25 340.67 457.50 341.21 457.75 341.38 458.00 340.98 458.25 340.92 458.50 340.93 458.75 340.89 459.00 341.19 459.25 341.38 459.50 341.02 459.75 341.54 460.00 340.94 460.25 341.15 460.50 341.32 460.75 340.55 461.00 340.93 461.25 340.83 461.50 340.95 461.75 341.13 462.00 341.02 462.25 340.64 462.50 341.53 462.75 341.53 463.00 341.20 463.25 341.07 463.50 341.27 463.75 340.83 464.00 341.18 464.25 340.66 464.50 341.10 464.75 341.24 465.00 341.00 465.25 340.87 465.50 340.94 465.75 340.60 466.00 340.53 466.25 340.76 466.50 340.92 466.75 340.50 467.00 340.64 467.25 340.80 467.50 340.77 467.75 340.58 468.00 340.69 468.25 340.71 468.50 341.07 468.75 341.07 469.00 340.68 469.25 341.07 469.50 340.62 469.75 340.30 470.00 340.16 470.25 340.33 470.50 340.99 470.75 340.67 471.00 339.72 471.25 339.92 471.50 339.70 471.75 339.45 472.00 339.91 472.25 339.74 472.50 338.86 472.75 338.53 473.00 337.82 473.25 336.56 473.50 334.79 473.75 331.15 474.00 325.07 474.25 318.55 474.40 316.25 474.50 317.18 474.75 323.75 475.00 329.81 475.25 333.40 475.50 335.62 475.75 336.98 476.00 338.20 476.25 338.54 476.50 339.23 476.75 339.38 477.00 339.84 477.25 339.72 477.50 339.40 477.75 340.28 478.00 340.19 478.25 340.29 478.50 340.57 478.75 340.90 479.00 340.59 479.25 340.71 479.50 340.82 479.75 340.89 480.00 340.22 480.25 340.06 480.50 340.00 480.75 339.93 481.00 340.00 481.25 340.23 481.50 340.32 481.75 341.17 482.00 341.03 482.25 340.97 482.50 340.91 482.75 341.08 483.00 340.25 483.25 340.48 483.50 340.43 483.75 340.90 484.00 340.71 484.25 340.77 484.50 340.73 484.75 340.56 485.00 341.11 485.25 340.90 485.50 340.09 485.75 340.89 486.00 340.16 486.25 340.89 486.50 341.63 486.75 340.49 487.00 340.90 487.25 340.64 487.50 340.29 487.75 340.81 488.00 340.32 488.25 340.31 488.50 340.12 488.75 340.32 489.00 340.18 489.25 340.09 489.50 340.74 489.75 340.73 490.00 340.12 490.25 340.13 490.50 340.13 490.75 339.83 491.00 339.44 491.25 337.53 491.50 336.13 491.75 337.39 492.00 339.37 492.25 339.94 492.50 339.95 492.75 340.61 493.00 340.41 493.25 339.35 493.50 340.11 493.75 339.83 494.00 339.79 494.25 339.91 494.50 339.98 494.75 339.83 495.00 339.74 495.25 340.07 495.50 340.15 495.75 340.26 496.00 339.99 496.25 339.58 496.50 339.99 496.75 339.88 497.00 339.64 497.25 339.68 497.50 339.64 497.75 339.16 498.00 339.38 498.25 339.59 498.50 339.33 498.75 339.15 499.00 339.23 499.25 338.86 499.50 338.88 499.75 338.90 500.00 338.92 500.25 338.56 500.50 338.88 500.75 338.30 501.00 338.80 501.25 338.44 501.50 338.75 501.75 339.05 502.00 339.07 502.25 338.45 502.50 337.87 502.75 337.54 503.00 335.80 503.25 333.22 503.50 324.88 503.75 314.11 504.00 306.72 504.25 313.52 504.50 325.11 504.75 332.04 505.00 335.23 505.25 335.42 505.50 336.08 505.75 334.62 506.00 334.34 506.25 335.28 506.50 336.25 506.75 337.31 507.00 338.39 507.25 338.74 507.50 338.79 507.75 339.17 508.00 339.05 508.25 339.47 508.50 339.60 508.75 339.19 509.00 339.77 509.25 339.64 509.50 339.51 509.75 339.82 510.00 339.25 510.25 339.52 510.50 339.19 510.75 338.77 511.00 337.28 511.25 328.03 511.50 310.24 511.60 307.23 511.75 313.69 512.00 330.86 512.25 337.56 512.50 338.25 512.75 338.93 513.00 339.04 513.25 339.58 513.50 339.29 513.75 339.68 514.00 339.90 514.25 339.91 514.50 340.29 514.75 340.22 515.00 339.93 515.25 339.75 515.50 340.00 515.75 340.65 516.00 340.07 516.25 339.88 516.50 339.23 516.75 339.99 517.00 339.86 517.25 339.60 517.50 340.04 517.75 339.51 518.00 340.36 518.25 339.85 518.50 340.20 518.75 340.15 519.00 339.88 519.25 339.26 519.50 339.82 519.75 339.30 520.00 339.77 520.25 340.18 520.50 340.04 520.75 340.63 521.00 340.35 521.25 339.94 521.50 339.71 521.75 340.00 522.00 339.95 522.25 339.92 522.50 340.49 522.75 340.42 523.00 339.88 523.25 339.57 523.50 339.85 523.75 339.78 524.00 339.88 524.25 339.74 524.50 339.74 524.75 339.82 525.00 339.33 525.25 339.82 525.50 340.04 525.75 339.47 526.00 340.03 526.25 339.87 526.50 340.18 526.75 339.64 527.00 340.31 527.25 340.48 527.50 340.70 527.75 339.97 528.00 339.60 528.25 339.44 528.50 339.42 528.75 339.11 529.00 339.89 529.25 339.03 529.50 339.08 529.75 338.95 530.00 339.51 530.25 339.77 530.50 339.23 530.75 339.14 531.00 339.58 531.25 339.30 531.50 339.92 531.75 339.48 532.00 340.04 532.25 340.11 532.50 339.38 532.75 339.35 533.00 339.49 533.25 339.35 533.50 339.25 533.75 339.61 534.00 340.31 534.25 339.40 534.50 338.97 534.75 339.38 535.00 339.26 535.25 339.60 535.50 339.26 535.75 339.23 536.00 339.84 536.25 339.29 536.50 339.69 536.75 338.95 537.00 339.31 537.25 339.35 537.50 339.18 537.75 339.53 538.00 339.78 538.25 339.73 538.50 339.02 538.75 338.81 539.00 339.10 539.25 339.91 539.50 338.81 539.75 339.11 540.00 339.79 540.25 339.29 540.50 339.30 540.75 339.03 541.00 338.82 541.25 338.72 541.50 339.50 541.75 339.15 542.00 338.64 542.25 338.46 542.50 338.27 542.75 339.25 543.00 338.66 543.25 338.17 543.50 336.66 543.75 332.69 544.00 318.76 544.20 309.95 544.25 310.93 544.50 325.76 544.75 335.06 545.00 337.30 545.25 337.80 545.50 338.12 545.75 338.95 546.00 338.90 546.25 339.12 546.50 338.63 546.75 338.95 547.00 339.08 547.25 338.58 547.50 338.77 547.75 338.82 548.00 339.43 548.25 338.99 548.50 338.98 548.75 338.71 549.00 339.13 549.25 338.92 549.50 339.11 549.75 338.93 550.00 339.05 550.25 339.38 550.50 338.73 550.75 339.05 551.00 338.63 551.25 339.03 551.50 338.22 551.75 338.57 552.00 338.64 552.25 338.59 552.50 338.66 552.75 338.79 553.00 338.88 553.25 338.97 553.50 339.39 553.75 339.13 554.00 339.54 554.25 339.32 554.50 338.91 554.75 338.91 555.00 339.72 555.25 339.28 555.50 339.03 555.75 338.60 556.00 338.89 556.25 338.83 556.50 338.21 556.75 338.50 557.00 338.14 557.25 337.89 557.50 338.50 557.75 338.50 558.00 338.38 558.25 338.61 558.50 338.69 558.75 338.47 559.00 338.55 559.25 338.48 559.50 338.58 559.75 338.84 560.00 338.75 560.25 338.61 560.50 338.28 560.75 338.54 561.00 337.71 561.25 338.03 561.50 337.99 561.75 338.51 562.00 337.84 562.25 338.01 562.50 338.13 562.75 337.62 563.00 337.89 563.25 337.53 563.50 338.18 563.75 338.01 564.00 337.85 564.25 337.59 564.50 337.21 564.75 337.55 565.00 338.31 565.25 337.48 565.50 337.85 565.75 337.95 566.00 337.74 566.25 338.23 566.50 337.79 566.75 338.09 567.00 337.88 567.25 337.94 567.50 337.35 567.75 337.62 568.00 337.13 568.25 337.74 568.50 338.10 568.75 337.54 569.00 336.91 569.25 337.43 569.50 337.60 569.75 337.07 570.00 336.82 570.25 337.39 570.50 337.11 570.75 337.42 571.00 337.31 571.25 337.20 571.50 337.66 571.75 336.92 572.00 336.57 572.25 336.72 572.50 336.60 572.75 336.83 573.00 336.41 573.25 337.07 573.50 336.64 573.75 336.54 574.00 336.53 574.25 336.81 574.50 336.56 574.75 336.32 575.00 336.40 575.25 336.26 575.50 336.57 575.75 336.45 576.00 336.79 576.25 335.82 576.50 336.54 576.75 336.29 577.00 335.90 577.25 336.06 577.50 336.45 577.75 335.93 578.00 335.57 578.25 336.22 578.50 335.44 578.75 335.84 579.00 335.53 579.25 335.20 579.50 335.49 579.75 335.19 580.00 334.82 580.25 335.31 580.50 335.04 580.75 334.56 581.00 334.43 581.25 334.31 581.50 333.66 581.75 333.37 582.00 332.94 582.25 332.30 582.50 331.63 582.75 330.98 583.00 329.21 583.25 325.52 583.50 320.34 583.75 316.63 583.80 316.13 584.00 317.64 584.25 322.36 584.50 325.53 584.75 326.70 585.00 327.30 585.25 327.99 585.50 327.13 585.75 327.11 586.00 326.65 586.25 326.69 586.50 326.28 586.75 326.14 587.00 325.83 587.25 325.28 587.50 324.14 587.75 320.67 588.00 314.16 588.25 305.24 588.40 303.60 588.50 304.97 588.75 311.80 589.00 317.75 589.25 321.02 589.50 322.61 589.75 322.43 590.00 321.42 590.25 320.58 590.50 319.21 590.75 317.81 591.00 315.98 591.25 311.84 591.50 306.80 591.75 300.10 592.00 290.16 592.25 288.50 603.25 288.50 603.50 289.43 603.75 294.62 604.00 297.96 604.25 300.53 604.50 301.16 604.75 302.72 605.00 303.48 605.10 303.52 605.20 303.88 605.25 303.75 605.50 305.50 605.75 305.48 606.00 306.12 606.25 306.66 606.50 306.43 606.75 308.69 607.00 309.85 607.25 310.33 607.50 311.61 607.75 312.19 608.00 312.50 608.25 313.20 608.50 314.72 608.75 314.59 609.00 315.29 609.25 315.30 609.50 316.01 609.75 315.43 610.00 315.73 610.25 315.96 610.30 316.08 610.50 316.53 610.75 316.69 611.00 316.18 611.25 316.36 611.50 317.17 611.75 317.23 612.00 317.09 612.25 317.14 612.50 317.48 612.75 317.31 613.00 317.05 613.25 316.17 613.50 315.91 613.75 315.03 614.00 314.11 614.25 312.42 614.50 310.20 614.60 309.46 614.75 308.92 615.00 306.84 615.25 305.59 615.50 304.22 615.75 303.46 616.00 303.30 616.10 302.94 616.25 303.36 616.40 303.92 616.50 304.63 616.75 305.26 617.00 307.08 617.25 308.93 617.50 311.05 617.75 312.39 618.00 313.34 618.25 312.61 618.50 311.42 618.75 308.99 619.00 303.81 619.25 297.17 619.50 288.62 619.75 288.50 637.00 288.50 637.25 293.70 637.50 301.51 637.75 307.71 638.00 311.79 638.25 315.32 638.50 317.45 638.75 319.07 639.00 319.07 639.25 320.12 639.50 319.91 639.75 320.40 640.00 320.12 640.25 319.10 640.50 319.37 640.75 318.67 641.00 317.42 641.25 316.32 641.50 314.98 641.60 314.79 641.75 314.20 642.00 312.40 642.25 309.38 642.50 305.87 642.75 302.37 643.00 297.62 643.25 289.67 643.50 288.50 647.50 288.50 647.75 292.98 648.00 300.74 648.25 306.34 648.50 310.07 648.75 313.21 649.00 315.35 649.25 317.42 649.50 319.25 649.75 320.71 650.00 322.28 650.25 323.40 650.50 324.35 650.75 324.54 651.00 325.44 651.25 325.93 651.50 326.56 651.75 326.79 652.00 327.10 652.25 327.36 652.50 327.71 652.75 327.92 653.00 327.83 653.25 327.63 653.50 328.63 653.75 328.99 654.00 328.77 654.25 328.50 654.50 328.40 654.75 328.48 655.00 328.86 655.25 328.72 655.50 328.62 655.75 328.43 656.00 328.43 656.25 327.94 656.50 327.85 656.75 328.26 657.00 328.36 657.25 327.97 657.50 327.06 657.75 327.42 658.00 326.64 658.25 326.71 658.50 326.58 658.75 325.69 659.00 325.35 659.25 324.85 659.50 323.54 659.75 322.73 660.00 320.60 660.25 318.85 660.50 316.81 660.75 314.37 661.00 310.40 661.25 304.95 661.50 297.50 661.75 288.50 664.75 288.50 665.00 293.02 665.25 302.31 665.50 308.78 665.75 312.78 666.00 316.58 666.25 318.74 666.50 320.79 666.75 321.93 667.00 322.62 667.25 323.80 667.50 324.48 667.75 325.10 668.00 325.48 668.25 325.94 668.50 326.00 668.75 326.68 669.00 326.79 669.25 327.59 669.50 327.42 669.75 327.87 670.00 327.66 670.25 327.42 670.50 327.25 670.75 327.37 671.00 328.11 671.25 327.15 671.50 327.70 671.75 327.63 672.00 327.33 672.25 327.16 672.50 326.86 672.75 326.06 673.00 325.03 673.25 324.95 673.50 323.72 673.75 322.52 674.00 318.91 674.25 315.50 674.50 308.70 674.75 297.66 675.00 288.50 675.25 288.50 675.50 295.28 675.75 302.70 676.00 305.60 676.25 306.47 676.50 304.49 676.75 300.66 677.00 294.84 677.25 288.50 681.50 288.50 681.75 296.45 682.00 303.48 682.25 308.83 682.50 312.69 682.75 316.29 683.00 317.86 683.25 318.15 683.50 314.43 683.70 312.70 683.75 313.00 684.00 319.79 684.25 324.53 684.50 327.91 684.75 328.39 685.00 329.33 685.25 330.28 685.50 331.36 685.75 331.26 685.90 331.56 686.00 332.40 686.25 332.14 686.50 332.00 686.75 332.45 687.00 332.83 687.25 333.26 687.50 332.89 687.75 333.38 688.00 333.19 688.25 333.56 688.50 334.09 688.75 334.07 689.00 333.31 689.25 334.13 689.50 334.58 689.75 334.58 690.00 333.85 690.25 334.54 690.50 334.55 690.75 334.37 691.00 334.45 691.25 334.77 691.50 334.51 691.75 334.56 692.00 334.61 692.25 335.12 692.50 335.13 692.75 334.68 693.00 335.33 693.25 335.42 693.50 335.48 693.75 335.09 694.00 335.47 694.25 335.67 694.50 335.56 694.75 335.60 695.00 335.08 695.25 335.12 695.50 335.83 695.75 335.53 696.00 335.14 696.25 335.57 696.50 335.32 696.75 335.36 697.00 335.59 697.25 336.02 697.50 335.95 697.75 335.75 698.00 335.63 698.25 335.91 698.50 335.83 698.75 336.00 699.00 335.85 699.25 336.23 699.50 335.91 699.75 335.78 700.00 335.72 700.25 336.34 700.50 335.88 700.75 336.50 701.00 336.50 701.25 336.84 701.50 336.12 701.75 336.16 702.00 335.85 702.25 336.13 702.50 336.01 702.75 335.51 703.00 335.82 703.25 335.98 703.50 335.86 703.75 336.08 704.00 335.95 704.25 335.93 704.50 336.37 704.75 336.49 705.00 336.68 705.25 336.72 705.50 336.41 705.75 336.10 706.00 336.62 706.25 336.11 706.50 336.70 706.75 336.39 707.00 336.83 707.25 336.55 707.50 336.41 707.75 336.35 708.00 336.06 708.25 336.13 708.50 336.46 708.75 337.01 709.00 336.57 709.25 336.36 709.50 336.65 709.75 336.55 710.00 336.56 710.25 336.15 710.50 336.45 710.75 336.63 711.00 336.81 711.25 336.37 711.50 336.41 711.75 336.53 712.00 336.46 712.25 336.88 712.50 336.41 712.75 337.26 713.00 336.66 713.25 336.52 713.50 336.40 713.75 336.60 714.00 336.28 714.25 336.98 714.50 336.81 714.75 336.76 715.00 336.49 715.25 336.29 715.50 337.03 715.75 337.33 716.00 336.34 716.25 336.76 716.50 337.24 716.75 337.15 717.00 337.05 717.25 336.84 717.50 336.41 717.75 337.02 718.00 336.87 718.25 337.27 718.50 336.89 718.75 337.12 719.00 337.49 719.25 337.09 719.50 337.18 719.75 336.41 720.00 336.54 720.25 336.30 720.50 336.50 720.75 336.24 721.00 336.44 721.25 336.98 721.50 336.89 721.75 337.04 722.00 337.23 722.25 337.59 722.50 336.97 722.75 337.27 723.00 337.03 723.25 336.99 723.50 337.11 723.75 337.19 724.00 336.95 724.25 336.95 724.50 337.17 724.75 337.03 725.00 337.39 725.25 336.69 725.50 337.27 725.75 336.83 726.00 336.59 726.25 337.07 726.50 337.31 726.75 337.11 727.00 337.97 727.25 337.44 727.50 336.93 727.75 337.09 728.00 336.83 728.25 336.88 728.50 336.70 728.75 336.85 729.00 335.88 729.25 336.80 729.50 336.87 729.75 336.83 730.00 336.46 730.25 337.16 730.50 337.20 730.75 337.20 731.00 336.85 731.25 337.45 731.50 337.06 731.75 337.06 732.00 337.25 732.25 336.46 732.50 336.96 732.75 336.90 733.00 337.46 733.25 337.37 733.50 337.20 733.75 337.22 734.00 337.35"/>
<path d="M420.50 381.84 420.75 381.73 421.00 381.31 421.25 381.89 421.50 381.83 421.75 381.83 422.00 381.77 422.25 382.23 422.50 382.12 422.75 382.20 423.00 381.71 423.25 381.53 423.50 381.29 423.75 381.49 424.00 380.70 424.25 381.98 424.50 381.79 424.75 381.72 425.00 381.97 425.25 381.61 425.50 381.73 425.75 381.94 426.00 381.19 426.25 382.12 426.50 381.81 426.75 381.90 427.00 381.35 427.25 381.35 427.50 382.14 427.75 381.58 428.00 381.47 428.25 381.74 428.50 382.12 428.75 380.89 429.00 381.89 429.25 381.70 429.50 381.84 429.75 381.17 430.00 381.41 430.25 381.86 430.50 381.31 430.75 380.92 431.00 380.81 431.25 380.67 431.50 381.02 431.75 380.84 432.00 380.52 432.25 380.85 432.50 380.28 432.75 380.04 433.00 381.35 433.25 380.67 433.50 381.34 433.75 380.99 434.00 380.93 434.25 381.25 434.50 380.92 434.75 380.90 435.00 381.17 435.25 381.22 435.50 381.64 435.75 382.20 436.00 381.28 436.25 381.17 436.50 381.71 436.75 381.77 437.00 381.99 437.25 381.41 437.50 381.72 437.75 381.58 438.00 381.00 438.25 381.57 438.50 381.02 438.75 381.60 439.00 381.40 439.25 381.44 439.50 382.25 439.75 382.24 440.00 381.86 440.25 381.75 440.50 381.32 440.75 381.91 441.00 381.84 441.25 381.31 441.50 380.90 441.75 381.37 442.00 381.42 442.25 381.79 442.50 381.23 442.75 381.14 443.00 381.56 443.25 381.55 443.50 381.84 443.75 381.97 444.00 381.31 444.25 380.64 444.50 381.30 444.75 381.20 445.00 381.50 445.25 380.56 445.50 381.22 445.75 381.45 446.00 381.29 446.25 381.61 446.50 381.55 446.75 381.58 447.00 381.95 447.25 382.04 447.50 382.03 447.75 381.74 448.00 381.58 448.25 381.69 448.50 381.63 448.75 381.25 449.00 381.54 449.25 381.79 449.50 381.40 449.75 381.06 450.00 381.55 450.25 381.22 450.50 380.88 450.75 381.22 451.00 380.88 451.25 381.41 451.50 381.25 451.75 381.42 452.00 381.82 452.25 381.91 452.50 381.51 452.75 380.67 453.00 381.07 453.25 380.93 453.50 381.60 453.75 381.99 454.00 381.80 454.25 381.72 454.50 381.68 454.75 381.70 455.00 381.35 455.25 381.69 455.50 381.36 455.75 380.99 456.00 381.31 456.25 381.91 456.50 381.45 456.75 380.79 457.00 381.66 457.25 381.53 457.50 381.60 457.75 381.27 458.00 381.51 458.25 381.95 458.50 381.29 458.75 381.58 459.00 381.53 459.25 381.10 459.50 381.35 459.75 381.55 460.00 381.11 460.25 381.68 460.50 381.04 460.75 381.66 461.00 381.62 461.25 381.49 461.50 381.10 461.75 380.99 462.00 380.48 462.25 381.09 462.50 381.21 462.75 381.47 463.00 381.69 463.25 381.46 463.50 381.22 463.75 381.61 464.00 381.36 464.25 381.29 464.50 380.87 464.75 381.53 465.00 381.10 465.25 381.87 465.50 381.11 465.75 381.04 466.00 381.21 466.25 380.98 466.50 380.66 466.75 380.68 467.00 380.79 467.25 381.01 467.50 381.47 467.75 381.47 468.00 381.34 468.25 381.47 468.50 380.47 468.75 380.74 469.00 380.81 469.25 380.65 469.50 381.11 469.75 380.81 470.00 380.56 470.25 381.15 470.50 380.74 470.75 380.73 471.00 380.25 471.25 380.89 471.50 380.69 471.75 381.01 472.00 381.23 472.25 380.59 472.50 379.84 472.75 379.17 473.00 379.32 473.25 377.94 473.50 376.56 473.75 373.86 474.00 368.34 474.25 364.24 474.40 363.22 474.50 363.86 474.75 368.37 475.00 373.07 475.25 375.57 475.50 377.73 475.75 378.50 476.00 379.32 476.25 380.30 476.50 380.25 476.75 379.96 477.00 380.47 477.25 380.06 477.50 380.57 477.75 381.17 478.00 380.52 478.25 380.70 478.50 380.52 478.75 380.86 479.00 381.01 479.25 381.01 479.50 380.87 479.75 380.30 480.00 380.50 480.25 380.72 480.50 381.20 480.75 380.37 481.00 381.22 481.25 380.81 481.50 380.40 481.75 381.36 482.00 381.22 482.25 380.76 482.50 381.05 482.75 381.23 483.00 380.59 483.25 381.35 483.50 380.82 483.75 381.25 484.00 380.89 484.25 380.45 484.50 380.67 484.75 380.75 485.00 380.99 485.25 380.44 485.50 380.52 485.75 380.99 486.00 380.86 486.25 380.78 486.50 381.08 486.75 380.56 487.00 381.54 487.25 380.86 487.50 381.06 487.75 380.92 488.00 381.27 488.25 380.87 488.50 380.65 488.75 380.93 489.00 381.11 489.25 380.89 489.50 381.55 489.75 381.26 490.00 381.37 490.25 381.31 490.50 381.13 490.75 380.47 491.00 380.05 491.25 376.65 491.50 373.91 491.75 377.09 492.00 379.88 492.25 380.09 492.50 380.39 492.75 380.29 493.00 380.97 493.25 380.64 493.50 380.68 493.75 380.45 494.00 380.44 494.25 380.82 494.50 380.34 494.75 380.56 495.00 380.41 495.25 380.40 495.50 380.06 495.75 380.77 496.00 379.99 496.25 379.89 496.50 380.10 496.75 380.28 497.00 380.00 497.25 379.60 497.50 379.83 497.75 379.65 498.00 379.66 498.25 380.36 498.50 379.24 498.75 379.57 499.00 379.72 499.25 379.42 499.50 379.30 499.75 379.69 500.00 379.31 500.25 378.68 500.50 378.94 500.75 379.24 501.00 379.07 501.25 378.96 501.50 379.18 501.75 379.01 502.00 379.14 502.25 379.29 502.50 378.77 502.75 378.05 503.00 378.10 503.25 375.72 503.50 370.15 503.75 362.09 504.00 357.82 504.25 362.62 504.50 370.44 504.75 375.50 505.00 377.33 505.25 377.76 505.50 377.12 505.75 376.65 506.00 376.44 506.25 377.59 506.50 377.88 506.75 379.50 507.00 379.86 507.25 379.67 507.50 379.71 507.75 380.07 508.00 380.28 508.25 380.48 508.50 379.75 508.75 380.04 509.00 380.41 509.25 380.63 509.50 380.52 509.75 380.28 510.00 380.30 510.25 379.93 510.50 380.40 510.75 379.87 511.00 378.23 511.25 371.40 511.50 357.97 511.60 355.70 511.75 360.64 512.00 374.10 512.25 379.33 512.50 380.13 512.75 379.73 513.00 380.35 513.25 380.17 513.50 380.35 513.75 381.07 514.00 380.06 514.25 379.94 514.50 380.17 514.75 380.70 515.00 380.45 515.25 379.88 515.50 380.52 515.75 380.77 516.00 381.03 516.25 380.72 516.50 380.98 516.75 380.49 517.00 380.85 517.25 381.04 517.50 380.60 517.75 380.46 518.00 380.95 518.25 380.43 518.50 380.24 518.75 380.51 519.00 380.75 519.25 380.92 519.50 380.50 519.75 380.72 520.00 380.32 520.25 380.12 520.50 381.25 520.75 380.49 521.00 380.04 521.25 380.53 521.50 380.30 521.75 380.72 522.00 379.76 522.25 379.97 522.50 380.73 522.75 380.67 523.00 380.26 523.25 380.95 523.50 380.97 523.75 380.51 524.00 380.89 524.25 380.80 524.50 380.16 524.75 380.16 525.00 380.47 525.25 380.13 525.50 379.87 525.75 380.16 526.00 380.63 526.25 380.55 526.50 380.15 526.75 379.56 527.00 380.48 527.25 380.36 527.50 380.68 527.75 380.45 528.00 380.26 528.25 380.44 528.50 380.17 528.75 380.17 529.00 380.03 529.25 379.58 529.50 380.52 529.75 380.77 530.00 380.28 530.25 380.21 530.50 381.08 530.75 380.72 531.00 380.31 531.25 379.93 531.50 380.80 531.75 380.88 532.00 380.19 532.25 380.52 532.50 380.05 532.75 380.14 533.00 380.62 533.25 380.29 533.50 380.06 533.75 379.75 534.00 380.34 534.25 380.22 534.50 379.85 534.75 380.83 535.00 380.17 535.25 380.05 535.50 380.32 535.75 380.16 536.00 380.22 536.25 380.35 536.50 380.08 536.75 379.86 537.00 380.01 537.25 380.48 537.50 380.26 537.75 380.71 538.00 380.33 538.25 379.90 538.50 380.16 538.75 380.08 539.00 379.96 539.25 380.01 539.50 380.40 539.75 380.46 540.00 380.29 540.25 380.20 540.50 380.31 540.75 380.35 541.00 380.24 541.25 379.83 541.50 380.34 541.75 380.42 542.00 380.47 542.25 379.03 542.50 379.76 542.75 379.73 543.00 378.61 543.25 379.36 543.50 377.78 543.75 374.49 544.00 363.58 544.20 356.37 544.25 356.63 544.50 368.80 544.75 376.22 545.00 378.52 545.25 379.40 545.50 379.07 545.75 380.02 546.00 378.86 546.25 379.35 546.50 379.53 546.75 379.75 547.00 379.91 547.25 380.20 547.50 379.71 547.75 379.27 548.00 379.29 548.25 379.57 548.50 379.45 548.75 379.60 549.00 379.68 549.25 379.76 549.50 380.07 549.75 379.98 550.00 379.37 550.25 379.41 550.50 379.47 550.75 379.48 551.00 379.92 551.25 380.06 551.50 379.89 551.75 380.24 552.00 379.51 552.25 379.64 552.50 380.04 552.75 379.74 553.00 379.45 553.25 379.32 553.50 379.88 553.75 379.94 554.00 380.33 554.25 380.43 554.50 379.86 554.75 379.48 555.00 379.25 555.25 379.31 555.50 380.09 555.75 379.60 556.00 379.30 556.25 379.38 556.50 379.57 556.75 379.25 557.00 379.14 557.25 379.14 557.50 379.79 557.75 379.48 558.00 379.58 558.25 379.60 558.50 378.77 558.75 379.33 559.00 378.93 559.25 379.07 559.50 378.60 559.75 379.35 560.00 379.33 560.25 378.93 560.50 379.54 560.75 378.99 561.00 379.59 561.25 379.22 561.50 379.92 561.75 378.92 562.00 379.21 562.25 378.69 562.50 378.53 562.75 378.70 563.00 378.84 563.25 378.56 563.50 379.01 563.75 379.49 564.00 379.32 564.25 378.74 564.50 379.51 564.75 378.46 565.00 379.29 565.25 378.86 565.50 378.47 565.75 378.67 566.00 378.69 566.25 379.05 566.50 378.97 566.75 378.59 567.00 378.90 567.25 378.55 567.50 378.19 567.75 378.02 568.00 378.01 568.25 378.41 568.50 378.27 568.75 378.59 569.00 377.93 569.25 378.22 569.50 378.38 569.75 378.30 570.00 378.34 570.25 377.24 570.50 377.43 570.75 377.64 571.00 377.94 571.25 378.36 571.50 378.78 571.75 377.86 572.00 377.76 572.25 378.04 572.50 377.61 572.75 378.02 573.00 377.66 573.25 377.56 573.50 377.70 573.75 378.07 574.00 377.58 574.25 377.11 574.50 377.64 574.75 377.43 575.00 376.87 575.25 376.44 575.50 376.74 575.75 376.60 576.00 376.44 576.25 376.66 576.50 376.80 576.75 376.96 577.00 376.53 577.25 375.92 577.50 375.61 577.75 375.38 578.00 375.89 578.25 375.14 578.50 375.20 578.75 374.87 579.00 374.97 579.25 374.84 579.50 374.72 579.75 375.19 580.00 374.90 580.25 374.25 580.50 373.69 580.75 373.90 581.00 373.47 581.25 373.21 581.50 372.58 581.75 372.68 582.00 372.41 582.25 372.15 582.50 371.58 582.75 371.08 583.00 369.96 583.25 369.33 583.50 366.95 583.75 364.14 584.00 361.49 584.25 362.62 584.50 365.46 584.75 366.55 585.00 367.24 585.25 367.03 585.50 366.75 585.75 365.79 586.00 366.17 586.25 365.91 586.50 365.08 586.75 365.41 587.00 364.03 587.25 363.72 587.50 363.51 587.75 360.74 588.00 354.94 588.25 347.65 588.50 342.86 588.75 344.96 589.00 351.80 589.25 355.52 589.50 356.69 589.75 355.23 590.00 352.47 590.25 349.23 590.50 344.97 590.75 336.54 591.00 324.60 591.25 305.13 591.50 288.50 600.25 288.50 600.50 288.91 600.75 308.48 601.00 321.29 601.25 329.52 601.50 334.29 601.75 336.89 602.00 339.09 602.25 339.26 602.50 339.89 602.75 341.34 602.90 341.62 603.00 341.53 603.25 342.12 603.50 342.30 603.75 343.66 604.00 343.67 604.25 344.70 604.50 345.19 604.75 345.84 605.00 346.45 605.10 347.13 605.25 347.84 605.50 348.65 605.75 349.44 606.00 350.51 606.25 351.46 606.50 353.46 606.75 354.15 607.00 354.90 607.25 356.29 607.50 357.04 607.75 357.88 608.00 358.71 608.25 358.95 608.50 358.74 608.75 359.76 609.00 360.11 609.25 360.22 609.50 360.07 609.75 360.59 610.00 360.50 610.25 360.88 610.50 359.83 610.75 359.41 611.00 359.64 611.25 359.47 611.50 358.86 611.75 358.92 612.00 358.25 612.25 358.16 612.50 357.35 612.75 356.95 613.00 356.55 613.25 355.49 613.50 355.44 613.70 354.52 613.75 354.79 614.00 353.56 614.25 352.27 614.50 352.14 614.75 350.96 615.00 351.41 615.25 349.79 615.50 349.39 615.75 349.96 615.90 350.05 616.00 349.68 616.10 350.46 616.25 350.86 616.50 350.62 616.75 351.47 617.00 352.61 617.25 353.83 617.50 354.67 617.75 355.82 618.00 356.11 618.25 356.91 618.50 356.85 618.75 357.23 619.00 357.09 619.25 355.23 619.50 353.33 619.75 348.22 620.00 339.46 620.25 325.55 620.50 302.30 620.75 288.50 625.85 288.50 625.90 294.92 626.00 335.57 626.10 299.20 626.20 288.50 631.00 288.50 631.25 308.74 631.50 329.82 631.70 341.22 631.75 342.92 632.00 350.25 632.25 354.18 632.50 356.93 632.75 358.78 633.00 358.88 633.25 358.51 633.50 358.52 633.75 359.11 634.00 359.13 634.25 358.87 634.50 358.59 634.75 357.94 635.00 357.92 635.25 357.45 635.50 356.61 635.75 356.17 636.00 356.32 636.25 356.21 636.50 355.57 636.75 355.74 636.80 355.49 637.00 355.01 637.25 355.20 637.50 355.38 637.75 355.07 638.00 355.92 638.25 356.32 638.50 356.91 638.75 357.18 639.00 356.74 639.25 357.19 639.50 357.99 639.75 357.85 640.00 357.77 640.25 357.64 640.50 357.85 640.75 357.26 641.00 356.82 641.20 356.31 641.25 355.93 641.50 354.61 641.75 353.31 642.00 352.59 642.25 351.04 642.50 347.81 642.75 344.18 643.00 339.29 643.25 331.46 643.50 317.13 643.75 288.50 647.25 288.50 647.50 318.94 647.75 335.03 648.00 342.89 648.25 348.11 648.50 352.54 648.75 355.39 649.00 357.94 649.25 360.09 649.50 361.15 649.75 362.55 650.00 363.68 650.25 364.91 650.50 365.94 650.75 367.12 651.00 367.14 651.25 367.71 651.50 368.04 651.75 368.89 652.00 369.02 652.25 369.59 652.50 369.81 652.75 369.56 653.00 370.34 653.25 370.32 653.50 370.52 653.75 370.12 654.00 370.40 654.25 370.28 654.50 370.55 654.75 370.34 655.00 370.73 655.25 370.12 655.50 370.62 655.75 370.69 656.00 370.13 656.25 370.32 656.30 370.61 656.50 370.62 656.75 370.68 657.00 370.36 657.25 369.93 657.50 370.04 657.75 369.33 658.00 369.08 658.25 368.89 658.50 368.72 658.75 368.59 659.00 367.98 659.25 367.06 659.50 366.18 659.75 365.27 660.00 363.61 660.25 361.78 660.50 359.66 660.75 357.23 661.00 353.03 661.25 347.21 661.50 339.55 661.75 324.92 662.00 288.50 664.50 288.50 664.75 315.23 665.00 335.69 665.25 345.16 665.50 350.99 665.75 355.42 666.00 358.32 666.25 361.05 666.50 362.77 666.75 364.56 667.00 365.60 667.25 366.80 667.50 367.91 667.75 368.51 668.00 369.44 668.25 369.69 668.50 369.94 668.75 370.26 669.00 370.31 669.25 371.11 669.50 370.97 669.75 371.18 670.00 371.11 670.25 371.70 670.50 371.95 670.75 371.61 671.00 371.15 671.25 370.70 671.50 371.22 671.75 371.37 672.00 371.05 672.25 370.24 672.50 369.29 672.75 369.99 673.00 369.16 673.25 368.84 673.50 367.98 673.75 366.48 674.00 364.72 674.25 361.92 674.50 356.96 674.75 349.38 675.00 342.10 675.10 340.73 675.25 341.52 675.50 347.95 675.75 350.51 676.00 351.82 676.25 350.67 676.50 347.77 676.75 343.82 677.00 337.83 677.25 329.95 677.50 317.04 677.75 293.87 678.00 288.50 681.00 288.50 681.25 314.35 681.50 329.30 681.75 338.54 682.00 345.23 682.25 350.60 682.50 354.61 682.75 357.48 683.00 359.28 683.25 359.95 683.50 356.15 683.70 354.26 683.75 354.17 684.00 361.13 684.25 365.91 684.50 368.47 684.75 369.93 685.00 369.76 685.25 371.16 685.50 371.74 685.75 372.18 686.00 372.73 686.25 373.05 686.50 373.18 686.75 374.05 687.00 374.07 687.25 373.67 687.50 374.62 687.75 374.89 688.00 374.69 688.25 374.88 688.50 375.17 688.75 375.59 689.00 375.52 689.25 375.81 689.50 376.37 689.75 376.08 690.00 376.20 690.25 376.17 690.50 376.62 690.75 376.75 691.00 376.87 691.25 376.59 691.50 376.51 691.75 376.96 692.00 377.05 692.25 376.91 692.50 377.02 692.75 377.13 693.00 377.52 693.25 377.12 693.50 377.31 693.75 376.93 694.00 376.87 694.25 377.13 694.50 376.74 694.75 377.35 695.00 377.33 695.25 377.27 695.50 377.40 695.75 377.98 696.00 377.28 696.25 377.51 696.50 377.87 696.75 377.81 697.00 377.10 697.25 377.84 697.50 377.93 697.75 377.82 698.00 377.65 698.25 377.90 698.50 377.52 698.75 378.04 699.00 377.93 699.25 377.54 699.50 377.57 699.75 377.61 700.00 378.02 700.25 378.24 700.50 378.00 700.75 378.08 701.00 377.79 701.25 378.36 701.50 378.83 701.75 377.73 702.00 377.93 702.25 378.07 702.50 377.76 702.75 377.93 703.00 378.31 703.25 378.89 703.50 378.62 703.75 378.83 704.00 379.06 704.25 378.33 704.50 378.37 704.75 378.12 705.00 377.75 705.25 378.59 705.50 378.26 705.75 378.41 706.00 378.38 706.25 378.56 706.50 378.81 706.75 378.49 707.00 378.40 707.25 378.51 707.50 378.40 707.75 378.38 708.00 378.68 708.25 379.13 708.50 378.32 708.75 378.57 709.00 378.58 709.25 378.74 709.50 378.50 709.75 378.88 710.00 379.11 710.25 378.46 710.50 378.23 710.75 378.67 711.00 378.54 711.25 378.16 711.50 378.59 711.75 378.43 712.00 378.45 712.25 378.83 712.50 378.34 712.75 379.07 713.00 378.75 713.25 378.80 713.50 378.77 713.75 378.50 714.00 378.56 714.25 378.06 714.50 378.97 714.75 378.63 715.00 379.48 715.25 379.08 715.50 379.28 715.75 379.08 716.00 379.04 716.25 378.94 716.50 379.20 716.75 378.59 717.00 378.67 717.25 378.71 717.50 378.87 717.75 379.18 718.00 379.07 718.25 378.75 718.50 378.35 718.75 378.48 719.00 379.10 719.25 379.18 719.50 379.02 719.75 379.41 720.00 378.70 720.25 379.63 720.50 378.84 720.75 379.52 721.00 378.82 721.25 379.18 721.50 379.05 721.75 378.51 722.00 378.77 722.25 378.77 722.50 378.85 722.75 379.03 723.00 379.11 723.25 379.42 723.50 379.64 723.75 378.80 724.00 378.95 724.25 379.55 724.50 379.68 724.75 379.19 725.00 379.35 725.25 378.90 725.50 379.20 725.75 378.71 726.00 378.67 726.25 378.91 726.50 378.74 726.75 378.83 727.00 378.96 727.25 379.06 727.50 379.08 727.75 378.93 728.00 379.62 728.25 379.70 728.50 379.57 728.75 378.75 729.00 378.90 729.25 379.18 729.50 379.06 729.75 379.26 730.00 378.97 730.25 379.21 730.50 378.57 730.75 379.33 731.00 379.40 731.25 379.18 731.50 378.68 731.75 378.71 732.00 379.48 732.25 379.23 732.50 379.22 732.75 379.06 733.00 379.02 733.25 379.67 733.50 379.46 733.75 379.17 734.00 379.61"/>
<path d="M420.50 424.68 420.75 424.63 421.00 424.29 421.25 425.08 421.50 424.12 421.75 424.40 422.00 424.76 422.25 424.77 422.50 424.76 422.75 424.22 423.00 425.02 423.25 424.38 423.50 424.43 423.75 424.46 424.00 424.46 424.25 424.29 424.50 424.93 424.75 424.60 425.00 424.82 425.25 424.03 425.50 424.55 425.75 424.41 426.00 424.58 426.25 424.55 426.50 424.62 426.75 424.46 427.00 424.48 427.25 424.50 427.50 424.53 427.75 424.48 428.00 424.32 428.25 424.54 428.50 424.16 428.75 425.00 429.00 424.80 429.25 424.95 429.50 424.41 429.75 423.85 430.00 423.58 430.25 423.69 430.50 423.70 430.75 423.71 431.00 423.64 431.25 423.87 431.50 422.88 431.75 423.89 432.00 423.44 432.25 423.46 432.50 422.83 432.75 423.35 433.00 422.96 433.25 423.55 433.50 423.69 433.75 423.77 434.00 423.75 434.25 423.78 434.50 423.84 434.75 424.32 435.00 424.22 435.25 424.29 435.50 425.05 435.75 424.51 436.00 424.06 436.25 423.53 436.50 423.34 436.75 424.14 437.00 424.59 437.25 424.07 437.50 423.91 437.75 424.18 438.00 424.36 438.25 424.66 438.50 424.39 438.75 424.15 439.00 424.52 439.25 424.08 439.50 423.80 439.75 423.84 440.00 424.11 440.25 424.14 440.50 424.28 440.75 424.33 441.00 425.10 441.25 424.65 441.50 423.70 441.75 423.70 442.00 424.22 442.25 424.02 442.50 424.95 442.75 424.32 443.00 424.19 443.25 424.31 443.50 424.23 443.75 424.46 444.00 424.25 444.25 424.39 444.50 424.12 444.75 423.38 445.00 424.20 445.25 424.81 445.50 424.10 445.75 424.06 446.00 424.49 446.25 424.16 446.50 424.29 446.75 424.20 447.00 424.46 447.25 424.28 447.50 424.93 447.75 424.45 448.00 424.23 448.25 423.78 448.50 424.17 448.75 423.93 449.00 424.39 449.25 424.47 449.50 425.18 449.75 424.22 450.00 424.29 450.25 424.60 450.50 423.67 450.75 424.31 451.00 424.86 451.25 424.41 451.50 424.27 451.75 424.65 452.00 424.43 452.25 424.38 452.50 424.55 452.75 424.05 453.00 424.81 453.25 424.25 453.50 424.23 453.75 424.09 454.00 423.34 454.25 423.46 454.50 423.90 454.75 424.13 455.00 424.56 455.25 425.16 455.50 424.68 455.75 424.28 456.00 424.00 456.25 424.60 456.50 424.09 456.75 424.15 457.00 424.62 457.25 424.25 457.50 424.15 457.75 424.22 458.00 423.65 458.25 424.00 458.50 424.19 458.75 424.29 459.00 424.08 459.25 423.43 459.50 423.71 459.75 424.29 460.00 423.93 460.25 423.80 460.50 424.23 460.75 424.35 461.00 424.25 461.25 424.36 461.50 424.46 461.75 424.38 462.00 424.30 462.25 424.77 462.50 423.92 462.75 424.80 463.00 424.38 463.25 423.94 463.50 424.29 463.75 424.49 464.00 423.80 464.25 424.08 464.50 424.36 464.75 424.42 465.00 424.18 465.25 423.75 465.50 423.96 465.75 424.75 466.00 423.92 466.25 425.02 466.50 424.27 466.75 424.07 467.00 423.86 467.25 424.03 467.50 424.08 467.75 423.69 468.00 424.58 468.25 424.53 468.50 424.23 468.75 423.60 469.00 423.73 469.25 423.81 469.50 424.14 469.75 423.90 470.00 423.48 470.25 423.67 470.50 423.68 470.75 423.72 471.00 423.97 471.25 423.46 471.50 423.00 471.75 423.69 472.00 423.69 472.25 422.83 472.50 423.06 472.75 422.42 473.00 422.24 473.25 421.48 473.50 419.56 473.75 417.34 474.00 414.07 474.25 409.58 474.40 408.52 474.50 409.10 474.75 413.19 475.00 417.10 475.25 419.33 475.50 420.87 475.75 422.23 476.00 422.70 476.25 423.00 476.50 422.87 476.75 422.96 477.00 422.89 477.25 423.07 477.50 422.84 477.75 423.37 478.00 423.46 478.25 423.41 478.50 423.44 478.75 423.25 479.00 423.87 479.25 424.01 479.50 424.25 479.75 424.03 480.00 423.82 480.25 424.12 480.50 423.50 480.75 423.30 481.00 424.01 481.25 424.05 481.50 423.98 481.75 424.33 482.00 423.96 482.25 423.96 482.50 424.02 482.75 423.51 483.00 423.89 483.25 424.06 483.50 423.88 483.75 423.62 484.00 423.53 484.25 423.04 484.50 423.37 484.75 424.16 485.00 424.32 485.25 423.92 485.50 423.59 485.75 424.15 486.00 424.26 486.25 424.10 486.50 423.64 486.75 424.02 487.00 424.16 487.25 423.73 487.50 423.50 487.75 423.57 488.00 423.79 488.25 423.90 488.50 423.95 488.75 423.78 489.00 423.55 489.25 423.76 489.50 424.01 489.75 423.77 490.00 423.83 490.25 423.53 490.50 423.13 490.75 422.84 491.00 421.61 491.25 417.12 491.50 413.50 491.75 417.37 492.00 421.67 492.25 423.21 492.50 423.37 492.75 423.28 493.00 423.49 493.25 423.14 493.50 423.56 493.75 423.93 494.00 423.77 494.25 424.02 494.50 423.45 494.75 422.85 495.00 423.45 495.25 424.13 495.50 423.27 495.75 423.82 496.00 423.24 496.25 423.74 496.50 423.13 496.75 423.05 497.00 423.22 497.25 422.57 497.50 422.89 497.75 422.84 498.00 423.10 498.25 422.89 498.50 422.73 498.75 422.54 499.00 423.08 499.25 422.70 499.50 422.44 499.75 421.57 500.00 422.49 500.25 422.20 500.50 422.19 500.75 422.36 501.00 422.21 501.25 422.57 501.50 422.20 501.75 422.29 502.00 422.18 502.25 422.25 502.50 422.06 502.75 421.83 503.00 421.08 503.25 419.08 503.50 414.77 503.75 407.70 504.00 403.55 504.25 407.77 504.50 414.51 504.75 419.28 505.00 420.31 505.25 421.48 505.50 420.81 505.75 420.05 506.00 420.09 506.25 420.69 506.50 421.74 506.75 421.45 507.00 422.65 507.25 422.88 507.50 423.37 507.75 423.03 508.00 422.59 508.25 422.91 508.50 423.02 508.75 423.36 509.00 423.53 509.25 422.61 509.50 422.52 509.75 423.02 510.00 422.82 510.25 423.23 510.50 423.28 510.75 423.20 511.00 421.29 511.25 415.53 511.50 403.00 511.60 400.59 511.75 404.95 512.00 417.30 512.25 421.87 512.50 422.60 512.75 422.84 513.00 422.49 513.25 423.13 513.50 423.28 513.75 422.98 514.00 423.68 514.25 423.45 514.50 423.06 514.75 423.22 515.00 423.00 515.25 423.05 515.50 422.91 515.75 423.33 516.00 422.88 516.25 423.07 516.50 423.34 516.75 423.33 517.00 423.44 517.25 423.19 517.50 423.16 517.75 423.46 518.00 423.31 518.25 423.69 518.50 423.33 518.75 423.43 519.00 423.32 519.25 423.72 519.50 423.19 519.75 423.60 520.00 423.82 520.25 423.67 520.50 423.90 520.75 423.22 521.00 422.80 521.25 423.03 521.50 423.15 521.75 423.46 522.00 423.21 522.25 423.17 522.50 423.24 522.75 423.87 523.00 423.29 523.25 423.33 523.50 423.45 523.75 423.88 524.00 423.08 524.25 422.72 524.50 423.16 524.75 423.03 525.00 423.06 525.25 422.62 525.50 423.66 525.75 422.92 526.00 423.36 526.25 423.51 526.50 423.63 526.75 423.90 527.00 423.30 527.25 422.91 527.50 423.30 527.75 423.59 528.00 423.32 528.25 423.20 528.50 423.63 528.75 423.03 529.00 423.81 529.25 422.91 529.50 422.89 529.75 423.12 530.00 422.93 530.25 423.41 530.50 423.06 530.75 423.02 531.00 423.07 531.25 423.54 531.50 423.28 531.75 423.16 532.00 423.56 532.25 423.00 532.50 422.72 532.75 423.05 533.00 423.28 533.25 422.88 533.50 423.02 533.75 423.24 534.00 423.10 534.25 423.22 534.50 423.13 534.75 423.58 535.00 422.79 535.25 423.57 535.50 422.62 535.75 423.09 536.00 423.32 536.25 423.99 536.50 423.71 536.75 422.67 537.00 423.09 537.25 422.69 537.50 423.30 537.75 423.61 538.00 423.51 538.25 423.04 538.50 423.06 538.75 422.56 539.00 422.97 539.25 422.28 539.50 422.69 539.75 422.74 540.00 422.52 540.25 422.98 540.50 423.01 540.75 423.42 541.00 422.95 541.25 423.00 541.50 422.54 541.75 423.14 542.00 422.67 542.25 422.48 542.50 422.16 542.75 422.67 543.00 422.50 543.25 422.00 543.50 421.44 543.75 418.42 544.00 407.93 544.20 401.09 544.25 401.43 544.50 412.94 544.75 420.33 545.00 421.88 545.25 421.80 545.50 422.45 545.75 423.20 546.00 422.42 546.25 422.31 546.50 422.60 546.75 422.39 547.00 422.36 547.25 421.98 547.50 422.10 547.75 422.58 548.00 421.71 548.25 422.63 548.50 422.15 548.75 423.05 549.00 422.73 549.25 422.65 549.50 422.16 549.75 422.89 550.00 422.61 550.25 422.26 550.50 422.79 550.75 422.84 551.00 423.17 551.25 422.42 551.50 422.48 551.75 422.31 552.00 422.03 552.25 422.19 552.50 422.25 552.75 422.39 553.00 422.46 553.25 422.42 553.50 422.49 553.75 422.36 554.00 422.35 554.25 422.47 554.50 422.99 554.75 422.49 555.00 422.20 555.25 423.12 555.50 422.70 555.75 422.34 556.00 422.39 556.25 421.76 556.50 422.08 556.75 422.02 557.00 422.07 557.25 421.91 557.50 422.14 557.75 422.75 558.00 422.16 558.25 422.31 558.50 422.65 558.75 422.37 559.00 422.01 559.25 422.37 559.50 422.51 559.75 421.99 560.00 421.81 560.25 421.59 560.50 421.83 560.75 421.94 561.00 421.86 561.25 421.87 561.50 422.10 561.75 422.12 562.00 422.68 562.25 421.67 562.50 421.42 562.75 421.58 563.00 421.91 563.25 422.33 563.50 422.22 563.75 422.23 564.00 421.49 564.25 421.78 564.50 422.27 564.75 422.05 565.00 421.59 565.25 420.71 565.50 421.42 565.75 421.69 566.00 422.04 566.25 421.73 566.50 421.16 566.75 421.73 567.00 421.33 567.25 421.56 567.50 421.69 567.75 421.29 568.00 421.67 568.25 420.96 568.50 421.61 568.75 420.92 569.00 420.71 569.25 420.94 569.50 421.00 569.75 421.13 570.00 421.21 570.25 420.99 570.50 420.67 570.75 421.15 571.00 420.34 571.25 420.98 571.50 420.45 571.75 420.67 572.00 420.81 572.25 420.10 572.50 420.48 572.75 420.60 573.00 420.41 573.25 420.72 573.50 420.54 573.75 420.12 574.00 420.02 574.25 419.92 574.50 419.53 574.75 420.24 575.00 419.36 575.25 420.08 575.50 420.52 575.75 420.29 576.00 419.95 576.25 419.63 576.50 419.30 576.75 419.25 577.00 419.69 577.25 419.09 577.50 419.06 577.75 419.31 578.00 418.99 578.25 418.79 578.50 418.65 578.75 418.33 579.00 418.55 579.25 418.34 579.50 418.03 579.75 417.62 580.00 417.65 580.25 417.26 580.50 416.63 580.75 416.81 581.00 415.77 581.25 416.24 581.50 415.83 581.75 415.48 582.00 415.05 582.25 415.25 582.50 414.63 582.75 413.80 583.00 413.18 583.25 411.86 583.50 410.19 583.75 406.51 584.00 404.32 584.25 405.72 584.50 408.09 584.75 409.26 585.00 410.26 585.25 410.11 585.50 410.04 585.75 408.94 586.00 409.04 586.25 409.01 586.50 408.79 586.75 408.01 587.00 408.51 587.25 407.75 587.50 406.29 587.75 403.12 588.00 397.63 588.25 390.96 588.50 386.38 588.75 388.97 589.00 395.86 589.25 399.86 589.50 400.25 589.75 399.49 590.00 397.92 590.25 395.45 590.50 392.96 590.75 387.34 591.00 379.32 591.25 367.00 591.50 346.68 591.75 313.56 592.00 288.50 600.00 288.50 600.25 289.45 600.50 326.91 600.75 350.63 601.00 365.38 601.25 373.65 601.50 378.62 601.75 380.93 602.00 382.89 602.25 384.00 602.50 384.17 602.75 384.96 603.00 384.89 603.25 384.99 603.50 385.30 603.60 384.73 603.75 384.48 604.00 385.25 604.25 385.95 604.50 386.71 604.75 387.29 605.00 388.42 605.25 388.80 605.50 389.26 605.75 390.24 605.80 390.20 606.00 391.35 606.25 392.17 606.50 393.15 606.75 394.28 607.00 395.21 607.25 396.43 607.50 397.74 607.75 398.89 608.00 399.89 608.25 401.20 608.50 401.63 608.75 402.62 609.00 403.15 609.25 404.02 609.40 404.54 609.50 404.36 609.75 404.74 610.00 405.54 610.25 405.64 610.50 406.18 610.75 406.44 611.00 406.73 611.25 406.70 611.50 407.02 611.75 407.07 612.00 407.37 612.25 407.65 612.50 407.61 612.75 407.40 613.00 407.26 613.25 407.27 613.50 406.74 613.75 406.30 614.00 406.11 614.25 405.94 614.50 404.55 614.75 404.35 615.00 403.11 615.25 402.43 615.50 401.68 615.75 401.24 616.00 401.82 616.10 401.14 616.25 401.24 616.50 401.13 616.75 401.94 617.00 402.14 617.25 402.45 617.50 403.17 617.75 403.97 618.00 404.02 618.25 404.31 618.50 403.77 618.75 404.78 619.00 403.39 619.25 401.92 619.50 399.02 619.75 395.05 620.00 386.84 620.25 373.84 620.50 350.05 620.75 312.80 621.00 288.50 623.30 288.50 623.40 318.26 623.50 329.78 623.60 315.36 623.70 288.50 631.50 288.50 631.75 328.65 632.00 359.62 632.25 379.04 632.50 389.41 632.75 395.45 633.00 399.31 633.25 401.49 633.50 403.19 633.75 403.64 634.00 404.63 634.25 404.86 634.50 404.96 634.75 404.96 635.00 404.68 635.25 405.39 635.50 404.71 635.75 404.37 636.00 404.61 636.25 403.61 636.50 404.21 636.75 403.60 637.00 403.26 637.25 402.75 637.50 402.45 637.75 402.26 638.00 402.63 638.20 402.65 638.25 402.04 638.50 402.10 638.75 402.46 639.00 403.41 639.25 403.33 639.50 402.92 639.75 403.12 640.00 402.95 640.25 403.12 640.50 402.83 640.75 402.89 641.00 402.18 641.25 401.54 641.50 401.70 641.60 400.61 641.75 399.73 642.00 398.69 642.25 396.97 642.50 394.38 642.75 390.23 643.00 384.59 643.25 377.03 643.50 362.06 643.75 324.18 644.00 288.50 647.00 288.50 647.25 324.71 647.50 362.88 647.75 377.94 648.00 385.88 648.25 391.02 648.50 394.36 648.75 397.97 649.00 400.53 649.25 402.55 649.50 403.84 649.75 405.45 650.00 406.73 650.25 407.75 650.50 408.65 650.75 408.92 651.00 409.95 651.25 410.66 651.50 410.62 651.75 411.78 652.00 411.99 652.25 412.46 652.50 413.07 652.75 413.06 653.00 413.08 653.25 413.82 653.50 414.15 653.75 414.07 654.00 414.08 654.25 414.00 654.50 414.21 654.75 414.12 655.00 414.84 655.25 414.84 655.50 414.46 655.75 414.72 656.00 414.89 656.25 414.86 656.40 414.60 656.50 414.25 656.75 414.26 657.00 414.30 657.25 413.78 657.50 413.90 657.75 412.66 658.00 413.31 658.25 413.13 658.50 412.92 658.75 411.60 659.00 411.39 659.25 410.03 659.50 409.03 659.75 408.04 660.00 406.56 660.25 404.83 660.50 402.26 660.75 399.35 661.00 396.19 661.25 389.86 661.50 381.80 661.75 368.11 662.00 327.60 662.25 288.50 664.50 288.50 664.75 357.35 665.00 377.95 665.25 387.48 665.50 394.07 665.75 398.04 666.00 401.35 666.25 403.58 666.50 405.65 666.75 407.42 667.00 407.95 667.25 409.59 667.50 410.25 667.75 410.40 668.00 411.00 668.25 411.79 668.50 412.08 668.75 412.98 669.00 413.08 669.25 412.81 669.50 412.83 669.75 412.71 670.00 413.24 670.25 412.83 670.50 413.44 670.75 413.35 671.00 412.90 671.25 412.93 671.50 413.04 671.75 412.58 672.00 412.70 672.25 412.87 672.50 412.55 672.75 412.46 673.00 411.41 673.25 410.89 673.50 410.57 673.75 408.57 674.00 406.84 674.25 405.01 674.50 400.79 674.75 393.89 675.00 386.44 675.10 385.33 675.25 386.49 675.50 390.89 675.75 394.57 676.00 395.07 676.25 393.74 676.50 391.01 676.75 386.76 677.00 380.76 677.25 372.80 677.50 359.66 677.75 336.56 678.00 288.50 680.75 288.50 681.00 330.63 681.25 358.21 681.50 372.21 681.75 381.82 682.00 389.07 682.25 393.35 682.50 396.84 682.75 400.17 683.00 402.87 683.25 402.52 683.50 398.11 683.70 396.26 683.75 397.05 684.00 404.24 684.25 409.29 684.50 411.07 684.75 412.20 685.00 413.10 685.25 413.76 685.50 414.70 685.75 415.25 686.00 415.62 686.25 416.09 686.50 416.01 686.75 416.78 687.00 417.34 687.25 417.12 687.50 418.02 687.75 418.08 688.00 418.03 688.25 418.02 688.50 418.08 688.75 417.85 689.00 418.12 689.25 418.06 689.50 418.36 689.75 419.20 690.00 419.16 690.25 418.84 690.50 419.46 690.75 419.78 691.00 418.67 691.25 419.00 691.50 419.45 691.75 419.61 692.00 419.46 692.25 419.37 692.50 419.65 692.75 420.21 693.00 420.23 693.25 419.90 693.50 420.02 693.75 419.78 694.00 420.05 694.25 419.78 694.50 420.41 694.75 420.70 695.00 419.80 695.25 420.29 695.50 420.55 695.75 420.44 696.00 419.95 696.25 420.62 696.50 420.64 696.75 420.72 697.00 420.78 697.25 420.66 697.50 420.20 697.75 420.53 698.00 420.45 698.25 420.40 698.50 420.53 698.75 420.57 699.00 420.68 699.25 420.52 699.50 420.81 699.75 420.99 700.00 421.12 700.25 421.61 700.50 420.40 700.75 420.84 701.00 420.69 701.25 421.20 701.50 421.44 701.75 421.02 702.00 421.04 702.25 421.28 702.50 421.27 702.75 421.17 703.00 421.27 703.25 420.95 703.50 421.32 703.75 420.90 704.00 421.08 704.25 421.98 704.50 421.31 704.75 420.69 705.00 421.61 705.25 421.77 705.50 421.54 705.75 421.66 706.00 421.81 706.25 421.60 706.50 421.22 706.75 420.86 707.00 421.43 707.25 421.42 707.50 420.94 707.75 421.64 708.00 421.50 708.25 422.17 708.50 421.63 708.75 421.86 709.00 421.49 709.25 421.31 709.50 421.62 709.75 421.57 710.00 422.04 710.25 421.24 710.50 421.49 710.75 421.59 711.00 420.83 711.25 421.39 711.50 421.61 711.75 421.59 712.00 421.83 712.25 422.16 712.50 421.43 712.75 421.23 713.00 421.55 713.25 421.44 713.50 421.30 713.75 421.20 714.00 421.99 714.25 421.21 714.50 421.81 714.75 422.18 715.00 421.70 715.25 421.84 715.50 421.90 715.75 421.55 716.00 421.62 716.25 422.19 716.50 422.25 716.75 422.45 717.00 421.82 717.25 422.06 717.50 421.77 717.75 421.64 718.00 422.30 718.25 421.85 718.50 422.03 718.75 421.95 719.00 422.08 719.25 421.37 719.50 422.25 719.75 421.96 720.00 421.45 720.25 421.92 720.50 421.71 720.75 421.86 721.00 422.22 721.25 421.68 721.50 422.12 721.75 422.01 722.00 422.42 722.25 421.56 722.50 422.13 722.75 421.57 723.00 421.36 723.25 422.11 723.50 421.18 723.75 421.25 724.00 421.61 724.25 422.54 724.50 421.96 724.75 421.85 725.00 421.80 725.25 422.37 725.50 422.26 725.75 422.52 726.00 422.01 726.25 422.15 726.50 422.16 726.75 421.28 727.00 421.98 727.25 421.59 727.50 421.58 727.75 422.09 728.00 422.04 728.25 421.35 728.50 421.89 728.75 421.67 729.00 422.50 729.25 422.39 729.50 421.90 729.75 422.79 730.00 422.10 730.25 421.76 730.50 421.96 730.75 422.47 731.00 422.48 731.25 421.98 731.50 422.41 731.75 421.78 732.00 421.86 732.25 421.61 732.50 422.45 732.75 422.77 733.00 422.93 733.25 422.41 733.50 422.16 733.75 422.61 734.00 422.31"/>
<path d="M420.50 467.47 420.75 467.59 421.00 467.91 421.25 467.65 421.50 467.43 421.75 467.22 422.00 467.88 422.25 467.77 422.50 467.59 422.75 467.44 423.00 466.93 423.25 467.62 423.50 467.46 423.75 467.70 424.00 468.25 424.25 467.80 424.50 467.76 424.75 468.10 425.00 467.81 425.25 467.85 425.50 467.45 425.75 467.43 426.00 467.19 426.25 467.97 426.50 468.25 426.75 467.77 427.00 467.76 427.25 467.68 427.50 468.64 427.75 468.35 428.00 467.91 428.25 468.06 428.50 468.30 428.75 467.60 429.00 467.93 429.25 467.98 429.50 467.77 429.75 467.92 430.00 468.04 430.25 467.64 430.50 467.35 430.75 467.61 431.00 467.35 431.25 467.30 431.50 467.71 431.75 467.25 432.00 466.95 432.25 466.44 432.50 466.85 432.75 466.97 433.00 467.11 433.25 467.18 433.50 467.32 433.75 467.27 434.00 467.31 434.25 467.53 434.50 467.25 434.75 467.16 435.00 467.18 435.25 467.58 435.50 467.11 435.75 467.43 436.00 467.62 436.25 467.84 436.50 467.48 436.75 467.74 437.00 467.81 437.25 467.64 437.50 467.79 437.75 467.75 438.00 467.45 438.25 467.61 438.50 467.48 438.75 468.32 439.00 467.86 439.25 467.62 439.50 467.30 439.75 467.67 440.00 467.89 440.25 467.83 440.50 467.37 440.75 467.37 441.00 467.35 441.25 467.74 441.50 467.51 441.75 467.69 442.00 468.33 442.25 467.33 442.50 467.59 442.75 467.73 443.00 467.29 443.25 467.99 443.50 467.75 443.75 467.89 444.00 467.99 444.25 468.28 444.50 467.69 444.75 467.55 445.00 467.31 445.25 467.26 445.50 468.21 445.75 467.73 446.00 467.21 446.25 467.84 446.50 468.34 446.75 467.60 447.00 467.70 447.25 467.30 447.50 467.00 447.75 467.50 448.00 467.31 448.25 467.26 448.50 467.63 448.75 467.84 449.00 467.70 449.25 468.14 449.50 467.63 449.75 467.60 450.00 467.98 450.25 468.51 450.50 468.57 450.75 468.24 451.00 467.90 451.25 467.34 451.50 468.10 451.75 467.79 452.00 468.48 452.25 467.93 452.50 467.15 452.75 467.93 453.00 467.82 453.25 467.56 453.50 467.72 453.75 467.71 454.00 467.80 454.25 467.16 454.50 467.57 454.75 467.81 455.00 467.33 455.25 468.02 455.50 467.72 455.75 467.04 456.00 468.04 456.25 467.66 456.50 467.69 456.75 467.62 457.00 468.29 457.25 467.84 457.50 467.50 457.75 467.42 458.00 467.80 458.25 467.90 458.50 467.51 458.75 467.93 459.00 467.51 459.25 467.68 459.50 467.84 459.75 467.79 460.00 467.78 460.25 467.78 460.50 467.52 460.75 467.69 461.00 467.77 461.25 467.28 461.50 467.09 461.75 467.60 462.00 467.62 462.25 467.68 462.50 467.88 462.75 467.81 463.00 467.50 463.25 467.76 463.50 467.43 463.75 468.12 464.00 468.07 464.25 467.72 464.50 467.42 464.75 467.71 465.00 467.57 465.25 467.34 465.50 467.69 465.75 467.64 466.00 467.86 466.25 467.58 466.50 468.18 466.75 468.26 467.00 467.22 467.25 466.81 467.50 467.05 467.75 467.89 468.00 467.81 468.25 467.62 468.50 467.61 468.75 467.12 469.00 467.43 469.25 467.11 469.50 467.41 469.75 467.29 470.00 467.18 470.25 467.13 470.50 467.45 470.75 467.91 471.00 466.83 471.25 467.29 471.50 466.98 471.75 467.44 472.00 467.31 472.25 466.52 472.50 466.42 472.75 466.54 473.00 466.22 473.25 464.75 473.50 463.17 473.75 461.33 474.00 458.19 474.25 454.01 474.40 452.77 474.50 453.27 474.75 457.11 475.00 460.79 475.25 462.86 475.50 464.71 475.75 465.59 476.00 466.29 476.25 466.40 476.50 466.44 476.75 466.97 477.00 467.22 477.25 467.65 477.50 466.82 477.75 466.93 478.00 467.06 478.25 467.88 478.50 466.69 478.75 467.44 479.00 467.10 479.25 466.94 479.50 467.51 479.75 467.64 480.00 466.42 480.25 466.74 480.50 467.22 480.75 467.18 481.00 467.69 481.25 467.20 481.50 467.26 481.75 466.66 482.00 467.38 482.25 467.40 482.50 467.63 482.75 467.23 483.00 467.94 483.25 467.32 483.50 467.93 483.75 468.10 484.00 467.28 484.25 467.42 484.50 467.18 484.75 466.75 485.00 467.39 485.25 467.38 485.50 467.80 485.75 467.98 486.00 466.96 486.25 467.15 486.50 467.42 486.75 467.63 487.00 467.45 487.25 467.10 487.50 467.18 487.75 467.47 488.00 466.91 488.25 466.74 488.50 466.71 488.75 466.88 489.00 467.53 489.25 467.10 489.50 467.33 489.75 467.55 490.00 467.49 490.25 467.06 490.50 466.64 490.75 466.07 491.00 463.75 491.25 456.68 491.50 450.31 491.75 457.23 492.00 463.71 492.25 465.70 492.50 466.46 492.75 466.73 493.00 467.11 493.25 467.04 493.50 467.02 493.75 466.50 494.00 466.71 494.25 466.80 494.50 466.72 494.75 467.03 495.00 466.96 495.25 466.67 495.50 466.96 495.75 467.24 496.00 467.66 496.25 466.97 496.50 466.63 496.75 466.94 497.00 467.24 497.25 466.55 497.50 466.72 497.75 466.43 498.00 466.65 498.25 466.14 498.50 466.03 498.75 465.99 499.00 465.94 499.25 465.51 499.50 465.67 499.75 465.47 500.00 466.23 500.25 466.23 500.50 465.58 500.75 465.45 501.00 465.69 501.25 465.47 501.50 465.42 501.75 465.80 502.00 466.02 502.25 465.84 502.50 466.00 502.75 465.39 503.00 464.59 503.25 462.61 503.50 458.35 503.75 451.91 504.00 448.77 504.25 452.57 504.50 458.54 504.75 462.68 505.00 464.10 505.25 464.90 505.50 464.54 505.75 463.99 506.00 463.67 506.25 463.77 506.50 464.75 506.75 466.06 507.00 465.87 507.25 465.94 507.50 466.27 507.75 466.20 508.00 466.21 508.25 466.20 508.50 466.28 508.75 466.62 509.00 465.98 509.25 466.09 509.50 466.13 509.75 466.54 510.00 466.29 510.25 466.54 510.50 466.03 510.75 466.13 511.00 463.92 511.25 458.40 511.50 444.15 511.60 441.82 511.75 446.62 512.00 459.78 512.25 465.35 512.50 466.38 512.75 466.32 513.00 466.73 513.25 467.29 513.50 467.14 513.75 466.84 514.00 467.00 514.25 467.08 514.50 466.42 514.75 466.65 515.00 466.91 515.25 467.55 515.50 467.35 515.75 467.16 516.00 466.54 516.25 466.74 516.50 466.47 516.75 466.90 517.00 466.80 517.25 467.21 517.50 467.05 517.75 467.03 518.00 467.12 518.25 467.33 518.50 466.99 518.75 466.84 519.00 467.02 519.25 468.00 519.50 467.07 519.75 466.77 520.00 467.06 520.25 466.53 520.50 467.06 520.75 466.65 521.00 466.81 521.25 466.86 521.50 466.68 521.75 467.06 522.00 467.00 522.25 467.30 522.50 467.24 522.75 466.90 523.00 467.18 523.25 467.22 523.50 467.07 523.75 467.06 524.00 467.34 524.25 466.85 524.50 467.33 524.75 467.12 525.00 467.17 525.25 467.33 525.50 467.88 525.75 466.88 526.00 466.48 526.25 467.16 526.50 466.86 526.75 466.92 527.00 466.45 527.25 467.15 527.50 467.06 527.75 466.45 528.00 467.11 528.25 466.93 528.50 466.73 528.75 466.29 529.00 467.32 529.25 466.70 529.50 467.04 529.75 466.71 530.00 466.51 530.25 467.09 530.50 467.12 530.75 467.11 531.00 466.77 531.25 466.99 531.50 467.06 531.75 467.32 532.00 466.91 532.25 466.95 532.50 467.08 532.75 466.14 533.00 466.72 533.25 467.26 533.50 467.11 533.75 466.99 534.00 467.07 534.25 467.25 534.50 466.34 534.75 466.45 535.00 466.40 535.25 466.21 535.50 466.92 535.75 466.49 536.00 466.70 536.25 466.91 536.50 467.14 536.75 466.36 537.00 466.14 537.25 465.94 537.50 466.62 537.75 466.37 538.00 466.73 538.25 467.00 538.50 467.33 538.75 466.49 539.00 466.65 539.25 466.64 539.50 465.97 539.75 466.68 540.00 467.06 540.25 466.29 540.50 466.70 540.75 466.68 541.00 466.63 541.25 466.20 541.50 466.07 541.75 467.10 542.00 466.95 542.25 466.54 542.50 466.71 542.75 465.95 543.00 466.15 543.25 465.56 543.50 464.03 543.75 460.78 544.00 450.21 544.20 442.81 544.25 443.41 544.50 455.58 544.75 463.47 545.00 464.78 545.25 465.61 545.50 466.94 545.75 466.40 546.00 466.12 546.25 466.90 546.50 466.41 546.75 466.27 547.00 466.33 547.25 466.43 547.50 465.95 547.75 466.24 548.00 466.19 548.25 465.73 548.50 466.26 548.75 466.29 549.00 466.12 549.25 466.10 549.50 466.57 549.75 465.44 550.00 466.33 550.25 466.31 550.50 466.28 550.75 466.15 551.00 466.12 551.25 466.48 551.50 466.01 551.75 466.74 552.00 465.93 552.25 466.32 552.50 466.15 552.75 466.69 553.00 466.52 553.25 465.72 553.50 466.17 553.75 465.84 554.00 466.18 554.25 466.11 554.50 465.80 554.75 465.70 555.00 466.00 555.25 466.00 555.50 465.94 555.75 465.61 556.00 466.03 556.25 465.75 556.50 465.31 556.75 465.26 557.00 466.39 557.25 465.98 557.50 465.66 557.75 465.59 558.00 465.72 558.25 465.82 558.50 465.81 558.75 466.10 559.00 465.74 559.25 465.95 559.50 465.87 559.75 465.69 560.00 465.98 560.25 465.99 560.50 465.55 560.75 465.92 561.00 465.64 561.25 465.24 561.50 466.22 561.75 466.28 562.00 465.22 562.25 465.61 562.50 465.69 562.75 465.51 563.00 465.28 563.25 465.59 563.50 465.62 563.75 465.41 564.00 465.70 564.25 465.02 564.50 464.50 564.75 465.45 565.00 465.89 565.25 464.96 565.50 464.88 565.75 465.91 566.00 465.40 566.25 465.64 566.50 465.71 566.75 465.37 567.00 464.90 567.25 465.60 567.50 465.33 567.75 464.76 568.00 464.58 568.25 464.92 568.50 464.44 568.75 465.54 569.00 465.27 569.25 465.25 569.50 464.85 569.75 464.97 570.00 464.07 570.25 464.28 570.50 464.69 570.75 464.19 571.00 464.15 571.25 464.01 571.50 464.63 571.75 464.78 572.00 464.40 572.25 464.50 572.50 464.24 572.75 463.72 573.00 463.72 573.25 463.80 573.50 464.13 573.75 463.97 574.00 464.23 574.25 463.69 574.50 463.97 574.75 463.79 575.00 464.10 575.25 463.73 575.50 463.77 575.75 462.79 576.00 463.31 576.25 463.19 576.50 463.31 576.75 463.13 577.00 462.52 577.25 463.33 577.50 463.40 577.75 462.87 578.00 462.94 578.25 462.46 578.50 462.78 578.75 461.84 579.00 462.11 579.25 461.86 579.50 461.04 579.75 461.07 580.00 461.27 580.25 460.56 580.50 460.35 580.75 460.27 581.00 459.96 581.25 459.80 581.50 459.52 581.75 459.26 582.00 458.66 582.25 458.41 582.50 457.66 582.75 457.87 583.00 456.78 583.25 455.65 583.50 453.18 583.75 450.27 584.00 447.80 584.25 449.79 584.50 451.93 584.75 453.23 585.00 454.04 585.25 453.95 585.50 453.40 585.75 452.65 586.00 452.63 586.25 452.41 586.50 451.71 586.75 451.59 587.00 450.89 587.25 450.49 587.50 449.05 587.75 446.12 588.00 440.42 588.25 432.99 588.50 427.71 588.75 432.19 589.00 438.04 589.25 441.21 589.50 440.89 589.75 438.80 590.00 434.18 590.25 428.17 590.50 417.80 590.75 401.92 591.00 375.02 591.25 333.85 591.50 288.50 600.00 288.50 600.25 324.32 600.50 365.66 600.75 391.40 601.00 406.64 601.25 415.82 601.50 422.04 601.75 426.62 602.00 428.96 602.25 430.22 602.50 431.71 602.75 432.90 602.90 433.95 603.00 434.54 603.25 435.41 603.50 435.38 603.75 436.99 604.00 438.26 604.25 438.56 604.50 439.70 604.75 440.65 605.00 440.93 605.10 441.11 605.25 441.97 605.50 442.97 605.75 444.25 606.00 444.77 606.25 445.57 606.50 446.49 606.75 447.90 607.00 448.24 607.25 449.31 607.50 449.96 607.75 450.09 608.00 450.76 608.25 450.89 608.50 451.46 608.75 452.06 609.00 452.12 609.25 452.34 609.40 452.47 609.50 452.40 609.75 453.08 610.00 452.40 610.25 452.71 610.50 452.38 610.75 452.45 611.00 452.55 611.25 453.23 611.50 452.49 611.75 452.11 612.00 451.98 612.25 451.44 612.50 450.80 612.75 450.94 613.00 450.52 613.25 449.70 613.50 449.00 613.75 448.73 614.00 447.51 614.25 446.35 614.50 445.41 614.75 443.81 615.00 444.01 615.20 443.50 615.25 443.41 615.50 442.13 615.75 442.43 616.00 442.13 616.10 442.19 616.25 442.78 616.50 443.07 616.75 442.82 617.00 443.60 617.25 444.35 617.50 444.75 617.75 444.58 618.00 444.06 618.25 442.19 618.50 438.21 618.75 431.68 618.80 429.28 619.00 419.40 619.25 399.43 619.50 369.14 619.75 325.81 620.00 288.50 628.80 288.50 628.90 308.36 629.00 325.23 629.10 310.74 629.20 288.50 632.50 288.50 632.75 316.36 633.00 358.91 633.25 389.02 633.50 408.02 633.75 419.15 634.00 425.18 634.25 428.87 634.50 430.94 634.75 430.97 635.00 431.41 635.25 431.22 635.50 431.40 635.75 431.50 636.00 430.82 636.10 430.78 636.25 431.07 636.50 431.38 636.75 431.92 637.00 431.65 637.25 432.87 637.50 433.13 637.75 434.12 638.00 434.84 638.20 436.09 638.25 436.00 638.50 437.64 638.75 438.66 639.00 440.15 639.25 441.10 639.50 442.27 639.75 443.82 640.00 445.12 640.25 446.12 640.50 446.70 640.75 446.66 641.00 447.14 641.10 447.81 641.25 447.10 641.50 446.85 641.60 446.68 641.75 445.96 642.00 444.63 642.25 442.95 642.50 439.98 642.75 436.99 643.00 430.96 643.25 423.46 643.50 408.39 643.75 369.66 644.00 288.50 647.00 288.50 647.25 369.23 647.50 407.36 647.75 422.07 648.00 430.11 648.25 434.93 648.50 438.53 648.75 442.04 649.00 444.33 649.25 446.44 649.50 448.06 649.75 449.51 650.00 450.32 650.25 451.25 650.50 452.73 650.75 453.50 651.00 454.15 651.25 454.84 651.50 455.56 651.75 455.65 652.00 455.65 652.25 456.59 652.50 457.73 652.75 457.66 653.00 458.08 653.25 458.24 653.50 458.12 653.75 458.55 654.00 458.69 654.25 458.80 654.50 459.72 654.75 459.39 655.00 459.36 655.25 459.17 655.50 459.59 655.75 460.42 656.00 460.03 656.25 460.48 656.40 459.95 656.50 459.52 656.75 459.02 657.00 459.03 657.25 459.19 657.50 458.05 657.75 458.32 658.00 458.35 658.25 457.90 658.50 456.48 658.75 455.78 659.00 455.33 659.25 454.00 659.50 453.50 659.75 452.17 660.00 451.05 660.25 449.16 660.50 446.82 660.75 443.73 661.00 439.82 661.25 434.30 661.50 425.71 661.75 412.19 662.00 371.55 662.25 288.50 664.25 288.50 664.50 331.80 664.75 401.86 665.00 421.83 665.25 431.69 665.50 437.72 665.75 441.81 666.00 445.83 666.25 448.58 666.50 450.45 666.75 452.02 667.00 452.76 667.25 454.10 667.50 454.87 667.75 455.66 668.00 455.96 668.25 456.39 668.50 456.46 668.75 457.21 669.00 457.06 669.25 457.07 669.50 457.62 669.75 457.93 670.00 457.89 670.25 458.52 670.50 458.49 670.75 457.85 671.00 457.85 671.25 457.75 671.50 458.77 671.75 457.71 672.00 457.35 672.25 457.33 672.50 457.13 672.75 456.49 673.00 456.45 673.25 454.91 673.50 454.61 673.75 452.98 674.00 451.95 674.25 449.40 674.50 444.56 674.75 437.65 675.00 429.54 675.10 428.02 675.25 429.44 675.50 434.23 675.75 438.78 676.00 438.85 676.25 438.59 676.50 435.33 676.75 430.74 677.00 424.55 677.25 416.42 677.50 402.93 677.75 380.57 678.00 319.50 678.25 288.50 680.50 288.50 680.75 297.53 681.00 374.02 681.25 401.63 681.50 416.06 681.75 425.97 682.00 432.46 682.25 437.02 682.50 441.45 682.75 444.05 683.00 446.42 683.25 446.15 683.50 443.07 683.70 441.32 683.75 440.58 684.00 447.61 684.25 452.99 684.50 454.53 684.75 455.89 685.00 457.09 685.25 457.94 685.50 457.89 685.75 458.85 686.00 459.61 686.25 460.14 686.50 459.98 686.75 460.17 687.00 460.48 687.25 461.49 687.50 461.67 687.75 461.21 688.00 461.80 688.25 461.84 688.50 461.82 688.75 462.39 689.00 462.38 689.25 462.89 689.50 463.27 689.75 462.75 690.00 463.11 690.25 463.55 690.50 463.14 690.75 463.05 691.00 463.20 691.25 463.53 691.50 463.03 691.75 463.62 692.00 463.50 692.25 463.91 692.50 463.87 692.75 464.74 693.00 464.14 693.25 464.37 693.50 464.17 693.75 464.48 694.00 464.36 694.25 463.60 694.50 463.44 694.75 463.72 695.00 464.06 695.25 464.77 695.50 464.33 695.75 464.60 696.00 464.34 696.25 464.61 696.50 464.44 696.75 464.42 697.00 464.44 697.25 464.10 697.50 464.85 697.75 464.79 698.00 464.49 698.25 464.33 698.50 464.64 698.75 464.74 699.00 464.82 699.25 464.69 699.50 465.38 699.75 465.10 700.00 464.80 700.25 465.02 700.50 465.20 700.75 465.31 701.00 465.06 701.25 464.99 701.50 464.71 701.75 464.96 702.00 465.32 702.25 464.94 702.50 465.33 702.75 465.58 703.00 465.41 703.25 465.34 703.50 465.59 703.75 465.09 704.00 465.09 704.25 465.41 704.50 465.53 704.75 465.63 705.00 464.73 705.25 465.56 705.50 465.10 705.75 465.36 706.00 465.11 706.25 465.33 706.50 465.08 706.75 465.34 707.00 465.51 707.25 465.77 707.50 465.57 707.75 465.37 708.00 464.89 708.25 464.90 708.50 465.07 708.75 465.23 709.00 465.82 709.25 465.24 709.50 465.48 709.75 465.57 710.00 465.89 710.25 465.50 710.50 465.57 710.75 465.64 711.00 465.74 711.25 466.18 711.50 465.64 711.75 465.55 712.00 465.67 712.25 465.12 712.50 465.93 712.75 466.00 713.00 465.63 713.25 465.97 713.50 465.70 713.75 466.12 714.00 466.53 714.25 466.39 714.50 466.49 714.75 466.71 715.00 466.34 715.25 465.99 715.50 465.71 715.75 466.76 716.00 465.34 716.25 466.79 716.50 465.97 716.75 465.99 717.00 465.80 717.25 465.93 717.50 465.69 717.75 465.85 718.00 465.91 718.25 466.07 718.50 465.50 718.75 466.70 719.00 465.67 719.25 465.76 719.50 466.05 719.75 465.67 720.00 465.84 720.25 465.88 720.50 465.34 720.75 465.71 721.00 465.80 721.25 466.06 721.50 466.49 721.75 465.84 722.00 465.89 722.25 466.12 722.50 465.77 722.75 466.20 723.00 466.02 723.25 466.65 723.50 465.65 723.75 465.72 724.00 465.22 724.25 465.72 724.50 465.73 724.75 465.69 725.00 465.35 725.25 465.94 725.50 465.75 725.75 465.72 726.00 466.33 726.25 466.72 726.50 465.82 726.75 465.22 727.00 465.71 727.25 466.13 727.50 466.40 727.75 466.29 728.00 465.93 728.25 466.08 728.50 466.09 728.75 465.93 729.00 466.25 729.25 466.09 729.50 466.21 729.75 466.32 730.00 466.37 730.25 465.58 730.50 465.94 730.75 465.90 731.00 466.37 731.25 465.82 731.50 466.09 731.75 466.86 732.00 466.39 732.25 466.00 732.50 466.12 732.75 466.18 733.00 466.31 733.25 466.33 733.50 466.40 733.75 465.96 734.00 465.59"/>
</g>
<line x1="420.50" y1="487.60" x2="734.00" y2="487.60" stroke="#111" stroke-width="1.3"/>
<path d="M430.25 487.60v1.90 M444.85 487.60v1.90 M459.45 487.60v1.90 M474.05 487.60v1.90 M488.65 487.60v1.90 M503.25 487.60v1.90 M517.85 487.60v1.90 M532.45 487.60v1.90 M547.05 487.60v1.90 M561.65 487.60v1.90 M576.25 487.60v1.90 M590.85 487.60v1.90 M605.45 487.60v1.90 M620.05 487.60v1.90 M634.65 487.60v1.90 M649.25 487.60v1.90 M663.85 487.60v1.90 M678.45 487.60v1.90 M693.05 487.60v1.90 M707.65 487.60v1.90 M722.25 487.60v1.90" stroke="#111" stroke-width="1.1"/>
<g font-family="DejaVu Sans, Verdana, sans-serif" font-weight="bold" font-size="7.90" fill="#222" text-anchor="middle"><text x="430.25" y="498.00">10.5</text><text x="459.45" y="498.00">9.5</text><text x="488.65" y="498.00">8.5</text><text x="517.85" y="498.00">7.5</text><text x="547.05" y="498.00">6.5</text><text x="576.25" y="498.00">5.5</text><text x="605.45" y="498.00">4.5</text><text x="634.65" y="498.00">3.5</text><text x="663.85" y="498.00">2.5</text><text x="693.05" y="498.00">1.5</text><text x="722.25" y="498.00">0.5</text></g>
<text x="577.30" y="508.00" font-family="DejaVu Sans, Verdana, sans-serif" font-weight="bold" font-size="7.90" fill="#222" text-anchor="middle">f1 (ppm)</text>
<text x="167.3" y="264.6" font-family="Liberation Serif, Times New Roman, serif" font-weight="bold" font-size="16.4" fill="#111" text-anchor="middle">1q</text>
<text x="577.3" y="265.0" font-family="Liberation Serif, Times New Roman, serif" font-weight="bold" font-size="16.4" fill="#111" text-anchor="middle">2t</text>
<text x="371.8" y="285.7" font-family="Liberation Serif, Times New Roman, serif" font-size="16.6" fill="#111" text-anchor="middle">(<tspan font-weight="bold">a</tspan>)</text>
<text x="167.3" y="529.6" font-family="Liberation Serif, Times New Roman, serif" font-weight="bold" font-size="16.4" fill="#111" text-anchor="middle">3d</text>
<text x="576.9" y="529.6" font-family="Liberation Serif, Times New Roman, serif" font-weight="bold" font-size="16.4" fill="#111" text-anchor="middle">4d</text>
<text x="372.1" y="550.4" font-family="Liberation Serif, Times New Roman, serif" font-size="16.6" fill="#111" text-anchor="middle">(<tspan font-weight="bold">b</tspan>)</text>
</svg>
</body></html>
